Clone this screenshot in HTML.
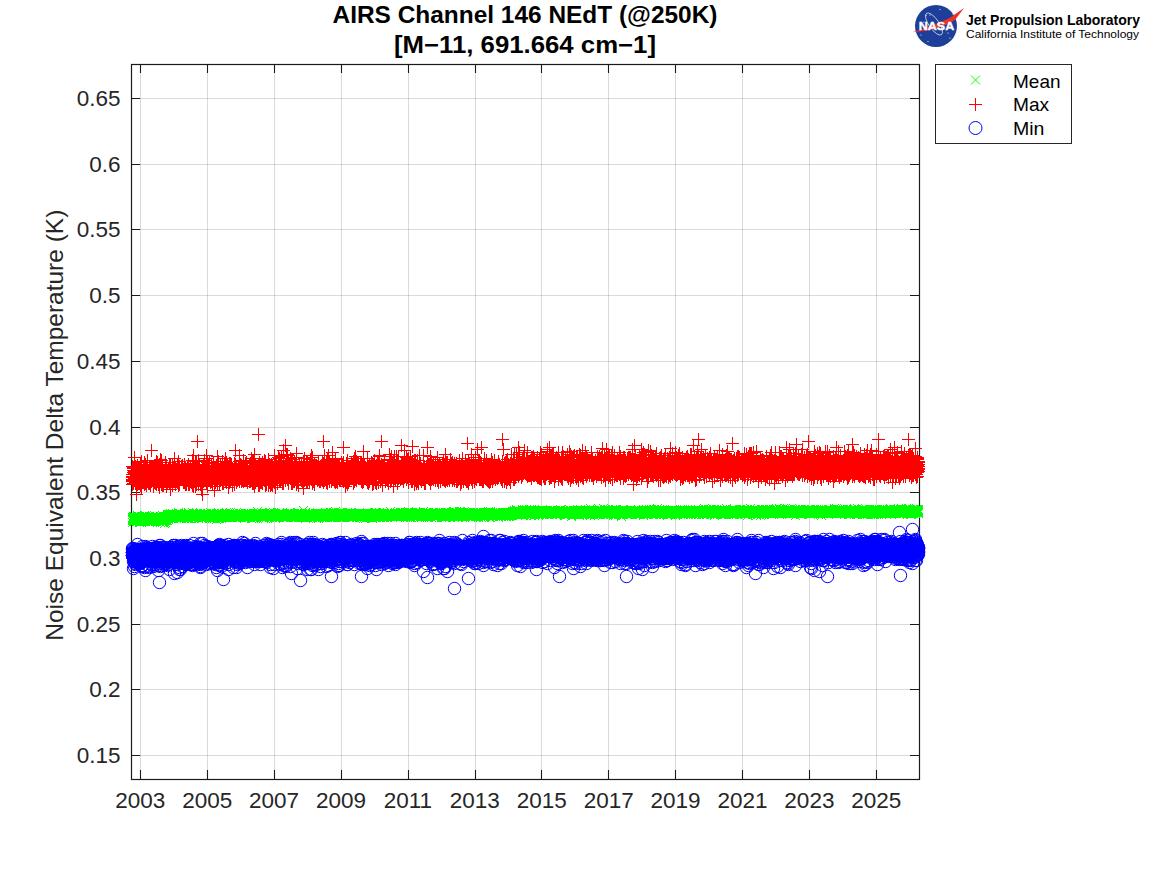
<!DOCTYPE html><html><head><meta charset="utf-8"><title>AIRS Channel 146 NEdT</title><style>html,body{margin:0;padding:0;background:#fff;width:1167px;height:875px;overflow:hidden;position:relative}</style></head><body><svg width="1167" height="875" viewBox="0 0 1167 875" style="position:absolute;left:0;top:0"><defs><marker id="mc" markerUnits="userSpaceOnUse" markerWidth="20" markerHeight="20" refX="10" refY="10" overflow="visible"><circle cx="10.5" cy="10.5" r="6.2" fill="none" stroke="#0000ff" stroke-width="1"/></marker><marker id="mp" markerUnits="userSpaceOnUse" markerWidth="20" markerHeight="20" refX="10" refY="10" overflow="visible"><path d="M4 10.5H17M10.5 4V17" fill="none" stroke="#ff0000" stroke-width="1"/></marker><marker id="mx" markerUnits="userSpaceOnUse" markerWidth="20" markerHeight="20" refX="10" refY="10" overflow="visible"><path d="M6 6L15 15M15 6L6 15" fill="none" stroke="#00ff00" stroke-width="1"/></marker></defs><path d="M131 755.5H919M131 689.5H919M131 624.5H919M131 558.5H919M131 492.5H919M131 427.5H919M131 361.5H919M131 295.5H919M131 229.5H919M131 164.5H919M131 98.5H919" stroke="#000" stroke-opacity="0.145" stroke-width="1" fill="none"/><path d="M140.5 64V779M207.5 64V779M274.5 64V779M341.5 64V779M408.5 64V779M475.5 64V779M541.5 64V779M608.5 64V779M675.5 64V779M742.5 64V779M809.5 64V779M876.5 64V779" stroke="#000" stroke-opacity="0.145" stroke-width="1" fill="none"/><path d="M131 755.5h9M919 755.5h-9M131 689.5h9M919 689.5h-9M131 624.5h9M919 624.5h-9M131 558.5h9M919 558.5h-9M131 492.5h9M919 492.5h-9M131 427.5h9M919 427.5h-9M131 361.5h9M919 361.5h-9M131 295.5h9M919 295.5h-9M131 229.5h9M919 229.5h-9M131 164.5h9M919 164.5h-9M131 98.5h9M919 98.5h-9M140.5 779v-9M140.5 64v9M207.5 779v-9M207.5 64v9M274.5 779v-9M274.5 64v9M341.5 779v-9M341.5 64v9M408.5 779v-9M408.5 64v9M475.5 779v-9M475.5 64v9M541.5 779v-9M541.5 64v9M608.5 779v-9M608.5 64v9M675.5 779v-9M675.5 64v9M742.5 779v-9M742.5 64v9M809.5 779v-9M809.5 64v9M876.5 779v-9M876.5 64v9" stroke="#1a1a1a" stroke-width="1.1" fill="none"/><rect x="131.5" y="64.5" width="788" height="715" fill="none" stroke="#1a1a1a" stroke-width="1.2"/><path d="M132 479l0 1 0 0 0-6 0 2 0-10 0 13 0 5 0-7 0-1 0 5 1-1 0-1 0-12 0 12 0-11 0 4 0 4 0-6 0 2 0-2 0 13 1-11 0 8 0-7 0 5 0-21 0 19 0 3 0 0 0-8 0 5 0-2 1-2 0-1 0-5 0 13 0 3 0 1 0-6 0 2 0 0 0-6 0 6 1 5 0-16 0 15 0-4 0-4 0 19 0-18 0-3 0 6 0 4 0-8 1 8 0-5 0 3 0 3 0-9 0 4 0-3 0 3 0-6 0-8 0 13 1 4 0 1 0-10 0-2 0 10 0-12 0 7 0 2 0 5 0-2 0-4 1 0 0 0 0 5 0 1 0-8 0-6 0 9 0 0 0-8 0 8 0-2 1 9 0-4 0-9 0 8 0-4 0 6 0-4 0 3 0-17 0 16 0-9 1-3 0 9 0-2 0 4 0 8 0-26 0 14 0 4 0 5 0-6 0-1 1 3 0 0 0-7 0 5 0 1 0-6 0 6 0 0 0 3 0-3 0 0 1-4 0 3 0-12 0 7 0 7 0-12 0 14 0-12 0 11 0-7 0 7 1-2 0-8 0 12 0 1 0-6 0-1 0 1 0-9 0 10 0-17 0 16 1-4 0 1 0-8 0 16 0-19 0 18 0-4 0-3 0 2 0-1 1 2 0-7 0 3 0-3 0 2 0 12 0-10 0-2 0-7 0 18 0-13 1-2 0 6 0-15 0 20 0-2 0 1 0-5 0 6 0-13 0 11 0-5 1-1 0 11 0-7 0 3 0-1 0-3 0 1 0 5 0-4 0 0 0 1 1 5 0-2 0-2 0-7 0-6 0 6 0 10 0-5 0 3 0 1 0 0 1 3 0-8 0 8 0-5 0 2 0-5 0 4 0 5 0-15 0 2 0 4 1-4 0 6 0 0 0 3 0-11 0 0 0 9 0-1 0-1 0 1 0-4 1-2 0 5 0-4 0-3 0 10 0-2 0 2 0-14 0 9 0-2 0 1 1 5 0-5 0 5 0 0 0 7 0-15 0 10 0-3 0-1 0-9 0 8 1 5 0-7 0 4 0-2 0 6 0-4 0-11 0 6 0-7 0-1 0 6 1 12 0-5 0-6 0 1 0 9 0-3 0-1 0-2 0 2 0 3 0-1 1-1 0-16 0 21 0-23 0 22 0-11 0 0 0 6 0-7 0 13 0-1 1-7 0 5 0-2 0-17 0 17 0-5 0 4 0-5 0 4 0 0 0 2 1 3 0-5 0 7 0-9 0 1 0-7 0 15 0-2 0-1 0-1 0-2 1 1 0-10 0 8 0-13 0 20 0 3 0-9 0-3 0 0 0 9 1-4 0-2 0-14 0-5 0 17 0 5 0-13 0 9 0-13 0 14 0-8 1 7 0-3 0 7 0-7 0 6 0 4 0-8 0-4 0 6 0 0 0-18 1 19 0 6 0-9 0 1 0-4 0 6 0-8 0 1 0 4 0-3 0 7 1 3 0 1 0 1 0 0 0-5 0-9 0 0 0 7 0 5 0-2 0-8 1 0 0-2 0 8 0-2 0 1 0 1 0-3 0 1 0 1 0-1 0 3 1-4 0 4 0-2 0-9 0 10 0-17 0 13 0 6 0-5 0 0 0-7 1 5 0 4 0 2 0 6 0-8 0-4 0-2 0-5 0 8 0-3 0 6 1-6 0 10 0 0 0 0 0-12 0 9 0-2 0-1 0 0 0-5 0 1 1 7 0-2 0 1 0 3 0-12 0-1 0 3 0 8 0-3 0-1 0 3 1-7 0 2 0 8 0-2 0-15 0 19 0-3 0 3 0-7 0 0 0-4 1 15 0-10 0 6 0-9 0-10 0 5 0 7 0 5 0-12 0 20 0-10 1-6 0 2 0 0 0 4 0-7 0 1 0 3 0 3 0-8 0 6 0 4 1-11 0 7 0-3 0-2 0-5 0 8 0 10 0-12 0-8 0 11 1-7 0 11 0-3 0-10 0 10 0-5 0 2 0 4 0 3 0-12 0 4 1 0 0 7 0-22 0 10 0 9 0 4 0-11 0 2 0 2 0-2 0 7 1-10 0 5 0 5 0-6 0 10 0-11 0-1 0-3 0 16 0-8 0 1 1 0 0-1 0 0 0-2 0-2 0-3 0 3 0-1 0 9 0 0 0-8 1-7 0 10 0 7 0-18 0 15 0-12 0 14 0-9 0 4 0-6 0 2 1 10 0 3 0-24 0 12 0-6 0 7 0 3 0-2 0 1 0-4 0 5 1 0 0 5 0 2 0-8 0-3 0 4 0-4 0 0 0-7 0 6 0 1 1 4 0 1 0-2 0-3 0-1 0-1 0 3 0 4 0 0 0-3 0 2 1-7 0-2 0 8 0-9 0 10 0 1 0-2 0-1 0-2 0-7 0 10 1-5 0 6 0-6 0 7 0 0 0-2 0-1 0-10 0 7 0 7 0-1 1 0 0-1 0-3 0 2 0 3 0 0 0-2 0-8 0 13 0-1 0 0 1-8 0-4 0 11 0-4 0-12 0 14 0-9 0 1 0 4 0 8 0-8 1 4 0 6 0-1 0-7 0 0 0-9 0 6 0 2 0 3 0-1 0 4 1-8 0 4 0 3 0-1 0 5 0-6 0-3 0-3 0 2 0-5 1 10 0-4 0 3 0-10 0 7 0-1 0-6 0-2 0 7 0 7 0-2 1-4 0 3 0 7 0-20 0 12 0-2 0-8 0 17 0-2 0-3 0 0 1 2 0-6 0 3 0 3 0 4 0-8 0 0 0 1 0 5 0 2 0-15 1 3 0 4 0 2 0-12 0 8 0-5 0 3 0 6 0-5 0-4 0 12 1-2 0 0 0-10 0 13 0-7 0 6 0-9 0-3 0 8 0-4 0 6 1 2 0-16 0 12 0-4 0 7 0-20 0 14 0 4 0 7 0-15 0 7 1 2 0 7 0-7 0-7 0 5 0-9 0 4 0-17 0 14 0-4 0 8 1 8 0-4 0 2 0-8 0 6 0-10 0 8 0-4 0 10 0-5 0-3 1-12 0 14 0 4 0-10 0 2 0 4 0 11 0-7 0-3 0 3 0 5 1-1 0-22 0 20 0-3 0 1 0-6 0 11 0-1 0-4 0 0 0-13 1 13 0-4 0 5 0-9 0 4 0-7 0 10 0-12 0 9 0-6 0 6 1-10 0 16 0-4 0 4 0 3 0-8 0-9 0 5 0-2 0-10 0 8 1-4 0 14 0-12 0 14 0-4 0-1 0 1 0-2 0-1 0-6 1 5 0 11 0 1 0-3 0-2 0-5 0 8 0-6 0 0 0-1 0 0 1-1 0 2 0-5 0 3 0 15 0-13 0-1 0 3 0 3 0-10 0 4 1 5 0-3 0-5 0 10 0-9 0-4 0 5 0 8 0-16 0 6 0 2 1 5 0-8 0 10 0-17 0 15 0-4 0-2 0 5 0-12 0 0 0 8 1-5 0 4 0 5 0-1 0 3 0-5 0-15 0 12 0-5 0 3 0 3 1 0 0-7 0 13 0-3 0 1 0 0 0 2 0-3 0 3 0-1 0-3 1 3 0-23 0 20 0-6 0 11 0-22 0 24 0-6 0-6 0-2 0 7 1 0 0-8 0 9 0-3 0-5 0 4 0-10 0 18 0 6 0-15 0 3 1-2 0 7 0-8 0 0 0 3 0-3 0 1 0-2 0-2 0-3 0 9 1 3 0 0 0-15 0 12 0 5 0-1 0-2 0-4 0 6 0-2 0-7 1 3 0 9 0-3 0 2 0-9 0 8 0-5 0 1 0 7 0-3 0-6 1 2 0 2 0 3 0-7 0-8 0 9 0 3 0-9 0 13 0-4 0 3 1-12 0 11 0 5 0-5 0-3 0 0 0 7 0-12 0 4 0 3 0-6 1 2 0 3 0-3 0-2 0 3 0-5 0 6 0 2 0-15 0 13 1 2 0-8 0 6 0-6 0 16 0-2 0 6 0-18 0 7 0-3 0 0 1 6 0-13 0 11 0-4 0 5 0-7 0-2 0-1 0 8 0-3 0 0 1-3 0-8 0 12 0-6 0 5 0 0 0 4 0-7 0 0 0 2 0-9 1 2 0 12 0-8 0-4 0 15 0-8 0-19 0 18 0-1 0 7 0-6 1 4 0-2 0-4 0-9 0 12 0-2 0 0 0 3 0 0 0-15 0 4 1 15 0 3 0-6 0 3 0-2 0 6 0-10 0 7 0-7 0 9 0-1 1-16 0 5 0 7 0 1 0-2 0 1 0-8 0-6 0 3 0 12 0-15 1 14 0-8 0 9 0-5 0-3 0 6 0-6 0 0 0-3 0 7 0 2 1 2 0-4 0 4 0 4 0-22 0 18 0 0 0-6 0 1 0 1 0 1 1-2 0 5 0-12 0 10 0-6 0 6 0 1 0-11 0 16 0-6 0 5 1-3 0-10 0 4 0 4 0-1 0-7 0-6 0 3 0 8 0-10 0 13 1-19 0 14 0 2 0 2 0-8 0-1 0 3 0-5 0 9 0 7 0-12 1 9 0-16 0 11 0 1 0 1 0 2 0 5 0-10 0 4 0-6 1 8 0-4 0 4 0-3 0-7 0-3 0 9 0 5 0-5 0-3 0 3 1-6 0 8 0 11 0-7 0-10 0-4 0 7 0 2 0-4 0 1 0 4 1 3 0-6 0-3 0-3 0-4 0 1 0 14 0-6 0 5 0 5 0-10 1-3 0 9 0 2 0-10 0-4 0 9 0-8 0 14 0-18 0 7 0-2 1 6 0-1 0-2 0 3 0 5 0-15 0 11 0-10 0 5 0 6 0-5 1 2 0 4 0-1 0-4 0 11 0 1 0-16 0 8 0 9 0-7 0 5 1-9 0-2 0 2 0-2 0 6 0-4 0-1 0 4 0-5 0-1 0 3 1 5 0-3 0-13 0 13 0-1 0-1 0-1 0 5 0-11 0 17 0-9 1-10 0-1 0 8 0 4 0-5 0 8 0-9 0-20 0 21 0-6 0 3 1 11 0 1 0-12 0 3 0 11 0-6 0-1 0 0 0 7 0-16 0 9 1-2 0 4 0-5 0-2 0 3 0-3 0 5 0 0 0 5 0-9 0 3 1 0 0 3 0-2 0-3 0-1 0-4 0 3 0 7 0-3 0-4 0 3 1 2 0 2 0-16 0 10 0-6 0-10 0 26 0-18 0 10 0 3 0-3 1-2 0 5 0-1 0-1 0-9 0 9 0-3 0 1 0-8 0 13 1 1 0-6 0 9 0-2 0 0 0 1 0-8 0-7 0 13 0-10 0 8 1-4 0 1 0-3 0 0 0 5 0 5 0-1 0-5 0-5 0 1 0 6 1-2 0 3 0 4 0-6 0-8 0 5 0-12 0 9 0 11 0-4 0-9 1 10 0 3 0-11 0 2 0 2 0 3 0 1 0 2 0 0 0-3 0 4 1-3 0-14 0 11 0 2 0-3 0 5 0-5 0-3 0 10 0-3 0 0 1 1 0 2 0-4 0-14 0 9 0 1 0-2 0 1 0 8 0-7 0-3 1 13 0-14 0 5 0 3 0-10 0 5 0 7 0-2 0-5 0 4 0 3 1-6 0 4 0-2 0 4 0-7 0 0 0 3 0 0 0 3 0 1 0-6 1 4 0-4 0 0 0 2 0 7 0-15 0 10 0 3 0 1 0-5 0-10 1 4 0-2 0 14 0-11 0 9 0-16 0 18 0-3 0-4 0 0 0 1 1 0 0-3 0 3 0 5 0-22 0 20 0-8 0 5 0 3 0-4 0-3 1-4 0 12 0-16 0 14 0-2 0-14 0 10 0 12 0-2 0-5 0 0 1-16 0 20 0 2 0-7 0-1 0-7 0 11 0 5 0-6 0 5 0-15 1 3 0 16 0-18 0 2 0 6 0 2 0-12 0 10 0-18 0-4 1 24 0-7 0-5 0 2 0 4 0-7 0 3 0-2 0 9 0 1 0 6 1-15 0 4 0 7 0-4 0-4 0 10 0-7 0-4 0-1 0 7 0 1 1-8 0-2 0 11 0 0 0-6 0 7 0-1 0-11 0 7 0 3 0-4 1-2 0 3 0 4 0 4 0-17 0 21 0-16 0 9 0-1 0 1 0-3 1-6 0 8 0-6 0-9 0 23 0-8 0 4 0-19 0 18 0 1 0-1 1-6 0-5 0 5 0-10 0 0 0 11 0-10 0 9 0 0 0 8 0-10 1 8 0-1 0-8 0 2 0 9 0-14 0-4 0 4 0 7 0 6 0-10 1-9 0 8 0-1 0-1 0 5 0 10 0-7 0-5 0 6 0-4 0 5 1-8 0 6 0 1 0-13 0 8 0-6 0 6 0-5 0 4 0-4 0 6 1 3 0-7 0-1 0 2 0 7 0-2 0 3 0-5 0 7 0-20 0 14 1-12 0-1 0 24 0-5 0-11 0 6 0-5 0 5 0-8 0 4 0 5 1-1 0 9 0-9 0 8 0-12 0 4 0-10 0 3 0-2 0 4 0 6 1-2 0-5 0 4 0-1 0 0 0 5 0 0 0-5 0-2 0 6 1-7 0 14 0 2 0-7 0-9 0 5 0-10 0 6 0-1 0-10 0 13 1 5 0-5 0 1 0-8 0 16 0-5 0 6 0-18 0 16 0-3 0 2 1 6 0-17 0 11 0 2 0-1 0-1 0 0 0-8 0 5 0-6 0 1 1 0 0 3 0 1 0 0 0-11 0 20 0-5 0-6 0-3 0 3 0 4 1-1 0-10 0 11 0 8 0-20 0 13 0-2 0-2 0 6 0-12 0 7 1 5 0-7 0-1 0-4 0 4 0 8 0-10 0 8 0-6 0 5 0 2 1-18 0 21 0-27 0 17 0 8 0-11 0-4 0 12 0 1 0 2 0-14 1-2 0 10 0-5 0 7 0-2 0 1 0-1 0-5 0 18 0-13 0-5 1 3 0-9 0 14 0-13 0-2 0 12 0-8 0 2 0 9 0-5 0 4 1 3 0-3 0-2 0 9 0-6 0-4 0-5 0 9 0-7 0 5 0-2 1-9 0 9 0 0 0-1 0-15 0 16 0-5 0 7 0-7 0 9 0-9 1-1 0 13 0-12 0-10 0 21 0-7 0 1 0 2 0 3 0-16 0 8 1-1 0 0 0 2 0-1 0 1 0-1 0 3 0 3 0-14 0 13 0 6 1-12 0-9 0 14 0-18 0 19 0-3 0-3 0-1 0 11 0-7 1 3 0-6 0 1 0 2 0 11 0-11 0 0 0-1 0 2 0 7 0-5 1 7 0-7 0 5 0 3 0-6 0-14 0 2 0 9 0-1 0-23 0 28 1-6 0-3 0 2 0 3 0 2 0-8 0 2 0 5 0 0 0-6 0 2 1-1 0 4 0 5 0-10 0 11 0-3 0-12 0 12 0-10 0-1 0 2 1 4 0 1 0-1 0 3 0-11 0 12 0-9 0 0 0-1 0 2 0-14 1 15 0-4 0 11 0 0 0-21 0 15 0 0 0 6 0-22 0 25 0-7 1-2 0 5 0 3 0-2 0 1 0-2 0 8 0-11 0 2 0 6 0-19 1 14 0-5 0 3 0 3 0-10 0 11 0-8 0 6 0-12 0 11 0 3 1-7 0 5 0-17 0 19 0-5 0 5 0-12 0 12 0-4 0 3 0-6 1 1 0 12 0-13 0 1 0 3 0-5 0 11 0 1 0-19 0 4 0 13 1-1 0-5 0 6 0-20 0 15 0-7 0-3 0 14 0-7 0 12 0-9 1-3 0 6 0 4 0-5 0-8 0 8 0 2 0-6 0-2 0 8 0-3 1-14 0 7 0 2 0 2 0-11 0 17 0 3 0-15 0 10 0 2 1-2 0 0 0-12 0 5 0 9 0-9 0-6 0 15 0-8 0 3 0-6 1-10 0 11 0 4 0 4 0-10 0 11 0-20 0 12 0 15 0-10 0-21 1 28 0-11 0 10 0-5 0 4 0-7 0-1 0-1 0 8 0-8 0 2 1 5 0-4 0 1 0 11 0-11 0-4 0 7 0-10 0 11 0 0 0-7 1 0 0 4 0-1 0-5 0-4 0-1 0 8 0 0 0 1 0 2 0-7 1 8 0-3 0-2 0-4 0 1 0 7 0-6 0 2 0 7 0 0 0 0 1-5 0-9 0 14 0-3 0 0 0 5 0-2 0-1 0 0 0-1 0 0 1-2 0 8 0-4 0-7 0 10 0-8 0 5 0-2 0-9 0 15 0-10 1-4 0 2 0 2 0 10 0-21 0 17 0-9 0 6 0 2 0 11 0-17 1 5 0-1 0-17 0 16 0-1 0-11 0 14 0 0 0-4 0-11 0 19 1-5 0 3 0 1 0-8 0 6 0-4 0 0 0-2 0 3 0 4 0-4 1-1 0 0 0 2 0-14 0 8 0 5 0-6 0 3 0-8 0 19 0-3 1-3 0-2 0 8 0-7 0-1 0-13 0 12 0 6 0-5 0 8 0-12 1 5 0-6 0 7 0-4 0 2 0 3 0 2 0-11 0 4 0-5 1 7 0-1 0-1 0-4 0 3 0-1 0 11 0-1 0-16 0 9 0-9 1 8 0-3 0 4 0-2 0 6 0-3 0-2 0-10 0-3 0 8 0 9 1-1 0-1 0 4 0 1 0-24 0 15 0 6 0 3 0-9 0-2 0 10 1-7 0-5 0 8 0-6 0 0 0 15 0-26 0 6 0 13 0 1 0-5 1 2 0-4 0 11 0-5 0-11 0 9 0-9 0 10 0-4 0 5 0-5 1 2 0-6 0 8 0-1 0 10 0-10 0-11 0 8 0 3 0-6 0 2 1 3 0 2 0-3 0-3 0 8 0-9 0 3 0-3 0 2 0 6 0-10 1 10 0 1 0-5 0 4 0-8 0-2 0 12 0-3 0-10 0 4 0 9 1 2 0-11 0 11 0-9 0-5 0 8 0 1 0-9 0 11 0 2 0-11 1-1 0 8 0-4 0-6 0 12 0-15 0 12 0 5 0-5 0-4 0 4 1-5 0-2 0 11 0-7 0 1 0 8 0-3 0 0 0 2 0 2 0-2 1-5 0 7 0-13 0 5 0-6 0 5 0-6 0 9 0-5 0 4 0-2 1 0 0-2 0 4 0-9 0 9 0 0 0 1 0-6 0-2 0 12 1-18 0 19 0-4 0 1 0-9 0 10 0 2 0-11 0 3 0 3 0 0 1 6 0-10 0 5 0-8 0 14 0-12 0-7 0 3 0 9 0 6 0-9 1 3 0 0 0 5 0-7 0-9 0 14 0-10 0 6 0 0 0-19 0 23 1-11 0 9 0 3 0-6 0-8 0 3 0 6 0 3 0-2 0 3 0-7 1 4 0-9 0 11 0-3 0-2 0 6 0-6 0-10 0 12 0-8 0 16 1 1 0-12 0 3 0-2 0 3 0 1 0 3 0-20 0 9 0 1 0 6 1 3 0-2 0-21 0 15 0 1 0 2 0 5 0-11 0 0 0 9 0 0 1-1 0 4 0-3 0 1 0-1 0 5 0-19 0 17 0-7 0 0 0-3 1-5 0 8 0-2 0 6 0-8 0 7 0 0 0 0 0-5 0 1 0-3 1 6 0 0 0-1 0-6 0 4 0-2 0 5 0 7 0-6 0-3 0-6 1-1 0-13 0 24 0-6 0 4 0-3 0 2 0 6 0-9 0 2 0 3 1 2 0-11 0 2 0-1 0 4 0 4 0 4 0-10 0 8 0-2 0-7 1 3 0 1 0-5 0 14 0-17 0 11 0 0 0-4 0 3 0 3 0-3 1 1 0 1 0-18 0 21 0 3 0-5 0 0 0-10 0-2 0-6 1 6 0 12 0-7 0 3 0-9 0 9 0-8 0 3 0-1 0 14 0-13 1-4 0 6 0 9 0 3 0-7 0-10 0 6 0 7 0-9 0 11 0-1 1-11 0 0 0 8 0 0 0-8 0 10 0-12 0 4 0 4 0-2 0-6 1 0 0 3 0 5 0 4 0-2 0 2 0-7 0 9 0-5 0-7 0 1 1 5 0-2 0-4 0 7 0-3 0 3 0-1 0 3 0 3 0-7 0-3 1 2 0 4 0-14 0 16 0-13 0 7 0-1 0 6 0-8 0-2 0 10 1-3 0-6 0 11 0-2 0-13 0 14 0-10 0 12 0-15 0 5 0 2 1-2 0 4 0 0 0-2 0-1 0-24 0 34 0-19 0 12 0 4 0-3 1-3 0-4 0 5 0-2 0 0 0-2 0 2 0 2 0 5 0-6 0 7 1-6 0 2 0 2 0-3 0-4 0 0 0 11 0-9 0 0 0 14 0-8 1 1 0-8 0 11 0-8 0 2 0-3 0-10 0 4 0 7 0 0 0-2 1-6 0 0 0 2 0-2 0 11 0 1 0 6 0-8 0-6 0-1 0-9 1 10 0 3 0-5 0 14 0-6 0-2 0 2 0 3 0-11 0 3 0-4 1 13 0-6 0 2 0-9 0 1 0 4 0 2 0 2 0-3 0-2 1 6 0-3 0-2 0-1 0 0 0 6 0-5 0 3 0-4 0-5 0 9 1-7 0 8 0-13 0 2 0 4 0 1 0-1 0-1 0 8 0-4 0 3 1-4 0-4 0-3 0 9 0 3 0-2 0-3 0-3 0 6 0 2 0-7 1 1 0 5 0 8 0-15 0 7 0 0 0-14 0 13 0-4 0 7 0-11 1 3 0 3 0 7 0-8 0 2 0-15 0 14 0 4 0 5 0-5 0-2 1 4 0-10 0 11 0-2 0-4 0 1 0 1 0 0 0-1 0-5 0-13 1 14 0 0 0 2 0-1 0-10 0 15 0 1 0 1 0 2 0 0 0-13 1 10 0-2 0 0 0 2 0-15 0 12 0-5 0 1 0 3 0-7 0 2 1 8 0-13 0 9 0-8 0 3 0 1 0 10 0-15 0 14 0-4 0 0 1 0 0 2 0-3 0 6 0-3 0-2 0 0 0 3 0 1 0 0 0-2 1 2 0-3 0-2 0 1 0-10 0 15 0-13 0 2 0 5 0-9 0 14 1-2 0-13 0 13 0-4 0 10 0-13 0-6 0 12 0-2 0-1 0-8 1 12 0 1 0-12 0 14 0-8 0 12 0-7 0-3 0 5 0-9 1 4 0 4 0-5 0-20 0 30 0-23 0 12 0 5 0-9 0 1 0 2 1 2 0 3 0 4 0-13 0 7 0 4 0-8 0 6 0-5 0 8 0-4 1 0 0-6 0 7 0-6 0 8 0-3 0-3 0 7 0-6 0-1 0 8 1-6 0 0 0-3 0-1 0 3 0 1 0 7 0 0 0-7 0 3 0-2 1 4 0-14 0 11 0 8 0-8 0-8 0 12 0-7 0 1 0-14 0 19 1-1 0 0 0 1 0 6 0-13 0 7 0-7 0 2 0 5 0-9 0 0 1 2 0 10 0-11 0 5 0-3 0-6 0 3 0 12 0-14 0 8 0 7 1-5 0-9 0 5 0 2 0 2 0-6 0-3 0 10 0-1 0-2 0-4 1 5 0-1 0 2 0-9 0-3 0 8 0-4 0 6 0-5 0 2 0-9 1 4 0 7 0-3 0 4 0 10 0-17 0-4 0 7 0 5 0 6 0-5 1-10 0 10 0-12 0 2 0 17 0-8 0 6 0-10 0 6 0-3 0 4 1-10 0-2 0 13 0 0 0-18 0-1 0 14 0-7 0 12 0-1 0-3 1 1 0 1 0 0 0-1 0-9 0 8 0 7 0-11 0 2 0-3 0 5 1 1 0-11 0 10 0-8 0 2 0 6 0-3 0 4 0 7 0-7 1-14 0 3 0 5 0-8 0 9 0-3 0 2 0 2 0-4 0-3 0 1 1 7 0 0 0 4 0-14 0 9 0 4 0-10 0 16 0-4 0 0 0-11 1 8 0-11 0-8 0 20 0-2 0-3 0 6 0-22 0 19 0 1 0-6 1 6 0-7 0 6 0-4 0 11 0-13 0 8 0-9 0-1 0 8 0 2 1-9 0 11 0-11 0 9 0-1 0 1 0-12 0 15 0-11 0 3 0-3 1-3 0 1 0 4 0 2 0-4 0 3 0 14 0-13 0-2 0 8 0-9 1 4 0-3 0-5 0 2 0-2 0 7 0 3 0 0 0-1 0 0 0-6 1-6 0 9 0-2 0 0 0 3 0-5 0-1 0 7 0 2 0-7 0 1 1 3 0-4 0 2 0 10 0-10 0 8 0-4 0 5 0-10 0 12 0-7 1 4 0-6 0 4 0-3 0-1 0 6 0-8 0-2 0 8 0 1 0 0 1-10 0 10 0-5 0-3 0-2 0 7 0-2 0-5 0 4 0 7 0-7 1-4 0 10 0-9 0 15 0-14 0 4 0 7 0-10 0-3 0 6 0 5 1-11 0-7 0 6 0-12 0 16 0 6 0-3 0-3 0 4 0-6 1 5 0-2 0 10 0-5 0-7 0-10 0 12 0-6 0 5 0 0 0 5 1-8 0 2 0-7 0 5 0 6 0-1 0 6 0-22 0 23 0-19 0 9 1-6 0 3 0 5 0 5 0-2 0 1 0-4 0 0 0-1 0 7 0-2 1-7 0 1 0-3 0 8 0-13 0 25 0-15 0 2 0 6 0-2 0-4 1 2 0-19 0 5 0 1 0 16 0-18 0 8 0 1 0-4 0 7 0 2 1 1 0 5 0-5 0 0 0-5 0 6 0-2 0-3 0-2 0 4 0 1 1 1 0-5 0-14 0 20 0-9 0 7 0-9 0-5 0-4 0 20 0-11 1 18 0-23 0 19 0 0 0-3 0-4 0 3 0-6 0 7 0-8 0-2 1 11 0-9 0 4 0 2 0-7 0 11 0-3 0-9 0 7 0-17 0 14 1 4 0-4 0 7 0 0 0 0 0-4 0 3 0-6 0 1 0-4 0-1 1 10 0 3 0-1 0-4 0-6 0 7 0-4 0 8 0-7 0-3 0-1 1 10 0-4 0-2 0 6 0-10 0 4 0-1 0-8 0 13 0-9 0 3 1-1 0 7 0-5 0 2 0-8 0 6 0-5 0 8 0 1 0-4 0 7 1-4 0 7 0-7 0-2 0-9 0 14 0-10 0 10 0-7 0 7 1-2 0-12 0-2 0 16 0-17 0 6 0 9 0-4 0-21 0 12 0-1 1 13 0-1 0-1 0 2 0 1 0-12 0 9 0-3 0-2 0 3 0 3 1-1 0-5 0-10 0 19 0-8 0-3 0 14 0-4 0 0 0-7 0 3 1-2 0-1 0 2 0-11 0 17 0 0 0-3 0 4 0-3 0 3 0-11 1-1 0 5 0-4 0-8 0 15 0-2 0-1 0-3 0-6 0 10 0 11 1-10 0 1 0 3 0-5 0-4 0 7 0-8 0 9 0-1 0 2 0-5 1 2 0-2 0-1 0 3 0-14 0 8 0 1 0-3 0 9 0 3 0-21 1 19 0-2 0 1 0 0 0-4 0-1 0 12 0-19 0 11 0 2 0-7 1-2 0 15 0-10 0 6 0-2 0-14 0 18 0-3 0 2 0-3 0-1 1 0 0 4 0-2 0-8 0 2 0 4 0-4 0 1 0-3 0 4 0 3 1 2 0-4 0 8 0-8 0 11 0-7 0-2 0-9 0-6 0 12 0 2 1-7 0-1 0 14 0-8 0 4 0-16 0 14 0-3 0 0 0 3 0-7 1 10 0-1 0-1 0 2 0 0 0-8 0-3 0 0 0 12 0 5 1-9 0-3 0 2 0 0 0-2 0-1 0 11 0-7 0-5 0-9 0 10 1 6 0 0 0-8 0 5 0-1 0-4 0 10 0-5 0 10 0-14 0 3 1 5 0-5 0-17 0 13 0 6 0 0 0-1 0-1 0 5 0-3 0 2 1-4 0 6 0-15 0 10 0 0 0-1 0-6 0 3 0-1 0 3 0 8 1-7 0 0 0 9 0-8 0-3 0 2 0 2 0-6 0 7 0 2 0-6 1 7 0-6 0 0 0 0 0-3 0 6 0-2 0 6 0-4 0 0 0-3 1-7 0 8 0-18 0 22 0-6 0 8 0-3 0 0 0-2 0 0 0 2 1 1 0-7 0 5 0 8 0-15 0 4 0-2 0-4 0 7 0 0 0-6 1 13 0 3 0-14 0 8 0-1 0-1 0 0 0-2 0 6 0-4 0-2 1 0 0 4 0-2 0-1 0 3 0-2 0-2 0-4 0-1 0-2 0 8 1-8 0-3 0 10 0 3 0-2 0-6 0 1 0 1 0-3 0 1 0 5 1-5 0 10 0-4 0-7 0 3 0-1 0 3 0-8 0 10 0-1 0-1 1 3 0-11 0 2 0 4 0 0 0 7 0-6 0 7 0-9 0 10 0-4 1-4 0-4 0-11 0 12 0-2 0 8 0-1 0 0 0-2 0 12 1-12 0-1 0 8 0 1 0 0 0-15 0 6 0 9 0-6 0 2 0-14 1 10 0-1 0 8 0-5 0 4 0-7 0-5 0 5 0 8 0-10 0 8 1 2 0-4 0-6 0 11 0-9 0 9 0-4 0 0 0-4 0-8 0 6 1 0 0 6 0-1 0-5 0 2 0 2 0-5 0 1 0-2 0 3 0 1 1 4 0 5 0-16 0 9 0 0 0 0 0-1 0-1 0 4 0-4 0-3 1 5 0 1 0-2 0 5 0-4 0 1 0-1 0-5 0 1 0-1 0 6 1-4 0-13 0 17 0 1 0-9 0 14 0-7 0-14 0 4 0 3 0 4 1 9 0-11 0 2 0 6 0-8 0 5 0-7 0 16 0-13 0 4 0 3 1-3 0-10 0 12 0-1 0 2 0 1 0-2 0 0 0-1 0-6 0 4 1 0 0-1 0 2 0-8 0 14 0 2 0-11 0-1 0 3 0 6 0-3 1-2 0 2 0-1 0-6 0 3 0-1 0 3 0 1 0 3 0-4 0 4 1-8 0 6 0-3 0 2 0-1 0 6 0-16 0 11 0-8 0 12 0-14 1-3 0 4 0 14 0-12 0 4 0-1 0-5 0 5 0 6 0-4 0 5 1-6 0-7 0 7 0 2 0 7 0-6 0 0 0-4 0-3 0 12 1-25 0 15 0 3 0-4 0 13 0-19 0 12 0 2 0-8 0 4 0 3 1 2 0-8 0-4 0 12 0 2 0-8 0-9 0 14 0-4 0 5 0-3 1-3 0-8 0 16 0 0 0-17 0 6 0 12 0-9 0-9 0 11 0 0 1-4 0 3 0 0 0-1 0 3 0-5 0 9 0-6 0 6 0-3 0-2 1 5 0-3 0 2 0-2 0 5 0-2 0-12 0 7 0 3 0-1 0-2 1-9 0 0 0 10 0 2 0-2 0-15 0 18 0-7 0 5 0 0 0-6 1 1 0-7 0 6 0-5 0 10 0 3 0-14 0 7 0 0 0 4 0-3 1 4 0-5 0-2 0-4 0 7 0-1 0 6 0 4 0-9 0 0 0-9 1 10 0 4 0-11 0 9 0 4 0-10 0 3 0-3 0 10 0-13 0 6 1 9 0-17 0 12 0-3 0-5 0 6 0 2 0-7 0 6 0 4 0-1 1-12 0 3 0-3 0 9 0-2 0 4 0-7 0-2 0 6 0 0 0-4 1 12 0-6 0-3 0-4 0-5 0 9 0 0 0 0 0-7 0 5 0 7 1-4 0 8 0-13 0 4 0-2 0-3 0 0 0 4 0 6 0-3 1 5 0-7 0-1 0-5 0 4 0 8 0-4 0 2 0 0 0-3 0-4 1-9 0 16 0-1 0 0 0-1 0-5 0-4 0 3 0 9 0-15 0 10 1 6 0-7 0-5 0 7 0 5 0-6 0 3 0-2 0-2 0 13 0-11 1-6 0 4 0 11 0-11 0 5 0-12 0 2 0 9 0-6 0 3 0-6 1 5 0-2 0 4 0-7 0 7 0-11 0 5 0 0 0-9 0 18 0-11 1 5 0 0 0 1 0 5 0-4 0-2 0-1 0 12 0-5 0 1 0-11 1 1 0 10 0-5 0 0 0 2 0-7 0 9 0-4 0 3 0-5 0 5 1-6 0 5 0 5 0-3 0-9 0-5 0-2 0 18 0-6 0 1 0 2 1-9 0-2 0 11 0-1 0-4 0-2 0 10 0-11 0 14 0-8 0-8 1 12 0-2 0-2 0 6 0-8 0 8 0-8 0-6 0 10 0-3 0 9 1-9 0 4 0-4 0-2 0 1 0-2 0 2 0-11 0 9 0 4 0 10 1-4 0-8 0-1 0-2 0-3 0-1 0 14 0-4 0-7 0 6 0 3 1-7 0 5 0-5 0 1 0 5 0 1 0-8 0-1 0 10 0-9 0 7 1-1 0 2 0 3 0-4 0 1 0-22 0 15 0 6 0 4 0-1 1-8 0 4 0-1 0 4 0-8 0 3 0-4 0 14 0-15 0 4 0-5 1 11 0-9 0 8 0-11 0 6 0 6 0-8 0 4 0-3 0-9 0 13 1-4 0-3 0 8 0-7 0 0 0 5 0-4 0 12 0-12 0 7 0 1 1-14 0 1 0 11 0-5 0 4 0 3 0 1 0-19 0-2 0 16 0-5 1 9 0-3 0-8 0 13 0-2 0-1 0-9 0 4 0-1 0 2 0-5 1 7 0-5 0 4 0-3 0 6 0-3 0-24 0 21 0 2 0 4 0-3 1-2 0-2 0 6 0-6 0 1 0-1 0 6 0-13 0-2 0 15 0-6 1 0 0 5 0 3 0 0 0-17 0 14 0-8 0 13 0-6 0 0 0-2 1-9 0 17 0-6 0-8 0 9 0 1 0-4 0-6 0 14 0-17 0 8 1 9 0-3 0-4 0-9 0 10 0 2 0-3 0-6 0 3 0-3 0 8 1 2 0 1 0-8 0 5 0-1 0-3 0 2 0 9 0-8 0 3 0-6 1 1 0-7 0 3 0 10 0 4 0-4 0-2 0-2 0-3 0 2 0 3 1-9 0 10 0-8 0-4 0 4 0-1 0-9 0 19 0-11 0 7 1 4 0 0 0-7 0 8 0-4 0-1 0-6 0-1 0 3 0 3 0 3 1-4 0 1 0 7 0-1 0-2 0 1 0-13 0 7 0-11 0 11 0-4 1 12 0-8 0-3 0 6 0 6 0-7 0 4 0-7 0 0 0-1 0-4 1 15 0-15 0 16 0-15 0 5 0 5 0-1 0-1 0-10 0 10 0-5 1 13 0-11 0 4 0-8 0 3 0-4 0 10 0-5 0 4 0-7 0 1 1 12 0-13 0-4 0 5 0-2 0 3 0 6 0-6 0 6 0-7 0 9 1 0 0-8 0 1 0-4 0 7 0 3 0-18 0 17 0-10 0 5 0-7 1 17 0-7 0-2 0-3 0 8 0-15 0 11 0-2 0 0 0 8 0-4 1-3 0 1 0 0 0 0 0 1 0 4 0-4 0 2 0 2 0-3 0-4 1-11 0 15 0-9 0 2 0-5 0 4 0-5 0 8 0 0 0 3 0 4 1-5 0 0 0-2 0 9 0-2 0-5 0-6 0 3 0 6 0-6 0 5 1 1 0-1 0 1 0-1 0-8 0 5 0 4 0-9 0 4 0 7 0-5 1-4 0-2 0 9 0 0 0 3 0-5 0 3 0-6 0 3 0-6 0 6 1 2 0 2 0-15 0 15 0-7 0-1 0 3 0-11 0 11 0 2 1-3 0 4 0-4 0 2 0-8 0 7 0-5 0 3 0 2 0 1 0-9 1 2 0 5 0 3 0 0 0 2 0 1 0-3 0 0 0-5 0-1 0 2 1 3 0 0 0-1 0 0 0 7 0-7 0 2 0 0 0-4 0-3 0 7 1 0 0-3 0-1 0 11 0-13 0 6 0-1 0-12 0 12 0 6 0-3 1-1 0-4 0 4 0-7 0 4 0 1 0 0 0 3 0-2 0 0 0-25 1 14 0 18 0-4 0-6 0-3 0 5 0-6 0 7 0-4 0 6 0 2 1-16 0 6 0 1 0-4 0 6 0-7 0 14 0-13 0 11 0-2 0 1 1-1 0-2 0-2 0 4 0 0 0 1 0 7 0-7 0-1 0 4 0-17 1 6 0 3 0-6 0 11 0-4 0 8 0-1 0-3 0-16 0 16 0-8 1 0 0 7 0 1 0-2 0 5 0-1 0-9 0 5 0-9 0 11 0-7 1 8 0-2 0 3 0-1 0-11 0 8 0-2 0 7 0-4 0 1 0 4 1-5 0 8 0-17 0 11 0-5 0 1 0 0 0 5 0-7 0-7 0 9 1-3 0 2 0 0 0 3 0-4 0 5 0-4 0-1 0 1 0-17 1 19 0 1 0-5 0-2 0 0 0-3 0 1 0 4 0 5 0 0 0-3 1 3 0-5 0-4 0 0 0 14 0-20 0 11 0 6 0-3 0-8 0-1 1 10 0 1 0-21 0 19 0-2 0 4 0 1 0-7 0-7 0 17 0-2 1-4 0-2 0 6 0-12 0 8 0-5 0 2 0 0 0 6 0-11 0 2 1-5 0 10 0-10 0 9 0-17 0 14 0 6 0-9 0 7 0 0 0-4 1-6 0 12 0-4 0 4 0-14 0 1 0-2 0 6 0 9 0-2 0-2 1-9 0 12 0-6 0 6 0-3 0-11 0 16 0 1 0-14 0 7 0-1 1-1 0 7 0-6 0-3 0-8 0 10 0-7 0 1 0 12 0-12 0-9 1 18 0-2 0-2 0 7 0-11 0 2 0-1 0 1 0 8 0-10 0 2 1 1 0-3 0 6 0 5 0-7 0-3 0 4 0 5 0-7 0 6 0 6 1-10 0 3 0-2 0-2 0-5 0 3 0 7 0 1 0-3 0-10 0 16 1-2 0-10 0 7 0 0 0 2 0-7 0 1 0 1 0-6 0-4 0 10 1 4 0-7 0 2 0-1 0-15 0 22 0-5 0 4 0-7 0 2 0-5 1 11 0-5 0 3 0 2 0-3 0 4 0-3 0 2 0 0 0-5 1-4 0-2 0 6 0 4 0 3 0-1 0-6 0-8 0 12 0-2 0 5 1-10 0 4 0 4 0-5 0 5 0 4 0-1 0-3 0-1 0-19 0 12 1 6 0 0 0-1 0 0 0-3 0 5 0 4 0-4 0-10 0 4 0-3 1 3 0 6 0 0 0-5 0 5 0-5 0-4 0 0 0-1 0 14 0-12 1-3 0 15 0-6 0 0 0-3 0 3 0-2 0 2 0 2 0 3 0-3 1-14 0 11 0 3 0-13 0 13 0-1 0-5 0 13 0-13 0 0 0 7 1-12 0 5 0-8 0 7 0 5 0 2 0 3 0-7 0 7 0-16 0 9 1 7 0-7 0-1 0 9 0-3 0-7 0 7 0-3 0-6 0-7 0 7 1 9 0-8 0 11 0-4 0-6 0 4 0-6 0 7 0 2 0 1 0-15 1 10 0 3 0 0 0 3 0-11 0 5 0-6 0 8 0 1 0 1 0-6 1 4 0-5 0-3 0 10 0-8 0-3 0 4 0 6 0 4 0-2 0 0 1-16 0 12 0 2 0 0 0 0 0 1 0 4 0-1 0-6 0-11 0 19 1-15 0 12 0 3 0-12 0 5 0-2 0 3 0-2 0 8 0-5 0-3 1 9 0-10 0-1 0 11 0-13 0 2 0 3 0-6 0-6 0 15 1-17 0 3 0 8 0-4 0-11 0 18 0 8 0-10 0 4 0-18 0 16 1-16 0 18 0-4 0-8 0 9 0-3 0-4 0 17 0-16 0 0 0-9 1 12 0 4 0 3 0-3 0 0 0-1 0 4 0-13 0 11 0-6 0-2 1 6 0-2 0 8 0-11 0-6 0 11 0 7 0-3 0 2 0-5 0-8 1 2 0 8 0-3 0-3 0 2 0 2 0-10 0 8 0 7 0 3 0-2 1 0 0-9 0-2 0-7 0 17 0-8 0 11 0-7 0-1 0-13 0 18 1-8 0 1 0-10 0 15 0 1 0-8 0 2 0 3 0 2 0-3 0-6 1 4 0-2 0 1 0-18 0 2 0 22 0-3 0-3 0-1 0-7 0 9 1 5 0-1 0-7 0 8 0-3 0-3 0 5 0-11 0-2 0 13 0-6 1 4 0-4 0 2 0 4 0 6 0-10 0-21 0 27 0-2 0 0 0-8 1 13 0-12 0 6 0-11 0-5 0 11 0 3 0 2 0-6 0 8 0-9 1-8 0 16 0-9 0 9 0 0 0-3 0 8 0-7 0-6 0 0 0-3 1 5 0-12 0 13 0 0 0-10 0 14 0-11 0 14 0-8 0 1 1-3 0 9 0-6 0 3 0-16 0 20 0-3 0 3 0-14 0 8 0 0 1 4 0-1 0-2 0 0 0-2 0 5 0 1 0-4 0 12 0-20 0 7 1 8 0-9 0-8 0 16 0-2 0-13 0 12 0-8 0-2 0 6 0-1 1-10 0 10 0-3 0 5 0 0 0 3 0-7 0-3 0 1 0 5 0 5 1-2 0-5 0 7 0-10 0 10 0-7 0 6 0-14 0 10 0 2 0-6 1 5 0 0 0 10 0-8 0-8 0-11 0 8 0 1 0 4 0 13 0-15 1 12 0-2 0-8 0 1 0-4 0 0 0 9 0-5 0 5 0-10 0 5 1 5 0-9 0 7 0-5 0 10 0-7 0 0 0 7 0 2 0-14 0 5 1 3 0-3 0-2 0 7 0-15 0 21 0-7 0-3 0-6 0 11 0-1 1-8 0 6 0-8 0-10 0 9 0 1 0 4 0-2 0 15 0-7 0-5 1-3 0 8 0-16 0 3 0 13 0 0 0 1 0-3 0-7 0-2 0 10 1-6 0 1 0-4 0 5 0 5 0-1 0-8 0 1 0 3 0 4 0-8 1 5 0-10 0 4 0 6 0 5 0-10 0 2 0 8 0-6 0 2 0 2 1-2 0 4 0-2 0-5 0 2 0 1 0-7 0 2 0 9 0-12 1 12 0-3 0 6 0-5 0 0 0 3 0-7 0 1 0-14 0 22 0-3 1-9 0 3 0-2 0 4 0 1 0 8 0-18 0 13 0-2 0-6 0 3 1-1 0 2 0 3 0-21 0 10 0 6 0 8 0-6 0 1 0-3 0 6 1-4 0-4 0 7 0 0 0 3 0-21 0 14 0 12 0-17 0 5 0 9 1-1 0-11 0 12 0-3 0-7 0 4 0-1 0-8 0 4 0-2 0-8 1 20 0-9 0-10 0 10 0 3 0 1 0-2 0-4 0 10 0-9 0 6 1-4 0-5 0 10 0-17 0 14 0 1 0 2 0-1 0-3 0-2 0 10 1-10 0 1 0-4 0 1 0 0 0 6 0-2 0-3 0-2 0-9 0 12 1 1 0-3 0 5 0-4 0-1 0 11 0-4 0 2 0-5 0 4 0-1 1 2 0 4 0-6 0-2 0-1 0-13 0 5 0 8 0 2 0-5 0-3 1 11 0-9 0 10 0 1 0-5 0-7 0 10 0-18 0 11 0 2 0-9 1 8 0 4 0 2 0-3 0-8 0 5 0 4 0-5 0 13 0-12 0-2 1 7 0-1 0-3 0-1 0-5 0-3 0 12 0-18 0 17 0 1 1 0 0-15 0 7 0 1 0 3 0 2 0 5 0-4 0-16 0 14 0 7 1-10 0 4 0 5 0-5 0-11 0 11 0-3 0 1 0 6 0-3 0-3 1 4 0-1 0-1 0 0 0 0 0-3 0 0 0 2 0-19 0 13 0 14 1-9 0 3 0-3 0 1 0 0 0 0 0-4 0 8 0-7 0 12 0-19 1 6 0 2 0 1 0-2 0 4 0-6 0 5 0-11 0 9 0-1 0 5 1-1 0-5 0 4 0-17 0 7 0-5 0 20 0-6 0-2 0-1 0-5 1 14 0-5 0 7 0-8 0-11 0 11 0-1 0 1 0 1 0-1 0 5 1-4 0-4 0 6 0-5 0 8 0-1 0-4 0 0 0 2 0-3 0-9 1 9 0 3 0-7 0 5 0 1 0-10 0 7 0-1 0 6 0-12 0 9 1 6 0-5 0-9 0 8 0 4 0-7 0 7 0-2 0-1 0-8 0 4 1-3 0 6 0 2 0 0 0-6 0 4 0 1 0-10 0 5 0 1 0 0 1 2 0-6 0 7 0 2 0-1 0-18 0 17 0-6 0 12 0-8 0 0 1 2 0-1 0 1 0 6 0-17 0 14 0 1 0-9 0-2 0 9 0 2 1-8 0 12 0-14 0 3 0 12 0-7 0-3 0-2 0 1 0 6 1-9 0 10 0 0 0-11 0 3 0-3 0 6 0 5 0-2 0-8 0 3 1 6 0-7 0 2 0 3 0-11 0 12 0-4 0 3 0-7 0 2 0 0 1 4 0-1 0-1 0 8 0-2 0-9 0 1 0 9 0-8 0 7 0-5 1-3 0 2 0 2 0-5 0-1 0 3 0 5 0-6 0 8 0-7 0-11 1 18 0-10 0-6 0 13 0-8 0 8 0 3 0-9 0 5 0-7 0 8 1 0 0-13 0 6 0 7 0 3 0-3 0-11 0 10 0 1 0-15 0 18 1-5 0 1 0-6 0 5 0 0 0-9 0 9 0-11 0 16 0-11 0-5 1 2 0 3 0-6 0 9 0 4 0-6 0 13 0-6 0 5 0-12 0 7 1-7 0-2 0 9 0-10 0 5 0-4 0-14 0 17 0-1 0-2 0 7 1 2 0-10 0 4 0 4 0-1 0-3 0 7 0 2 0-3 0-3 0 8 1-1 0-8 0 1 0 5 0-8 0 5 0-15 0 10 0 3 0-7 0 5 1-8 0 19 0-3 0-7 0 3 0 10 0-4 0-3 0 1 0-10 0 6 1-9 0 2 0-14 0 11 0 13 0-11 0 11 0 1 0-10 0 2 1 2 0 4 0-5 0-4 0 7 0-13 0 12 0 4 0-3 0 2 0-7 1 4 0 0 0-13 0-2 0 13 0 6 0 4 0-17 0 8 0-3 0 3 1 6 0-4 0-2 0-3 0 7 0-2 0-15 0 0 0 20 0-7 0 7 1-2 0-4 0 3 0-4 0-8 0 7 0-3 0 13 0-8 0 2 0 1 1-16 0 14 0-10 0 9 0-5 0 5 0-9 0 0 0 9 0-1 0-9 1 12 0-1 0-18 0 9 0 18 0-12 0-7 0 4 0 3 0 1 0 0 1-5 0 8 0-5 0-4 0-1 0 6 0 2 0 1 0-3 0 3 0-1 1 7 0-11 0 6 0 0 0-7 0 5 0-14 0 11 0 5 0 1 0 1 1-5 0 1 0 5 0-11 0 8 0 1 0-3 0 5 0-5 0 2 0 2 1-6 0 0 0 1 0-2 0 2 0-5 0 8 0 4 0-4 0-2 0-2 1 7 0-9 0 3 0 7 0-17 0 14 0-2 0-2 0-4 0 5 0-3 1 6 0 1 0-11 0 4 0 1 0-4 0 0 0 6 0-2 0-7 0 6 1 4 0-8 0 2 0 10 0-2 0-17 0 7 0 8 0-12 0 2 0-8 1 19 0-15 0 1 0 5 0 3 0-7 0 2 0 18 0-7 0-4 1 0 0-1 0 7 0-4 0 1 0-10 0 6 0-2 0 5 0-2 0 0 1 2 0 1 0 2 0-11 0 12 0-13 0 4 0 0 0 9 0-1 0-7 1-2 0 6 0 5 0 4 0-16 0-5 0 10 0-5 0 7 0 3 0 4 1-9 0-10 0 3 0 15 0-3 0-5 0 6 0-5 0-8 0 10 0-7 1 5 0-7 0-1 0 4 0 4 0 8 0-8 0-1 0-4 0 7 0 0 1-2 0 3 0 1 0-10 0 9 0-2 0 5 0-8 0 9 0-1 0 1 1-10 0 0 0 7 0-14 0 7 0-6 0 5 0 8 0-2 0-1 0-3 1 0 0 5 0-6 0 8 0-7 0-2 0 10 0-6 0 2 0 1 0-14 1 13 0-11 0 13 0-11 0-2 0 10 0-9 0 9 0-7 0 10 0-15 1 9 0-2 0 2 0 0 0-1 0 7 0-1 0-11 0-3 0 9 0-1 1 4 0-10 0 12 0 0 0 4 0-14 0 7 0-2 0 4 0-2 0 3 1-5 0 8 0-25 0 11 0 10 0-9 0 10 0-9 0 11 0-9 0 2 1 10 0-8 0-9 0 25 0-18 0-4 0 10 0 2 0-1 0-12 0 3 1 7 0-11 0 8 0 1 0-24 0 20 0 10 0-16 0 6 0 4 1 1 0 4 0-18 0 11 0 4 0-9 0-1 0 14 0-1 0-10 0-9 1 13 0 2 0-3 0 1 0 11 0-12 0-4 0 6 0-3 0 1 0 1 1 3 0-3 0-6 0 5 0 3 0-4 0 7 0-2 0-9 0 7 0 7 1-2 0-6 0 4 0-7 0-4 0 2 0 6 0 1 0-2 0 1 0 1 1 0 0 1 0-3 0 3 0-13 0-2 0 18 0 1 0-6 0-1 0-6 1 7 0 0 0-8 0 7 0 2 0 0 0-8 0 8 0-13 0 7 0 5 1-7 0 16 0-3 0-10 0 10 0-12 0 6 0 4 0-24 0 22 0-17 1 0 0 9 0 4 0-4 0-3 0 6 0-4 0 12 0-13 0 5 0 8 1-15 0 5 0 7 0-7 0 2 0 2 0 3 0 0 0-5 0-14 0 21 1-2 0-2 0 0 0-3 0-3 0 3 0 1 0-2 0-11 0 13 0-1 1 0 0 2 0-10 0 3 0 7 0-6 0-5 0 13 0-6 0 6 0-4 1 3 0-10 0 2 0 9 0-3 0 8 0-8 0-1 0 5 0 2 0-2 1-3 0 2 0 1 0 0 0-6 0 3 0-1 0 14 0-13 0-2 1 0 0-4 0 7 0-10 0-9 0 27 0-12 0 4 0 0 0 4 0 2 1-5 0-5 0-3 0 2 0 4 0-6 0 6 0 0 0 3 0-5 0 3 1-18 0 15 0-7 0 7 0 8 0-5 0 0 0-5 0 6 0-19 0 20 1-2 0-6 0 11 0-6 0 1 0 1 0-2 0-2 0 4 0-15 0 13 1-6 0-1 0 1 0 4 0 2 0 5 0-13 0 9 0-12 0 6 0 7 1-13 0 2 0 10 0-1 0 0 0-4 0 12 0-9 0-3 0 11 0-9 1 0 0 6 0-3 0 2 0-2 0-6 0 9 0-3 0-6 0 1 0-5 1 7 0 2 0 3 0-2 0-8 0 10 0 1 0-1 0 3 0-18 0 15 1 3 0-6 0 7 0 0 0-4 0 4 0-4 0-18 0 20 0-4 0 1 1-1 0 4 0-3 0-5 0 7 0 0 0-7 0 2 0-1 0-3 0 5 1 4 0 3 0-1 0 6 0-7 0 0 0-7 0 5 0-2 0-6 0 3 1 0 0 1 0-5 0 8 0-2 0-5 0 3 0 5 0-13 0 10 0-8 1-3 0 2 0 21 0-21 0 8 0 7 0-8 0 4 0 4 0-2 0 6 1-7 0-6 0 5 0-12 0 4 0 0 0 11 0-18 0 12 0-2 1 4 0-2 0-1 0-4 0-1 0 4 0 4 0 7 0-3 0 2 0-4 1-3 0-6 0-2 0 2 0 4 0 8 0 3 0-18 0 7 0-5 0 5 1 0 0 7 0 3 0-11 0 2 0 1 0-1 0-9 0 11 0 1 0 0 1-8 0 6 0-8 0 12 0-3 0-2 0-1 0-1 0-10 0 5 0 15 1-6 0 0 0 7 0-10 0 7 0-3 0 5 0-5 0-2 0-3 0 4 1 4 0-15 0 10 0-1 0 0 0-8 0 12 0-7 0 3 0-2 0-2 1 1 0-5 0 5 0 3 0 1 0 1 0-1 0 9 0-7 0-8 0 3 1 0 0 3 0-3 0-8 0 18 0-9 0-9 0 3 0 7 0 7 0-4 1 4 0-26 0 25 0-14 0 17 0-8 0-8 0 11 0-5 0-6 0 5 1 8 0 0 0-2 0-8 0 6 0-6 0 5 0-7 0 12 0-1 0 0 1-4 0 0 0 1 0-10 0 13 0 0 0-19 0 11 0 0 0 10 0-4 1-1 0-3 0-5 0 5 0 3 0-5 0 5 0 2 0-1 0 0 0 2 1-3 0-1 0 2 0-10 0 13 0-11 0 10 0-3 0 3 0-3 1-17 0 21 0-5 0 6 0-5 0 3 0 0 0-3 0-9 0 9 0 0 1 6 0-5 0-13 0 15 0-4 0-8 0 9 0-8 0 11 0-4 0-1 1-4 0 6 0 5 0-9 0-2 0 7 0-9 0-3 0 9 0 6 0-6 1-1 0 5 0-4 0-1 0 0 0 5 0 1 0 0 0-1 0-16 0 9 1 3 0 2 0-16 0 15 0-6 0 2 0 3 0-3 0-5 0 12 0-5 1-4 0 3 0 11 0-16 0 13 0-14 0 20 0-16 0 1 0 7 0 2 1-5 0-6 0 7 0 7 0-15 0 10 0 0 0-3 0-2 0 4 0 3 1-5 0-4 0 11 0-18 0 17 0-3 0 7 0-8 0 3 0-4 0 3 1-2 0 7 0-12 0 8 0-3 0-1 0-5 0 7 0-10 0 1 0 9 1-10 0 13 0-7 0 3 0-1 0 1 0-9 0 9 0-2 0 5 0-4 1 5 0-4 0-2 0-8 0 11 0 4 0-8 0 5 0-2 0-1 0 4 1-5 0-11 0 8 0 2 0 4 0-7 0 3 0-3 0 5 0-3 0 6 1 0 0-1 0-1 0-1 0-8 0 14 0-19 0 12 0-8 0 4 0-1 1 7 0 2 0-6 0-7 0 8 0-4 0 8 0-10 0 14 0-6 1-4 0 1 0-3 0 7 0 4 0-6 0 1 0-5 0 6 0 7 0-16 1 12 0-6 0-13 0 8 0 2 0 8 0-13 0 9 0 3 0-2 0 0 1-2 0 9 0-11 0 10 0-8 0-2 0 6 0-1 0-11 0 11 0-16 1 11 0 7 0-8 0 6 0-3 0 9 0-8 0-5 0 0 0 1 0 5 1-2 0 5 0-3 0 0 0 1 0-2 0 2 0 2 0-10 0 4 0-6 1 5 0 6 0-15 0 10 0 4 0-2 0-5 0 12 0-1 0-9 0 9 1 0 0-11 0 17 0-16 0 3 0-4 0 6 0-7 0 3 0 6 0-2 1-2 0 12 0-15 0 8 0-5 0 2 0 0 0 7 0-8 0-3 0-8 1 13 0-16 0 9 0 2 0 0 0 2 0 2 0-1 0 0 0 1 0-18 1 4 0 14 0-9 0 4 0-1 0 8 0-8 0 7 0-5 0 1 0-4 1 8 0 0 0 0 0 3 0-10 0 7 0 0 0-1 0-2 0-3 0 12 1-17 0 3 0 8 0-1 0-9 0 8 0-1 0-4 0 9 0-14 0 9 1-3 0-15 0 21 0-14 0 14 0-1 0-3 0-2 0 1 0-1 1 5 0 1 0-11 0 7 0 3 0-9 0-1 0 5 0-4 0 1 0-1 1 10 0-4 0-6 0 5 0 4 0-12 0 14 0-9 0 12 0-16 0 4 1-3 0 6 0 9 0-14 0 6 0 3 0 2 0 1 0-2 0 7 0-11 1 3 0 3 0-5 0-8 0 7 0-7 0 4 0 3 0-2 0 6 0-14 1 20 0-1 0-12 0 4 0-2 0 8 0-4 0 1 0-5 0 7 0-8 1 5 0-9 0 5 0 5 0-6 0-1 0 7 0-2 0-5 0-5 0 1 1 11 0-9 0-1 0 12 0-9 0-3 0 11 0-6 0 5 0-6 0 5 1 3 0-2 0-13 0 14 0-2 0-5 0 10 0-14 0 15 0-10 0 5 1-2 0-6 0 7 0-10 0 11 0 2 0-13 0 12 0 0 0-18 0 11 1 0 0 7 0 0 0-7 0-2 0 11 0-12 0 8 0-5 0-4 0 9 1-2 0 7 0 3 0-10 0 5 0 0 0-6 0-4 0 19 0-15 0 1 1 0 0-1 0-1 0 6 0-3 0-8 0 1 0 8 0-8 0 4 0-1 1 13 0-21 0 7 0 8 0-14 0 8 0 9 0-3 0-10 0-1 0 12 1-4 0-3 0 5 0-5 0-6 0 12 0-10 0 2 0-1 0 7 1-6 0 8 0-4 0 5 0-6 0 3 0-10 0 4 0 8 0-3 0-6 1-6 0 14 0 0 0-6 0-6 0 1 0 8 0 8 0 0 0-8 0 0 1 3 0 0 0-10 0 5 0 5 0 2 0-7 0-5 0 10 0 0 0 2 1-3 0-4 0 1 0-8 0-8 0 16 0-1 0 7 0-13 0-4 0 10 1 9 0-5 0-3 0 3 0 0 0 4 0 1 0-3 0 9 0-10 0-3 1 2 0-6 0 8 0-2 0 3 0-4 0-3 0-2 0 9 0 1 0-6 1 3 0 3 0-9 0 3 0-4 0 13 0-7 0-3 0-6 0-6 0 4 1 7 0 1 0 5 0-9 0 7 0 0 0-4 0-1 0 6 0-1 0-6 1 6 0-7 0 2 0 1 0 5 0 3 0-2 0-7 0 9 0-2 0-3 1 2 0-11 0 16 0-12 0 8 0-3 0-1 0 4 0 1 0-8 0 3 1-5 0-1 0 11 0-4 0 0 0 2 0 5 0-20 0 15 0 0 0-10 1 6 0 1 0 6 0-3 0-4 0 3 0-6 0-12 0 14 0 5 0-1 1 6 0-12 0 3 0-3 0 11 0-13 0 10 0-2 0-2 0 9 0-18 1 9 0-9 0 11 0 0 0-9 0 12 0-2 0-2 0-2 0-7 1 9 0 9 0-10 0 3 0-4 0 6 0 0 0-13 0 1 0 6 0 7 1-6 0 4 0-5 0-7 0 0 0 11 0-4 0 0 0 2 0-4 0 6 1-2 0-25 0 25 0-4 0 0 0 5 0-8 0 10 0 9 0-11 0-8 1 4 0 7 0-5 0-2 0 3 0 0 0 2 0 4 0-9 0-5 0 7 1 1 0-10 0 9 0-5 0 12 0 0 0 1 0-3 0-2 0 2 0-14 1 13 0-7 0 2 0 3 0 6 0-7 0 9 0-6 0-9 0 6 0-4 1-6 0 7 0 3 0 4 0 0 0-2 0 1 0-4 0 3 0 1 0-2 1 2 0-9 0-1 0 14 0-6 0-7 0 12 0-7 0-11 0 12 0 3 1-1 0 3 0-1 0-11 0-5 0 10 0 3 0-2 0-3 0 2 0 4 1-11 0 0 0 9 0 2 0-4 0-9 0 12 0-5 0 7 0-5 0 4 1 1 0-5 0-4 0 11 0-3 0 2 0-8 0 1 0 5 0-6 0 4 1-2 0 0 0 3 0 4 0-6 0-2 0-4 0 8 0 4 0-10 0 7 1-4 0-2 0 4 0-6 0-3 0 14 0-6 0 8 0-13 0 8 1-7 0 4 0-3 0 5 0-1 0-2 0 5 0 3 0-9 0 7 0-3 1 0 0 8 0-19 0 5 0-3 0-7 0 15 0 9 0-7 0 5 0-1 1-7 0-1 0 9 0-7 0-1 0 4 0-10 0 4 0 3 0 3 0-7 1 3 0-13 0 14 0-7 0 8 0 0 0-7 0 1 0 7 0-9 0 9 1-4 0-1 0 6 0-3 0-3 0 0 0 4 0 10 0-17 0 7 0-2 1 3 0-3 0-11 0 18 0-11 0 5 0-6 0 1 0 3 0 6 0 0 1-6 0 5 0-18 0 16 0-11 0 8 0 0 0 2 0-1 0-12 0 10 1 10 0-9 0-1 0 12 0-4 0-20 0 23 0-8 0-5 0 6 0 8 1-6 0-8 0 5 0 6 0-10 0 4 0-15 0 15 0-2 0 8 0-9 1 0 0 7 0-1 0-11 0 11 0 0 0-5 0 4 0 0 0-4 0 0 1-1 0 8 0-21 0 19 0-10 0-6 0 11 0-3 0 9 0 4 0-2 1-12 0 11 0-4 0-1 0-2 0 3 0 4 0 0 0-6 0-2 0 1 1 5 0 3 0-11 0 6 0-2 0-2 0 5 0 1 0-9 0 1 0 1 1 6 0 4 0-8 0 1 0 3 0-4 0-15 0 18 0 3 0-17 1 18 0-2 0-4 0 2 0-1 0 3 0 0 0-9 0 0 0 9 0-3 1 2 0 3 0 1 0-13 0 12 0-8 0 6 0 10 0-19 0 8 0-3 1 0 0-2 0-2 0-2 0 10 0 1 0-6 0-5 0 14 0-2 0-3 1-6 0-6 0 11 0-11 0 17 0-6 0 1 0-6 0 0 0 1 0 4 1-2 0 1 0 2 0 7 0-3 0-6 0-4 0 2 0 3 0-3 0-6 1 7 0 3 0 0 0-5 0 3 0 4 0 1 0-14 0 13 0-8 0 2 1 6 0-5 0-3 0-4 0 7 0-2 0-2 0 11 0-9 0 2 0 0 1-2 0 9 0-8 0 3 0-7 0 4 0 1 0 0 0-1 0 3 0 5 1-7 0 1 0 0 0 11 0-4 0-4 0 0 0-3 0 0 0 1 0-2 1-2 0 0 0 6 0-3 0-10 0 9 0 6 0-8 0 5 0-14 0 20 1-10 0-3 0 3 0 11 0-11 0-4 0 5 0 3 0 5 0-13 0-1 1 6 0-2 0 5 0 3 0-12 0 4 0 3 0 0 0-3 0 2 0-3 1 12 0-4 0 7 0-6 0 2 0-12 0-4 0 9 0-5 0 1 1 2 0-3 0 3 0 5 0-10 0 0 0-1 0 10 0-1 0-14 0 14 1 2 0-19 0 21 0 2 0-15 0 6 0-5 0 6 0 2 0 8 0-9 1-1 0 1 0-3 0 8 0-5 0-6 0 8 0-4 0-2 0-4 0 1 1 9 0-3 0 5 0-9 0 4 0 0 0-6 0 0 0 9 0-4 0-2 1 4 0 3 0 12 0-19 0-1 0 6 0 0 0 5 0-14 0 18 0-9 1-17 0 20 0-12 0 13 0 2 0-6 0-4 0 1 0 2 0 2 0-4 1 3 0 3 0-2 0 7 0-4 0-10 0 0 0-1 0 1 0 7 0-6 1-1 0 4 0 5 0 2 0-7 0 5 0-4 0 2 0 2 0-8 0-1 1 3 0 7 0 3 0-12 0 10 0-9 0 8 0-4 0-5 0-2 0 4 1-9 0 8 0 6 0-9 0 7 0-4 0-6 0 8 0-5 0-10 0 11 1 4 0 5 0-16 0 16 0 2 0-1 0 1 0-4 0-4 0 5 0 1 1-2 0-3 0-11 0 15 0 3 0-12 0 7 0 2 0-3 0 4 0 0 1-14 0 9 0 4 0 5 0-1 0-16 0 9 0 3 0 2 0 2 0-11 1 3 0-4 0 9 0-10 0 11 0-1 0-1 0-13 0 7 0 6 1-8 0 4 0-4 0 9 0-2 0 0 0-4 0 3 0-1 0 3 0-10 1 12 0-11 0 18 0-12 0 5 0-4 0 3 0 2 0-8 0 3 0-5 1 5 0-22 0 15 0 6 0-2 0 0 0-8 0 16 0-4 0 0 0-6 1-1 0 7 0-10 0 10 0-4 0 1 0 3 0-1 0 7 0-9 0-7 1 12 0-10 0 6 0-12 0 9 0-1 0 2 0-1 0 1 0-6 0 14 1-11 0-14 0 22 0-10 0-2 0 14 0-10 0 3 0-1 0-1 0-6 1 11 0 4 0-14 0 6 0 0 0-3 0-7 0 11 0 1 0-4 0 1 1-6 0 2 0 0 0 5 0 2 0-9 0 15 0-15 0 10 0-1 0-2 1 5 0 6 0-7 0 6 0-3 0-7 0 3 0 1 0 3 0-1 0-10 1 10 0-7 0 1 0 9 0-12 0 3 0-5 0-7 0 10 0 0 0 6 1 5 0-14 0 8 0 2 0-1 0-5 0-5 0 3 0 9 0 0 0-13 1 11 0 1 0-1 0-4 0-12 0 8 0 8 0 1 0-5 0-2 0 3 1 0 0-1 0 3 0 1 0-7 0-18 0 27 0-11 0-4 0 9 1 5 0 2 0-10 0 11 0-5 0 2 0 0 0-4 0-1 0 8 0-1 1-6 0 6 0-9 0 7 0-14 0 7 0 11 0-8 0 2 0-1 0 1 1 3 0 2 0-3 0 0 0 4 0-5 0-8 0 6 0 6 0-3 0-4 1 5 0-2 0 3 0-11 0 3 0 2 0 1 0 3 0-8 0 5 0 4 1-1 0-3 0-13 0 7 0-3 0 9 0 1 0 2 0-1 0 0 0 2 1-14 0-8 0 18 0-1 0 3 0-1 0 1 0 6 0-8 0 4 0-2 1 1 0-6 0 2 0 4 0-10 0 4 0 7 0-11 0 4 0-1 0 0 1 4 0-3 0 3 0 8 0-9 0-7 0 10 0-1 0 1 0-12 0 16 1-12 0 7 0-7 0 6 0 1 0 5 0-9 0-2 0 6 0-6 0 8 1-7 0 5 0-1 0 1 0-2 0-2 0 4 0-3 0 6 0-3 0-12 1 12 0-5 0-7 0 15 0 5 0-10 0-12 0 17 0 2 0-3 0 0 1 0 0 2 0 0 0-2 0 0 0-3 0-3 0 7 0-7 0-6 0 5 1-6 0 18 0-1 0-16 0 7 0-2 0 4 0-2 0-6 0 10 0 2 1 0 0-8 0-5 0 10 0-3 0 0 0 3 0 6 0-10 0 10 1 4 0-9 0 0 0 3 0-4 0 4 0-7 0 3 0-3 0 6 0-5 1 8 0-1 0-13 0 12 0-6 0 7 0-8 0 3 0 3 0-5 0 4 1 1 0-3 0 2 0-6 0 7 0-8 0 8 0-1 0 1 0-5 0 13 1-10 0 2 0-6 0 12 0-11 0 6 0-21 0 19 0-3 0 0 0 0 1-3 0 6 0-7 0 1 0 7 0-11 0 11 0-4 0-12 0 14 0 2 1-5 0 2 0 3 0-2 0-1 0-3 0 2 0-1 0 4 0-1 0 1 1 4 0-7 0 0 0 0 0 7 0-21 0 15 0 2 0-1 0 8 0-4 1-6 0-3 0 6 0-8 0 7 0 0 0-13 0 18 0-13 0 11 0-3 1-17 0 19 0 2 0-5 0-2 0 5 0-6 0 7 0-8 0 0 0 5 1-7 0 7 0 2 0-8 0-5 0 8 0-5 0 16 0-10 0-14 0 8 1 4 0 0 0 10 0-5 0-12 0 21 0-9 0-13 0 13 0 2 0-6 1-3 0 6 0-1 0 1 0-1 0-2 0-1 0 5 0 2 0-13 0 6 1 2 0-2 0 6 0-11 0 3 0 5 0-2 0 2 0 8 0-4 0-11 1 6 0-3 0 9 0-4 0-8 0 8 0 1 0-1 0-1 0 0 1 3 0-7 0 5 0-1 0-1 0 4 0-14 0 10 0-16 0 20 0-4 1 2 0 1 0-9 0 9 0-11 0 9 0 0 0 4 0-1 0 4 0-6 1-2 0-1 0-5 0 14 0-5 0-4 0 4 0 0 0-2 0-16 0-1 1 15 0 5 0-1 0-12 0 11 0-9 0 18 0-9 0-6 0 9 0-6 1-6 0 5 0-2 0 8 0-14 0 17 0-3 0-4 0-12 0 20 0-1 1-15 0 16 0-6 0-1 0 0 0-7 0 13 0-5 0-9 0 16 0-4 1-8 0 3 0-2 0 4 0 1 0 0 0-7 0 2 0 6 0 0 0 2 1-8 0 7 0-9 0-1 0 12 0-5 0-4 0 2 0 5 0-9 0 11 1-1 0-6 0 6 0 2 0-4 0-2 0 6 0 6 0-25 0 12 0 0 1-1 0-7 0 12 0-3 0 0 0 5 0-7 0 1 0 8 0-9 0 1 1 4 0-3 0 5 0-15 0 11 0-8 0 6 0-2 0 8 0-3 0-14 1 18 0-1 0-3 0 2 0-11 0 7 0-11 0 8 0 7 0-26 0 27 1-11 0-3 0 11 0-10 0 11 0-1 0-4 0-3 0 3 0-7 1 14 0-5 0-4 0 0 0 9 0 0 0-23 0 14 0-5 0 11 0-2 1 8 0-16 0 6 0-2 0 7 0-11 0 10 0-1 0-9 0 4 0 8 1 2 0-8 0 4 0 3 0-8 0 1 0-4 0-7 0 12 0-13 0 10 1-4 0 1 0 2 0 7 0-5 0-5 0 7 0 3 0-6 0 1 0 9 1-5 0-5 0-3 0 7 0 3 0-7 0 2 0 3 0-6 0 9 0-1 1-12 0 16 0-13 0 0 0 4 0 4 0 0 0-3 0 6 0-4 0-5 1 9 0-4 0-19 0 16 0-1 0 6 0-3 0-6 0 0 0 6 0-1 1-12 0 16 0-3 0 0 0 1 0-6 0 5 0 4 0 0 0-3 0-3 1-2 0 9 0-12 0 5 0-9 0 7 0-5 0 13 0-4 0-4 0 2 1 11 0-5 0-11 0 9 0-8 0-3 0 9 0 9 0-3 0-14 0-6 1 22 0-9 0-6 0-11 0 25 0-6 0 5 0-5 0 1 0-5 0-1 1 10 0-2 0-10 0 9 0-6 0-8 0 13 0 3 0-2 0-9 0 9 1-1 0-4 0-10 0 16 0-3 0 1 0-11 0-1 0 0 0 5 0 6 1-2 0 2 0-4 0 1 0-3 0 5 0-2 0 5 0-1 0-12 1 17 0-13 0 8 0 2 0 1 0-16 0 17 0-2 0-7 0-22 0 21 1 3 0-1 0 7 0-22 0 21 0-2 0-9 0 2 0 2 0 3 0 4 1-5 0 2 0-4 0-11 0 12 0 4 0-2 0-5 0 6 0 6 0-8 1-3 0 0 0 3 0 1 0 2 0 2 0 0 0-14 0 13 0 0 0-1 1 2 0-8 0 3 0-2 0 1 0-1 0 4 0-7 0 5 0-5 0-7 1 13 0-1 0 0 0-10 0 15 0-3 0-2 0-3 0 6 0-10 0 10 1-9 0 13 0-2 0-16 0 6 0 11 0-1 0-1 0 0 0-3 0 0 1 4 0-7 0-2 0 8 0-5 0 5 0-2 0 6 0-3 0-5 0-6 1 10 0-8 0-1 0 9 0-10 0 10 0 3 0-22 0 20 0-2 0-6 1-3 0 0 0 7 0 3 0-3 0 4 0-6 0 4 0 3 0-4 0-11 1 12 0-6 0-2 0 9 0 2 0-3 0 0 0 0 0-8 0 7 0 5 1-8 0-7 0 10 0-4 0 10 0-6 0-1 0-3 0 4 0-7 0 1 1 5 0-4 0 9 0-11 0 6 0-3 0-6 0 15 0-21 0 22 1-14 0 8 0 7 0-19 0 4 0 12 0-12 0 4 0 3 0-4 0 3 1-7 0 6 0 2 0 4 0 0 0-18 0 15 0-6 0 0 0 3 0-1 1-8 0-8 0 15 0 4 0 4 0-7 0 2 0 3 0 1 0-4 0 3 1 5 0-9 0-8 0 2 0 7 0 0 0 8 0-9 0 5 0 1 0 2 1-13 0 13 0-10 0 3 0-1 0 0 0 0 0-10 0 14 0-2 0-5 1-8 0 21 0-7 0-3 0 8 0-10 0-11 0 12 0 2 0 4 0-1 1-6 0-10 0 14 0-2 0 2 0-6 0 2 0-10 0-5 0 20 0-2 1-4 0 3 0-1 0-8 0 8 0-8 0 7 0 9 0 0 0-14 0 0 1 10 0-4 0 3 0 3 0 0 0 1 0-7 0 13 0-2 0-6 0 2 1 0 0-2 0 4 0-5 0-7 0 9 0 7 0-9 0 2 0 2 0-8 1 3 0-4 0 4 0-2 0 4 0-10 0 5 0 1 0 1 0-2 0 6 1-11 0 8 0-6 0-3 0-3 0 12 0 0 0-15 0 5 0 7 0 10 1-8 0 0 0 0 0 1 0 4 0-10 0 8 0-5 0-1 0 3 0-1 1 5 0-9 0 7 0-3 0 4 0-2 0-3 0-15 0 6 0 15 1-10 0 5 0 8 0-1 0-3 0-3 0 0 0 1 0-3 0 4 0-8 1 1 0 4 0 4 0-8 0 9 0 0 0 4 0-10 0 5 0-13 0 9 1 2 0 1 0-2 0 0 0-2 0-2 0 6 0 1 0 0 0-1 0 3 1-13 0 8 0 0 0-2 0 7 0-3 0-2 0 1 0-9 0 7 0-4 1 9 0-2 0 4 0-4 0 4 0-8 0-3 0 6 0-13 0 14 0 2 1-17 0 13 0-6 0 7 0 3 0 5 0-9 0 4 0-2 0 0 0 0 1-1 0 4 0-14 0 8 0 4 0-6 0 3 0-7 0-4 0 15 0 2 1-17 0 8 0 5 0 1 0 3 0-16 0-1 0 3 0 11 0-1 0 0 1 2 0-2 0-8 0 8 0 1 0-3 0 1 0-13 0 17 0-7 0-1 1-4 0 4 0-9 0 17 0-1 0 2 0 0 0-10 0 6 0 4 0 3 1-15 0 0 0 8 0-12 0 6 0 6 0-5 0-7 0 11 0 0 0 2 1 1 0 2 0-13 0 4 0-16 0 18 0 5 0-1 0 5 0-7 0-11 1 14 0 0 0-9 0-2 0 0 0 10 0-7 0 3 0-3 0-1 1-1 0 7 0-16 0 12 0-9 0 26 0-18 0-8 0 7 0 7 0-9 1 8 0-1 0 7 0-4 0-5 0 1 0 9 0-14 0 8 0-1 0-2 1 4 0-2 0-7 0 8 0-4 0-3 0-16 0 20 0-11 0 6 0 6 1-5 0 7 0 3 0-16 0 21 0-10 0-1 0-5 0 9 0 2 0-1 1-4 0 3 0-9 0 13 0-2 0-4 0-9 0 9 0 0 0-3 0 5 1-6 0 0 0 5 0-4 0 1 0-15 0 19 0-7 0-5 0 11 0-6 1 1 0 11 0-15 0 11 0 3 0-9 0 3 0-6 0 9 0-5 0-4 1 10 0 2 0-11 0 9 0-4 0 9 0-5 0-7 0 1 0-3 0 4 1 1 0 2 0-2 0-7 0 3 0 8 0 3 0-12 0 4 0-7 0 2 1-3 0 12 0-8 0 4 0-17 0 18 0 4 0-15 0 16 0-4 0-7 1-2 0 12 0-4 0-2 0 0 0-2 0 2 0-4 0 9 0-13 0 5 1-2 0 11 0-13 0 3 0 8 0-2 0 7 0-1 0-4 0-10 0-1 1 4 0 3 0 1 0-7 0 3 0-1 0 9 0-2 0-3 0-14 0 16 1-5 0 3 0-7 0 11 0 1 0-2 0 0 0 0 0 6 0-7 1-7 0 4 0 5 0 1 0-1 0 0 0-2 0-8 0 4 0-7 0 9 1-5 0 7 0 1 0-11 0 12 0 0 0-9 0 7 0 2 0-4 0 5 1-6 0 6 0-3 0-1 0 2 0 1 0-2 0-1 0-13 0 9 0 2 1-2 0 5 0 6 0-10 0-10 0 17 0 1 0-7 0 0 0 1 0 1 1-1 0-12 0 9 0-8 0 13 0 4 0-13 0 13 0-7 0 3 0-8 1 1 0 6 0-11 0 12 0-1 0-12 0 15 0-3 0 9 0-14 0 2 1 0 0-4 0 6 0 4 0 4 0-9 0 0 0 3 0 1 0-4 0-11 1 20 0-3 0-11 0-1 0 0 0-2 0 11 0-4 0-5 0 11 0-1 1-2 0-3 0 5 0-2 0-5 0 4 0-5 0 10 0-2 0 0 0-1 1 4 0-15 0 10 0 6 0-15 0 8 0-5 0 6 0-12 0-8 0 18 1 0 0-1 0 5 0 0 0 1 0 0 0-8 0 4 0 7 0 3 0-13 1-7 0 15 0-4 0-3 0 1 0 2 0 8 0-18 0 12 0-11 0 6 1 3 0-2 0 3 0-5 0 4 0-6 0 6 0-7 0 10 0-7 0 7-721-30 61-7 65 7 58 0 20 4 11 1 55-3 14 4 21-8 16 8-367 3 134-5 142 2-225 47 496-55-5 6 185-6 30 0-100 2" fill="none" stroke="none" marker-start="url(#mp)" marker-mid="url(#mp)" marker-end="url(#mp)"/><path d="M132 549l0 3 0 0 0 0 0 3 0 0 0-3 0 3 0-7 0 7 0 0 1 13 0-18 0 5 0 3 0 0 0 3 0-4 0-2 0-7 0 3 0 1 1 1 0-2 0 15 0-7 0-2 0-3 0-1 0 8 0-8 0-4 0 5 1-4 0 14 0-3 0-8 0 2 0 3 0-8 0 3 0-1 0 11 0-11 1 8 0-10 0 12 0-10 0-2 0 3 0 2 0-4 0-2 0 2 0 8 1-1 0-14 0 15 0-6 0 3 0 1 0 4 0-8 0-1 0-2 0 12 1-8 0-3 0 3 0-2 0 7 0-4 0 7 0-1 0-7 0 6 0 3 1-7 0-7 0 14 0-14 0 4 0 0 0 0 0 6 0-7 0 11 0-9 1-5 0 6 0-6 0 8 0 6 0 0 0-14 0 4 0-2 0 1 0 1 1 5 0-8 0 2 0-2 0-1 0 17 0-15 0 11 0-13 0 6 0 0 1 6 0 4 0 0 0-6 0 2 0 0 0-3 0-4 0-8 0 8 0-5 1 7 0 1 0-1 0-5 0 6 0 1 0-3 0 3 0-8 0 8 0 2 1-9 0 9 0 6 0-12 0 13 0-12 0-1 0 2 0 2 0-3 0-1 1-8 0 6 0 0 0 0 0-3 0 3 0 18 0-17 0-5 0 3 1 3 0 5 0 0 0-3 0-3 0 4 0-2 0-8 0 13 0-4 0-7 1 5 0 1 0-5 0 1 0 7 0-7 0 3 0-2 0 6 0-6 0 4 1-2 0 1 0 3 0 0 0-10 0 11 0 0 0-6 0 6 0 0 0-6 1 4 0-6 0 4 0-6 0 4 0 4 0 10 0-14 0 0 0 13 0-11 1 0 0-1 0-5 0 11 0-2 0 2 0-7 0 5 0-9 0 3 0 4 1-4 0 1 0-3 0 10 0 1 0-7 0 3 0-3 0 10 0-16 0 3 1 7 0-12 0 5 0 9 0 1 0-1 0-4 0-4 0 0 0 1 0 4 1-2 0-3 0-2 0 5 0 4 0-7 0 2 0-2 0 14 0-12 0-3 1 2 0-5 0 1 0-1 0 2 0 2 0 12 0-4 0-12 0 3 0 8 1-4 0 0 0 0 0 7 0-1 0-3 0-3 0-1 0 0 0 2 0-9 1 4 0-1 0 3 0 3 0 0 0-7 0 10 0-11 0 7 0 1 0-3 1 8 0-3 0-8 0 4 0 0 0 2 0-9 0 5 0 13 0-8 0-4 1 0 0 5 0-6 0 0 0 1 0 2 0-4 0 0 0 19 0-13 0-4 1-2 0 5 0-5 0 5 0 7 0-18 0 13 0-4 0-3 0-1 1-3 0 3 0 11 0-9 0-7 0 10 0 11 0-5 0-13 0 2 0 2 1 5 0-7 0 15 0-6 0-7 0 3 0 5 0-8 0 8 0-9 0 5 1 1 0-3 0 1 0 0 0-2 0 1 0 2 0-7 0 0 0 6 0 4 1-8 0 7 0-7 0 6 0 4 0-8 0-2 0 5 0-2 0-4 0-3 1 13 0-9 0 2 0 1 0-7 0 9 0 7 0-10 0 0 0 11 0-15 1 4 0 3 0-3 0-3 0 3 0-2 0 8 0 3 0-1 0 2 0-11 1-1 0 10 0-3 0 1 0-10 0 14 0-6 0-4 0 3 0-4 0 2 1 1 0-3 0 1 0 5 0-2 0-3 0 12 0-14 0 1 0-4 0 3 1 4 0 0 0-5 0-1 0 10 0 2 0-9 0 5 0-6 0 13 0-4 1-1 0-6 0-1 0-5 0 5 0 17 0-12 0 0 0 3 0-6 0 5 1 0 0-4 0 1 0 0 0-2 0 2 0 0 0-3 0 1 0 1 0-2 1 0 0 8 0-13 0 4 0 3 0 0 0 1 0 3 0-2 0 1 0-5 1-3 0 2 0 4 0 2 0-6 0 3 0-5 0 10 0-9 0 4 1 2 0-3 0-7 0 5 0 8 0-15 0 9 0-5 0 2 0-6 0 12 1 0 0-1 0 17 0-19 0 7 0-4 0-4 0 0 0-5 0 9 0 0 1-3 0-5 0-4 0 6 0 6 0-8 0 5 0-3 0 8 0-10 0 10 1-7 0-1 0 8 0-7 0-5 0 4 0 2 0 3 0 0 0-2 0-1 1 11 0-15 0 2 0-5 0 3 0 1 0 2 0 1 0 19 0-11 0 0 1-4 0-7 0 6 0-5 0 4 0-5 0 12 0-3 0 0 0-8 0-1 1 17 0-13 0 3 0 12 0-20 0 10 0-7 0 4 0-1 0 5 0 2 1-3 0 4 0-8 0-9 0 8 0-5 0 4 0 6 0-6 0 16 0-19 1 0 0 5 0 0 0 2 0-4 0 8 0-4 0 1 0-3 0-3 0-7 1 7 0 4 0-7 0 2 0 15 0-9 0-2 0-3 0-1 0 3 0-7 1 12 0 3 0-5 0-7 0 9 0-2 0-6 0 4 0-7 0 3 0-1 1 10 0-8 0 7 0-9 0 3 0 10 0-7 0-4 0 2 0 5 0-13 1-1 0 6 0 0 0 1 0 2 0-6 0 15 0-10 0-6 0 6 0-2 1 8 0-13 0 2 0 16 0-6 0-4 0 7 0 0 0-3 0-8 1 5 0 1 0 7 0-6 0 2 0-10 0 11 0-12 0 8 0 0 0-8 1 3 0-2 0 11 0-11 0 6 0 3 0 3 0-6 0 1 0-3 0 7 1-9 0 11 0-7 0-1 0-1 0-8 0 12 0-2 0 6 0-6 0-2 1 4 0 0 0-7 0 4 0-2 0 7 0-4 0-4 0-2 0 10 0-6 1 11 0-13 0 1 0-1 0-2 0 3 0 8 0 4 0-13 0 5 0-3 1-5 0 9 0 8 0-8 0 0 0-7 0 10 0-7 0-3 0 0 0 2 1 2 0 0 0 10 0-8 0-8 0 8 0-13 0 12 0-3 0-2 0 9 1-2 0-3 0-2 0 9 0-2 0-11 0 5 0 4 0-6 0 12 0-8 1 3 0-2 0 3 0-8 0 6 0 2 0-8 0-1 0-4 0 5 0-1 1 10 0-11 0 1 0 2 0-5 0 11 0-9 0 2 0 10 0-4 0-3 1 1 0 0 0 9 0-7 0-1 0 2 0 3 0-6 0-2 0-3 0 6 1-2 0 8 0-10 0 1 0-1 0-5 0 0 0 16 0-8 0 1 0-8 1 8 0-2 0 7 0-9 0-1 0 2 0 2 0 1 0-9 0 4 1 0 0-2 0 6 0-4 0-8 0 10 0 11 0 2 0-14 0 4 0 11 1-11 0-5 0 6 0-5 0-1 0-3 0 15 0-7 0 0 0-8 0 8 1-13 0 19 0-13 0 5 0 1 0 2 0-5 0-2 0 9 0 2 0-12 1 6 0 1 0-6 0 5 0 0 0-6 0 3 0 0 0-1 0 7 0 1 1 2 0-10 0 7 0-5 0 1 0 3 0-9 0 5 0-8 0 14 0-6 1-2 0 1 0-2 0 3 0-1 0-3 0 2 0 10 0-3 0-8 0-1 1 1 0 14 0-4 0-11 0 3 0 5 0-5 0 0 0-6 0 7 0 6 1-8 0-3 0 7 0 4 0-9 0-4 0 9 0-7 0 8 0-1 0-4 1 2 0-5 0 3 0-3 0 10 0-6 0-2 0-3 0 5 0 7 0-5 1 3 0-2 0 8 0-14 0 2 0 0 0 4 0-4 0 1 0 1 0 4 1 1 0-9 0 1 0 1 0 5 0-1 0 7 0-6 0-9 0 8 0-4 1 7 0-6 0-1 0 4 0 2 0-7 0 4 0 4 0-8 0 6 0-1 1-3 0-4 0 11 0-9 0 9 0-11 0 11 0-2 0-8 0 1 0-1 1 2 0 3 0-4 0 1 0 6 0-6 0 11 0-11 0-3 0 13 1-4 0-1 0 2 0 0 0-6 0-5 0 16 0-9 0-7 0 6 0-4 1 4 0-2 0 5 0-2 0-5 0 8 0-1 0 8 0-5 0-6 0 5 1 2 0 1 0-6 0 12 0-16 0-3 0 2 0 12 0-1 0-13 0 5 1-1 0 18 0-17 0 2 0-1 0-8 0 6 0-1 0 0 0-4 0 8 1 0 0-4 0 4 0 1 0 0 0 4 0-15 0 0 0 7 0-3 0 5 1-6 0 4 0 12 0-12 0-6 0 3 0 16 0-9 0-12 0 10 0-6 1 10 0-2 0 6 0-1 0-8 0-6 0 1 0 11 0-5 0-1 0 1 1-9 0 9 0 3 0 1 0 4 0 4 0-15 0 0 0 8 0-8 0 5 1-7 0 0 0 4 0-3 0 2 0 1 0-1 0 0 0 4 0-10 0 5 1-1 0 11 0-2 0-4 0-2 0-2 0 5 0-2 0 7 0-10 0-2 1 10 0-9 0 4 0 4 0-3 0 2 0-12 0 15 0-11 0 2 0 2 1-3 0 13 0-5 0 3 0-3 0-6 0-1 0 5 0-9 0 1 0-1 1 9 0-7 0 5 0-2 0-2 0 1 0 2 0 3 0 3 0-12 1 5 0 7 0 3 0-7 0 2 0-1 0-9 0 1 0 3 0-1 0 5 1 2 0-9 0 0 0-1 0 22 0-5 0-13 0-2 0 8 0-6 0-7 1 4 0 5 0-2 0-1 0-1 0 4 0 2 0-2 0 3 0 0 0-5 1-1 0 4 0 4 0-8 0 2 0-6 0 8 0-3 0 3 0-1 0 3 1-1 0-4 0 1 0 1 0 5 0-8 0 4 0-1 0-2 0-3 0-1 1 10 0-7 0-3 0 11 0-12 0 3 0 2 0-1 0-2 0 4 0-2 1 1 0-1 0-1 0 4 0 1 0-2 0 4 0-1 0-10 0 22 0-14 1 4 0 4 0-16 0 4 0 7 0 2 0-12 0 3 0 8 0-7 0 4 1 0 0 2 0-1 0 0 0-1 0-3 0 9 0-11 0 4 0 1 0 4 1-11 0 9 0-10 0 7 0 4 0-6 0 1 0 15 0-11 0 4 0-4 1 2 0 0 0-5 0 2 0 9 0-12 0 1 0 1 0 8 0-15 0 13 1-11 0 2 0 4 0-6 0 8 0-4 0 2 0 2 0-3 0-2 0-3 1 3 0 11 0-8 0 2 0-3 0 4 0-7 0-6 0 6 0 10 0-8 1-2 0-4 0 13 0 2 0-12 0 4 0-6 0 7 0-3 0 3 1-2 0 6 0 3 0-13 0 11 0-6 0-2 0-3 0 5 0-1 0-3 1 0 0-8 0 9 0 0 0-6 0 4 0 9 0-8 0 8 0-13 0 8 1-5 0 0 0 6 0 0 0-6 0-2 0 10 0-6 0 6 0-4 0 5 1 2 0-11 0 8 0-4 0 0 0 2 0 1 0-12 0 11 0-4 0 7 1 5 0-11 0 0 0 2 0-4 0 10 0-5 0-1 0-6 0 10 0-4 1 5 0-13 0 10 0-2 0-3 0 4 0 6 0-10 0 1 0-4 0 6 1-4 0 4 0 3 0-1 0 0 0 12 0-18 0-1 0 8 0-3 0-7 1 13 0 2 0-15 0 6 0 1 0 5 0-1 0-4 0 3 0-8 0 4 1-2 0-3 0 14 0-3 0-6 0-3 0 9 0-8 0 5 0-4 0-2 1-3 0 2 0-2 0 3 0 5 0 1 0 1 0-8 0-2 0 6 0-2 1 8 0-7 0 2 0 1 0 0 0-6 0 13 0-11 0 0 0-2 0 9 1-4 0 6 0-6 0 2 0-3 0 4 0 4 0-12 0 4 0 3 0-1 1-3 0-5 0 5 0-2 0 1 0-5 0 8 0-4 0 10 0-3 0-1 1 6 0-10 0 13 0-11 0 0 0-3 0-2 0 3 0 0 0 2 1 0 0-6 0 3 0-2 0 11 0-12 0 5 0 4 0-13 0 14 0-5 1 3 0 2 0-9 0 1 0 9 0-6 0-3 0 9 0-9 0 9 0 1 1-5 0 5 0-6 0-3 0 0 0 1 0 10 0-1 0 1 0-12 0 1 1 6 0-6 0 8 0-1 0-9 0 1 0 2 0 7 0-9 0-1 0-2 1 4 0 5 0-2 0-3 0 10 0-10 0 5 0-2 0-3 0 9 0-6 1 3 0-4 0 5 0-1 0-1 0-2 0 7 0 4 0-15 0 1 0 11 1-10 0 5 0-1 0-4 0 7 0-2 0-5 0 7 0-3 0 3 0-11 1 5 0-2 0 0 0 10 0 0 0-9 0-1 0 6 0-6 0-1 0-1 1 5 0-1 0-2 0-1 0 3 0 0 0 4 0-5 0 1 0-2 0 1 1 7 0-4 0 1 0-6 0-4 0 3 0 3 0 6 0 4 0-6 0 6 1-7 0-1 0 3 0 1 0-8 0-2 0 1 0 8 0 3 0-9 0 11 1-8 0-1 0 5 0-3 0-4 0 2 0-1 0-8 0 10 0 9 0-3 1-1 0-1 0-2 0-4 0 4 0-4 0-4 0 4 0-7 0 6 1-3 0 10 0-12 0 9 0 1 0 5 0-13 0-1 0 10 0-6 0 0 1 2 0-2 0 1 0-1 0 1 0-7 0 5 0 4 0-4 0 1 0 6 1-8 0 7 0 9 0-9 0 0 0-7 0-1 0 12 0-7 0 15 0-10 1-3 0 5 0-8 0 1 0-1 0 0 0 5 0 0 0-1 0-8 0 5 1 0 0-7 0 6 0-2 0-3 0 3 0 0 0-3 0 5 0-1 0 2 1-5 0 2 0 9 0-10 0 6 0 14 0-12 0-9 0 10 0 2 0-6 1 7 0-1 0-13 0 8 0 0 0-4 0 0 0 9 0 5 0-13 0 6 1-8 0 7 0 0 0-9 0 0 0 10 0-2 0 1 0 4 0-9 0 7 1-5 0 1 0-3 0 4 0-5 0 0 0 10 0-9 0 6 0-1 0-5 1 0 0-2 0-1 0 8 0 2 0-4 0 5 0-6 0-6 0 10 0 1 1-14 0 10 0 1 0 3 0-12 0 17 0-6 0-9 0 12 0-8 0-5 1 7 0-3 0-5 0 7 0-2 0 4 0 2 0-3 0-6 0 9 0 1 1-9 0 6 0-2 0-1 0 3 0 2 0 7 0-12 0 2 0 0 0-1 1-5 0-6 0 9 0 3 0-2 0 0 0-2 0 2 0-8 0 10 1-7 0 6 0-2 0-1 0 5 0-7 0 2 0 13 0 4 0-8 0-4 1 2 0-7 0-3 0 4 0-2 0 8 0-10 0 6 0-2 0 6 0-3 1-1 0-5 0 17 0-13 0 1 0 5 0-5 0 5 0 0 0 4 0-5 1 0 0-4 0-4 0 4 0 7 0-5 0-7 0 18 0-10 0-3 0 3 1-7 0 4 0 2 0-5 0 2 0 3 0 10 0-20 0 5 0 4 0-4 1-2 0 3 0-4 0 2 0 7 0 2 0-7 0 1 0 3 0-3 0-3 1 3 0-5 0 11 0-7 0 0 0 3 0-1 0 4 0 0 0-8 0 2 1-7 0 5 0 0 0 4 0-10 0 10 0 1 0-8 0 9 0-5 0 3 1-3 0-8 0 5 0 19 0-8 0-5 0 0 0-1 0 1 0-1 0-2 1 12 0-7 0-2 0 5 0-10 0 4 0-6 0 7 0 20 0-19 0-4 1-3 0-2 0 4 0-1 0 3 0 3 0-6 0 1 0 0 0 5 0-4 1 2 0 3 0 3 0-6 0 6 0-6 0 4 0-5 0 8 0-3 0-7 1 3 0-3 0 4 0 2 0-4 0 5 0-14 0 10 0-1 0-7 1 6 0-2 0 1 0 1 0 9 0-11 0-1 0 9 0 1 0-2 0-8 1 5 0 0 0 5 0-8 0 4 0-11 0 11 0-3 0-2 0 6 0-2 1-2 0 5 0 2 0-14 0 7 0 2 0-1 0 17 0-17 0 5 0-4 1-1 0 10 0-12 0 9 0-4 0-1 0-3 0 13 0-12 0 7 0-6 1 5 0-6 0 10 0-6 0-8 0 10 0-6 0 3 0 0 0 0 0-1 1-1 0-3 0-3 0 8 0 1 0-5 0-6 0 14 0-1 0 5 0-10 1 5 0-8 0 4 0-1 0-5 0 3 0 5 0-7 0 5 0-1 0-4 1 4 0 4 0-1 0-4 0 12 0-10 0-6 0 5 0-2 0 3 0-5 1-1 0 1 0 4 0 0 0-6 0 9 0-4 0 7 0-2 0-7 0 15 1-5 0 0 0-1 0-8 0 2 0 10 0-7 0 1 0-5 0-2 0 6 1 6 0-3 0 5 0-5 0 1 0-7 0-1 0 7 0-6 0-1 0 2 1-1 0 1 0-6 0-1 0 6 0 10 0-1 0-10 0 4 0 1 0-10 1 23 0-25 0 10 0-7 0 14 0-7 0 4 0-14 0 6 0 13 0-17 1 13 0-3 0-5 0 11 0-13 0 4 0-3 0-2 0 13 0-17 1 8 0 4 0-11 0 15 0-10 0 0 0-2 0 15 0-11 0 7 0-17 1 5 0 9 0-7 0 1 0 9 0-1 0-5 0 1 0 15 0-20 0 1 1 19 0-14 0-6 0 4 0-4 0 7 0-8 0 2 0-6 0 14 0 1 1 1 0-11 0 3 0 0 0 1 0 5 0 7 0-21 0 8 0-2 0-3 1 3 0 2 0 0 0-2 0-8 0 10 0-6 0 18 0-4 0-9 0 1 1 0 0 6 0-7 0-4 0 8 0-11 0 1 0 7 0-1 0 1 0 3 1 10 0-8 0-3 0 3 0-1 0 4 0-9 0 7 0 0 0-3 0 0 1-4 0 10 0-8 0-2 0 0 0 2 0-8 0 2 0 9 0-5 0-4 1 8 0 1 0 0 0-4 0-7 0 5 0 8 0-10 0 8 0-1 0-3 1 11 0-11 0-2 0 0 0 6 0-5 0 3 0-2 0-4 0 21 0-13 1-2 0-4 0-1 0 5 0 4 0-1 0-1 0 5 0-12 0 8 0-6 1 10 0-1 0 6 0-14 0 3 0-7 0 0 0-2 0 5 0 7 0 0 1-11 0 12 0-6 0-1 0 11 0-7 0 2 0 2 0-6 0-3 1 0 0-1 0 3 0-9 0 4 0 5 0-1 0-4 0 2 0-1 0 2 1 4 0-1 0-1 0 6 0-4 0-1 0 0 0 7 0-2 0 1 0-6 1-2 0 7 0-3 0-6 0-5 0 5 0 4 0-5 0 1 0 3 0-6 1 11 0-3 0 1 0 4 0-10 0 1 0 10 0-6 0-6 0 3 0-1 1-2 0 12 0-5 0 3 0-4 0-1 0 4 0 8 0-12 0 2 0 1 1-9 0 4 0-1 0 0 0 1 0-3 0 3 0 1 0 2 0 1 0-10 1 5 0 3 0-7 0 5 0-5 0 3 0 15 0-12 0-8 0 8 0-1 1 2 0-4 0 3 0 2 0 2 0-12 0 3 0 3 0 2 0-3 0 8 1 3 0-12 0 1 0-2 0 4 0-2 0 8 0-5 0-4 0 7 0-5 1-3 0-4 0 4 0 14 0-9 0 4 0-10 0 2 0-4 0 10 0-11 1 4 0 7 0 3 0 2 0-13 0 7 0-4 0 5 0 0 0-7 0-1 1 10 0 1 0-3 0-4 0 3 0 3 0 2 0-3 0-3 0 2 0-3 1 3 0 1 0-1 0 7 0-2 0-15 0 7 0 2 0-2 0-2 0 0 1-1 0 3 0-2 0 0 0-1 0 3 0 5 0-4 0-3 0-1 1 3 0-2 0 2 0-5 0-1 0 6 0 4 0-7 0-6 0 12 0-5 1-2 0 0 0 11 0-4 0-4 0 1 0 2 0-1 0-9 0 22 0-16 1 8 0 5 0-9 0-5 0 6 0-5 0 0 0 15 0-18 0 11 0-7 1 10 0-2 0-6 0 2 0 10 0-4 0-8 0-2 0-2 0 2 0 1 1 7 0-11 0-6 0 4 0-2 0 5 0 2 0-5 0-4 0 12 0 2 1-9 0 3 0 0 0 4 0 7 0-17 0 3 0 8 0-2 0-5 0 3 1-2 0-1 0 8 0-4 0-7 0 4 0 0 0 8 0-8 0 2 0 2 1-6 0 4 0 1 0-6 0 2 0 6 0-4 0 2 0 2 0-5 0-1 1 3 0-2 0 1 0-4 0 12 0-9 0 3 0 5 0-12 0 6 0-4 1 0 0 4 0-9 0 7 0 6 0-2 0 2 0-3 0 2 0-2 0 6 1-9 0 2 0 2 0 6 0-5 0-1 0-3 0 2 0-2 0-1 0 6 1 9 0-13 0-4 0 5 0 0 0-2 0 14 0-7 0 1 0-2 0 5 1-4 0-6 0 0 0-1 0 2 0 2 0-5 0 6 0-10 0 15 0-12 1 4 0 4 0-4 0 3 0 4 0-6 0 2 0 2 0-5 0 10 1-9 0 3 0-4 0-3 0-2 0 3 0 7 0-1 0-7 0 6 0-8 1 2 0 3 0-8 0 6 0-3 0 1 0 6 0 0 0-2 0 2 0-1 1-8 0 10 0-5 0 1 0-1 0-1 0 5 0-4 0-5 0 15 0-5 1-4 0 0 0-4 0 9 0-2 0 2 0-4 0 5 0-1 0 4 0-8 1 1 0 0 0 4 0-1 0-2 0 10 0-7 0 1 0 0 0-5 0 0 1 0 0-7 0 6 0 0 0 5 0 1 0-13 0 4 0 7 0-4 0 6 1-3 0-12 0 10 0 0 0 0 0 4 0-11 0 1 0 3 0 6 0-1 1-3 0 0 0-2 0-5 0 12 0-2 0 0 0-9 0 9 0-5 0 10 1-15 0 14 0-8 0 5 0-4 0 3 0-3 0-8 0 5 0 5 0 3 1-4 0-4 0 4 0-2 0 8 0-10 0 4 0 10 0-11 0 4 0-12 1 16 0-11 0 11 0-5 0 2 0-6 0 2 0-2 0 0 0 4 0-1 1 0 0-11 0-2 0 6 0 7 0-1 0 0 0-5 0 15 0-12 0 2 1 0 0 3 0 8 0 0 0-16 0 2 0 1 0-2 0 3 0-3 1 13 0-8 0-4 0 12 0-16 0 10 0 3 0-9 0-7 0 11 0 3 1-7 0 5 0-5 0 14 0-1 0-8 0-1 0 7 0-11 0-2 0 8 1-3 0-7 0 13 0 4 0-10 0 11 0-17 0-1 0 12 0-3 0-8 1 5 0 4 0-6 0 2 0-5 0 9 0-2 0-1 0-6 0 5 0-2 1 1 0 4 0-2 0-3 0 0 0 6 0 12 0-20 0 8 0 3 0-11 1-1 0 11 0-1 0-11 0 16 0-13 0 9 0-7 0 9 0 2 0-10 1 0 0 9 0-15 0 13 0-1 0-11 0 3 0-1 0 0 0 8 0 8 1-16 0 1 0 11 0-10 0-4 0 12 0-5 0-3 0-1 0 2 0 5 1-7 0 14 0-13 0-2 0 1 0 2 0-3 0 12 0-5 0 1 0-8 1 4 0-3 0 7 0-8 0-2 0-1 0 5 0 2 0-1 0-4 0 14 1-12 0 6 0-7 0-2 0 9 0 3 0-10 0 2 0-1 0-1 0 8 1-5 0 2 0-4 0-6 0 9 0 2 0-7 0 5 0-6 0 12 0-6 1 12 0-9 0-4 0-3 0 5 0 3 0-11 0 6 0-2 0 0 0 6 1-1 0 7 0-9 0 16 0-13 0-7 0 1 0-5 0 5 0-6 1 4 0 3 0 1 0 1 0-3 0-1 0 4 0 6 0-1 0 4 0-8 1 3 0-4 0 2 0 6 0-8 0-3 0 1 0-2 0-5 0 1 0 6 1-4 0 7 0 1 0-4 0 10 0-3 0-2 0-2 0 1 0 1 0-8 1 1 0-2 0-1 0 5 0 3 0 0 0 6 0-12 0 2 0-4 0 7 1 4 0-5 0 4 0-8 0-4 0 20 0-8 0-8 0-1 0 1 0-4 1 7 0-1 0-3 0 0 0 8 0 0 0 2 0 4 0-6 0 3 0-11 1 0 0 4 0 0 0-7 0 4 0 1 0 0 0 12 0-4 0-9 0 0 1 2 0 0 0-7 0 4 0 7 0-11 0 15 0-6 0-1 0 9 0 3 1-16 0 8 0-5 0 0 0-4 0-1 0 15 0-12 0 1 0 5 0-1 1 9 0-3 0 0 0-8 0 4 0-7 0 9 0-5 0-4 0 1 0 5 1 5 0-7 0 1 0-5 0 3 0 4 0-12 0 2 0 8 0-1 0-2 1 2 0 13 0-16 0 0 0-1 0 12 0-11 0 0 0 1 0 0 0 1 1 4 0 1 0-9 0 3 0 1 0-3 0-3 0 4 0 12 0-8 1-3 0 2 0-9 0 7 0 0 0 1 0-4 0 10 0-12 0 1 0 10 1-8 0 9 0 1 0-8 0 10 0-5 0 2 0-7 0-3 0 4 0-2 1 8 0-2 0-7 0 11 0-6 0 4 0-9 0 2 0-4 0 17 0-16 1 5 0-3 0 2 0-1 0 12 0-14 0 8 0 0 0-8 0 7 0-3 1 1 0 1 0-5 0 13 0-12 0 1 0 3 0 0 0-1 0-8 0 5 1 2 0-2 0-1 0 3 0 10 0-19 0 4 0 3 0 5 0 4 0 5 1-2 0-4 0-7 0 7 0-11 0 7 0 2 0-6 0 5 0-6 0 2 1-4 0 14 0-2 0-14 0 8 0-2 0 0 0 9 0-10 0 4 0 3 1 5 0-13 0-3 0 7 0-7 0 2 0 5 0-3 0 1 0 0 0-1 1 10 0-10 0 8 0-6 0 1 0 0 0 4 0-3 0-3 0-2 0 7 1-2 0-2 0-2 0 4 0-4 0-1 0 4 0-5 0 9 0 1 0 3 1-16 0 4 0 6 0-10 0 15 0-11 0 10 0-6 0-5 0 12 0-1 1-1 0-5 0-8 0 9 0 0 0 1 0-3 0-4 0-1 0 0 0 0 1 7 0 3 0-9 0 0 0 1 0-1 0 8 0-1 0-3 0-4 1 12 0-14 0 4 0 9 0-4 0-4 0 1 0 3 0 3 0-2 0-8 1 2 0 2 0-5 0 5 0 4 0-10 0 6 0-6 0 7 0-7 0 0 1 12 0-11 0-1 0 11 0-11 0 8 0 1 0-4 0-1 0 2 0 9 1-10 0-4 0 3 0 1 0 4 0-8 0 3 0-4 0 13 0-11 0 7 1-1 0-4 0-6 0 8 0 2 0-8 0 12 0-11 0-3 0 2 0 7 1-11 0 10 0-6 0 3 0 11 0-11 0-4 0-3 0 14 0-1 0-8 1-1 0 15 0-7 0-7 0 8 0-5 0 4 0 8 0-7 0 3 0-3 1-9 0 4 0 5 0 1 0-7 0 12 0-14 0-2 0 5 0-2 0 9 1-1 0 1 0-3 0-1 0-4 0 0 0-1 0 3 0 4 0 5 0-15 1 2 0 8 0-8 0 4 0-2 0 2 0-4 0 5 0-1 0-2 0 1 1 6 0 0 0 9 0-2 0-13 0-2 0-1 0 4 0 0 0-7 0 11 1-5 0-3 0 4 0-8 0 5 0 2 0 3 0-2 0-4 0 0 0 6 1 4 0 0 0-2 0-9 0 5 0-9 0 4 0 1 0 12 0-9 1 4 0 1 0-9 0 8 0-3 0 11 0-8 0-5 0 2 0 4 0-6 1-2 0 0 0 4 0 2 0-4 0 6 0-10 0 10 0 0 0 2 0-13 1 4 0 8 0-6 0-6 0 14 0-9 0 0 0 1 0-4 0 11 0-13 1 10 0 2 0-11 0 14 0-17 0 14 0-4 0 5 0-8 0 11 0-3 1-5 0 1 0 2 0-7 0 11 0-10 0-1 0 6 0 1 0-7 0-1 1 4 0 3 0 5 0-11 0 2 0-1 0 5 0-1 0-5 0 4 0-5 1 3 0-2 0 3 0-4 0 0 0 2 0-1 0 23 0-21 0 0 0-5 1 9 0-8 0 7 0 1 0 0 0-2 0 6 0-11 0-3 0 5 0-2 1 4 0 6 0-4 0 0 0-9 0 6 0-2 0 0 0-1 0-3 0 8 1-3 0 6 0-6 0-4 0 2 0 2 0-3 0 6 0 11 0-11 0-2 1-3 0-5 0 16 0-13 0 2 0 11 0-15 0 14 0 2 0-1 0-7 1 2 0 0 0-3 0 2 0-1 0-1 0-7 0 5 0 5 0 0 0-4 1 3 0-2 0 1 0 2 0-10 0 12 0-8 0 2 0 7 0-8 0 0 1 6 0-9 0 6 0-3 0 5 0-7 0 14 0 1 0-13 0 4 1 0 0 4 0-2 0 0 0-7 0-2 0 12 0-2 0-1 0 5 0-8 1 5 0-5 0 2 0 1 0-7 0 5 0-3 0-6 0 21 0-19 0 7 1-2 0 3 0-4 0-2 0 3 0 14 0-6 0-12 0 5 0-2 0 0 1 4 0 10 0-15 0 1 0 4 0 2 0 0 0 2 0 2 0-12 0-3 1 9 0 1 0-9 0 7 0-1 0-2 0 3 0 4 0-12 0 15 0-7 1-3 0 9 0-10 0 6 0-6 0 3 0 8 0-11 0 2 0 3 0-7 1 5 0-8 0 17 0-10 0 2 0-3 0 7 0 12 0-20 0 1 0 4 1-10 0 6 0 4 0-2 0 4 0-6 0 0 0 0 0 9 0-12 0 3 1 13 0-17 0-5 0 7 0 7 0 1 0 3 0 2 0-13 0-1 0 14 1-5 0 0 0-8 0 5 0 4 0-4 0 2 0 4 0 3 0-4 0-10 1-3 0 3 0 12 0-13 0 10 0 7 0-15 0 5 0 9 0-12 0-2 1 0 0 5 0-7 0 5 0-6 0 16 0-15 0 3 0 12 0-1 0-8 1-5 0 7 0 7 0-7 0-5 0 19 0-20 0 7 0-3 0-1 0 8 1-16 0 14 0-7 0-5 0 23 0-19 0 3 0 1 0 3 0-6 1 1 0 4 0-4 0 15 0-12 0-4 0 6 0-7 0-2 0 12 0-8 1-2 0 0 0 11 0-13 0 6 0-4 0-3 0-1 0 11 0 0 0-3 1 5 0-10 0 0 0 6 0 17 0-14 0-9 0 6 0-4 0 4 0 5 1-11 0-1 0 13 0-8 0-5 0 3 0 10 0-5 0 1 0-4 0 4 1-14 0 5 0 0 0 6 0 4 0-9 0-2 0-2 0 0 0 4 0 6 1-2 0-5 0 2 0 1 0-3 0 2 0-4 0 3 0 6 0 7 0-1 1-8 0 5 0-3 0 8 0-16 0 4 0-5 0 4 0-2 0 9 0-7 1 1 0-2 0 9 0 3 0-12 0 8 0 6 0-9 0-7 0 12 0-4 1-4 0-3 0-1 0 5 0 2 0 4 0-5 0 0 0-3 0 8 0-10 1 0 0 16 0-21 0 12 0 0 0-8 0 0 0 2 0 5 0 3 0-8 1 10 0-6 0 2 0-7 0 9 0-3 0-4 0 0 0 4 0-8 0 10 1-5 0-2 0 8 0-8 0-1 0 11 0-1 0-14 0 9 0 4 0-7 1 1 0 0 0 2 0-8 0 5 0-2 0 9 0-8 0 3 0 4 1-4 0-4 0 8 0-9 0 6 0 1 0 1 0-9 0 5 0 1 0 7 1-2 0-5 0 6 0 1 0-12 0 1 0 6 0 0 0-1 0 0 0 2 1 2 0-9 0 9 0-5 0-3 0 5 0 10 0-13 0 3 0-1 0-5 1 0 0 4 0-1 0 2 0-2 0 14 0-12 0-5 0 10 0-11 0 9 1 4 0-7 0-4 0-8 0 9 0 6 0-5 0 3 0 4 0-3 0-3 1 6 0-10 0 14 0-3 0-3 0-1 0-5 0 5 0 3 0-8 0 3 1-4 0-2 0 9 0-1 0 4 0-10 0-1 0 10 0-1 0-2 0-3 1 1 0-5 0 7 0-4 0-3 0 4 0-5 0 7 0 2 0-6 0 1 1 4 0-2 0 2 0-6 0 7 0-5 0 0 0 4 0-2 0-1 0-1 1 0 0 7 0 0 0-4 0-5 0 1 0 7 0-12 0 3 0 2 0 8 1-15 0 10 0-1 0-4 0-2 0 4 0-2 0 6 0 3 0-2 0-8 1 4 0 5 0-10 0 4 0-3 0 6 0 0 0 5 0 2 0-10 0 0 1 6 0-6 0 0 0 6 0-5 0 0 0 1 0 2 0-3 0 10 0-9 1-1 0 6 0-4 0 0 0 0 0-2 0 2 0-1 0-6 0 6 1-6 0 8 0-5 0 13 0-11 0-2 0 2 0-7 0 14 0-17 0 8 1-3 0 6 0-4 0-1 0 1 0 11 0-4 0-8 0 9 0 3 0 0 1-8 0-1 0 8 0-1 0-8 0 6 0-4 0 0 0-3 0 9 0 7 1-14 0 11 0-2 0-15 0 11 0 2 0-6 0 13 0-6 0-15 0 4 1 8 0 2 0-7 0-5 0 2 0 16 0-12 0-1 0-4 0-1 0 10 1-8 0 11 0-3 0-4 0 4 0-6 0 5 0 6 0-4 0-11 0 5 1-2 0 0 0 9 0 7 0-13 0-3 0 10 0-6 0 2 0-4 0 3 1-6 0 5 0-2 0 8 0-5 0-5 0 3 0 1 0-2 0 5 0-12 1 5 0 10 0-12 0 6 0-10 0 7 0 5 0 4 0-3 0-12 0 5 1 0 0 2 0-2 0 4 0-6 0 2 0-3 0-1 0 10 0-5 0 7 1-6 0-1 0 12 0-9 0-4 0 1 0-1 0 6 0-1 0 0 0-1 1 1 0 6 0-4 0-10 0 7 0 14 0-3 0-20 0 6 0 3 0-4 1 0 0-3 0 4 0 4 0-3 0 7 0-3 0 2 0-2 0-6 1 5 0-1 0-3 0-6 0 19 0-6 0-3 0 5 0-14 0 9 0 1 1 0 0 0 0-6 0 5 0-1 0 6 0-4 0 1 0-2 0 2 0-4 1 1 0 0 0 0 0 10 0-16 0 4 0 0 0 2 0-1 0-6 0 9 1-4 0-3 0 5 0 3 0 4 0-5 0-2 0 1 0-2 0 2 0-2 1 3 0-2 0-1 0-2 0-5 0 15 0-18 0 6 0 7 0-4 0 1 1 0 0 2 0-8 0 2 0 8 0 3 0-6 0 11 0-18 0 6 0 2 1 4 0-12 0 8 0 0 0-7 0 2 0-7 0 9 0 0 0 7 0-12 1 14 0-10 0 4 0-1 0 7 0-13 0 6 0 10 0-5 0-13 0 3 1 7 0-1 0-1 0-5 0 18 0-8 0-4 0-5 0-4 0 4 0 8 1-9 0 6 0-4 0 3 0 3 0-4 0 3 0-3 0 2 0-6 0 1 1-3 0 5 0-5 0 4 0 2 0 1 0 1 0-3 0 4 0-2 0-7 1 3 0 4 0 0 0 4 0-1 0-9 0 5 0 3 0-5 0 0 0 3 1 4 0 3 0-4 0-8 0 14 0 5 0-17 0 0 0 0 0 0 0 4 1-4 0-3 0 2 0 1 0 6 0 5 0-2 0-7 0 3 0-6 1-2 0 0 0 2 0-7 0 7 0 16 0-18 0 4 0-1 0 0 0 2 1 2 0-1 0-2 0 0 0 0 0 0 0 8 0-17 0 11 0-2 0 10 1-7 0-3 0 10 0-7 0-6 0 9 0 8 0-12 0 0 0-7 0 2 1-4 0 11 0-3 0 1 0 0 0 4 0-10 0 4 0-2 0 3 0-4 1 0 0 9 0 3 0-7 0 0 0 3 0-5 0-2 0 4 0 3 0-6 1-7 0 7 0 1 0-5 0 10 0-3 0-2 0 11 0-11 0-4 0 5 1 4 0 0 0-5 0-4 0 11 0 1 0-9 0 7 0 4 0-10 0 8 1-1 0-6 0-1 0 4 0-5 0 0 0 6 0-5 0-4 0 3 0-1 1 7 0-5 0-5 0 7 0-6 0 6 0 0 0 1 0 3 0 2 0-8 1-3 0 9 0-1 0-5 0-3 0 0 0 8 0-3 0 5 0-12 0 2 1 2 0 6 0-5 0 4 0 1 0-5 0 3 0 3 0-7 0 3 0-6 1 13 0-16 0 10 0-6 0 6 0 5 0-4 0 3 0-13 0 0 0 6 1-1 0-2 0 0 0 6 0-3 0 9 0-11 0 2 0 7 0-1 1-1 0-5 0-2 0 4 0 6 0-3 0-4 0 1 0 8 0-10 0 6 1-5 0 1 0 5 0-10 0 2 0 2 0 5 0-6 0 2 0-4 0 2 1 0 0 8 0-8 0 11 0-7 0 0 0 5 0-7 0-2 0 3 0-6 1 12 0 3 0-14 0 7 0 1 0 3 0 1 0-6 0 1 0-3 0 1 1 1 0-7 0 3 0 11 0-9 0 4 0-9 0 7 0-7 0 7 0-6 1-2 0 20 0-17 0 5 0 3 0 0 0 0 0-6 0 4 0-9 0 7 1 8 0-11 0 4 0-12 0 6 0-5 0 2 0 1 0 8 0-9 0 10 1 0 0 5 0-7 0-9 0 0 0 1 0 15 0-7 0-11 0 12 0-6 1 7 0-6 0 8 0 10 0-6 0-12 0-1 0 6 0-2 0 4 0-1 1-6 0 0 0 1 0-7 0 11 0-8 0 4 0 7 0-5 0 4 0-2 1-8 0 3 0-5 0 3 0 1 0 0 0 3 0-7 0 1 0 10 0-6 1 7 0-5 0-8 0 5 0 3 0 11 0-14 0 15 0-8 0 3 0-17 1 13 0-6 0 6 0-10 0 9 0-2 0 8 0-9 0-4 0 10 0-7 1-4 0 4 0 0 0 7 0-10 0 10 0-6 0-2 0 1 0-3 1 13 0-14 0 10 0 1 0-5 0 10 0-10 0 12 0-18 0 0 0 12 1 2 0-11 0 7 0-2 0 3 0 0 0-6 0-2 0-5 0 4 0 7 1-3 0 7 0-5 0-7 0 8 0-3 0-6 0 2 0 9 0-7 0 6 1-6 0 5 0-3 0-6 0 5 0 3 0-3 0 5 0-5 0-2 0 5 1-3 0 7 0-9 0 2 0 7 0-6 0-2 0 7 0-1 0-8 0 3 1 1 0 10 0-13 0 6 0 9 0-14 0 3 0-5 0 1 0 1 0 3 1-6 0 12 0-11 0 3 0-3 0 2 0-7 0 12 0-7 0 8 0-2 1 4 0-12 0 7 0-3 0 7 0-5 0 3 0-8 0 16 0-11 0 0 1 0 0-5 0 2 0 4 0-4 0 0 0 11 0-9 0 5 0-1 0 0 1 0 0-7 0 7 0-2 0 0 0-5 0 2 0-2 0 6 0-2 0-8 1 19 0-20 0 19 0-12 0 21 0-19 0 8 0 0 0-3 0-13 0 10 1-5 0 3 0 3 0 0 0-4 0 4 0-2 0 7 0 3 0-12 0 1 1 7 0 2 0-8 0-3 0-1 0 4 0 0 0-6 0-1 0 6 0 6 1-8 0-3 0-1 0 4 0 1 0 11 0-12 0 0 0 7 0-2 1-1 0-1 0-2 0 4 0 1 0-8 0 6 0 4 0-2 0-4 0 0 1-4 0 11 0-6 0 8 0-9 0 1 0-2 0 1 0 5 0 3 0-8 1 2 0 1 0 0 0-5 0-1 0 0 0 5 0 10 0-21 0 10 0 4 1-13 0 12 0-9 0-1 0 5 0 1 0-1 0 0 0-6 0 12 0-5 1-2 0 3 0-6 0 0 0 1 0 2 0-4 0 3 0-1 0 1 0 14 1-13 0 0 0 5 0-4 0 7 0-9 0 4 0-6 0 5 0 3 0-5 1 3 0 1 0-10 0 5 0 7 0-4 0-2 0 1 0 0 0-2 0 1 1 1 0 14 0-15 0-1 0 6 0 0 0-2 0-5 0 4 0-1 0 2 1 3 0-4 0-4 0 6 0-5 0 6 0-3 0-6 0-1 0 6 0-5 1 6 0-1 0-6 0 5 0-1 0 0 0 9 0-3 0 1 0 2 0-9 1 7 0-12 0 11 0-11 0 6 0 12 0-18 0 13 0-4 0-10 0 11 1-7 0 10 0 0 0-2 0-9 0 6 0-2 0 1 0 7 0-7 0 7 1-8 0 4 0-7 0 2 0-2 0 5 0-4 0 0 0 2 0-2 1 7 0-11 0 3 0 6 0 7 0-6 0-3 0 4 0-2 0-3 0 0 1-4 0 9 0-5 0 6 0 0 0-7 0-5 0 8 0 4 0 13 0-19 1 2 0-3 0 7 0-14 0 15 0-2 0 0 0-7 0 2 0 3 0-9 1 12 0-4 0-5 0 15 0-1 0-6 0-5 0 2 0-5 0-4 0 14 1-3 0-6 0 1 0 5 0 5 0-4 0 7 0-18 0 2 0 7 0 12 1-11 0-1 0 5 0-6 0-10 0 7 0-1 0 0 0 11 0-9 0-5 1 2 0 5 0-4 0 6 0 0 0-4 0 4 0-9 0 0 0 11 0-2 1-3 0-5 0 1 0 9 0-6 0 10 0-13 0 5 0-8 0 8 0-1 1 1 0-1 0 9 0-14 0 10 0-2 0-10 0 6 0-4 0 3 0 6 1-1 0-1 0 2 0 3 0-6 0-5 0-1 0 5 0 13 0-13 0-2 1-1 0 1 0 6 0-2 0 5 0-7 0 10 0-12 0-4 0 10 0-1 1 1 0-4 0 3 0-4 0 0 0-1 0 12 0-5 0-5 0 5 0-4 1-7 0 6 0-5 0-1 0 5 0 13 0-7 0 5 0-16 0 8 0-4 1-3 0 1 0 9 0-10 0 13 0-6 0 0 0-2 0 4 0-1 1 3 0-3 0 3 0-7 0 9 0-1 0-6 0 10 0-15 0 1 0 2 1 3 0-6 0 10 0-6 0 3 0 1 0-6 0 1 0-7 0 6 0 4 1 0 0-5 0 1 0 6 0-1 0-5 0 2 0-6 0 5 0 9 0-8 1-5 0 8 0 3 0-8 0-7 0 11 0 2 0-1 0-5 0-4 0 10 1 3 0-3 0-2 0-5 0 7 0 5 0-4 0-3 0 1 0 3 0-6 1 2 0-3 0-3 0 9 0 9 0-15 0 9 0-6 0-4 0 7 0-6 1 11 0 9 0-23 0 0 0-1 0 8 0 1 0 4 0-17 0 8 0 5 1-4 0 2 0 3 0-5 0 7 0 3 0-7 0-6 0 16 0-8 0-4 1-5 0 8 0-6 0-2 0 5 0-3 0 3 0-3 0 2 0 2 0-9 1 7 0-6 0 20 0-13 0 0 0 8 0-9 0-5 0 3 0 0 0 5 1-1 0 2 0-7 0-1 0 6 0 4 0-12 0 2 0 8 0 1 0 1 1-7 0 6 0 2 0 0 0-13 0 8 0 3 0 6 0-8 0-2 0 6 1-13 0 8 0 8 0-11 0-2 0 8 0-2 0 4 0-7 0 0 1 3 0-2 0 1 0 3 0-6 0 3 0-6 0 2 0 4 0 15 0-14 1 3 0 8 0-15 0-4 0 4 0 2 0 6 0-8 0 5 0 3 0-8 1-3 0 7 0 5 0-9 0 7 0 1 0 2 0-10 0 6 0 2 0 0 1-16 0 7 0-2 0 7 0 1 0-3 0-3 0 8 0-7 0 2 0 3 1-3 0-1 0 10 0-14 0 1 0 3 0 3 0-6 0 6 0-5 0 0 1 10 0-12 0 15 0-10 0 1 0-4 0-5 0 4 0 2 0-2 0 1 1 4 0 12 0-17 0 11 0-7 0-2 0-6 0 10 0-1 0 2 0-5 1 0 0 5 0-12 0 8 0-9 0 6 0 4 0 9 0-14 0 9 0-5 1 1 0-2 0 0 0 1 0 5 0 5 0-12 0-4 0 7 0-1 0 0 1 5 0-6 0 6 0-7 0 6 0 5 0-11 0 0 0 5 0-2 0 2 1 1 0 1 0-4 0 2 0 1 0 0 0 5 0-7 0 5 0-7 0 10 1-1 0-13 0 15 0-4 0-1 0-4 0 2 0-7 0 8 0-12 0-2 1 9 0 3 0-2 0 5 0-2 0-2 0-1 0-2 0 0 0 6 0-9 1 3 0 6 0-5 0 4 0 4 0-7 0-5 0 12 0-9 0 7 1 4 0-16 0 6 0-1 0 3 0-3 0 2 0 2 0 0 0-3 0 0 1 5 0 3 0-8 0-1 0-1 0 6 0 1 0 1 0 2 0-9 0-5 1 7 0-9 0 7 0-1 0 3 0-7 0 8 0-2 0-5 0 0 0 4 1-3 0-5 0 12 0-1 0 3 0 6 0-7 0 7 0-15 0 7 0 7 1-4 0 3 0-2 0-6 0-2 0-3 0 2 0 3 0-2 0 4 0 3 1-7 0 6 0-7 0 3 0 10 0-8 0 1 0 2 0-6 0 0 0 6 1-1 0-9 0 3 0 0 0 0 0-2 0 0 0-4 0 9 0-3 0 12 1-11 0-2 0 7 0-4 0-3 0 10 0-5 0-1 0 1 0-1 0 1 1 2 0-3 0 2 0-2 0-5 0-1 0 8 0-4 0-8 0 10 0-4 1-1 0 5 0-1 0 0 0 6 0-5 0-2 0 1 0 4 0-5 0-2 1 8 0-8 0 9 0 1 0 2 0-7 0 13 0-5 0-13 0 2 0-1 1 4 0-6 0 8 0 3 0-7 0-4 0 0 0 10 0 3 0-19 0 9 1 5 0-8 0 3 0 5 0-1 0-1 0 2 0 1 0-8 0 3 1-1 0 0 0 2 0 1 0-2 0 4 0-4 0-3 0 6 0-10 0 12 1-1 0 5 0-10 0 1 0 1 0 6 0-9 0 2 0 2 0-2 0-2 1 1 0-1 0 9 0-4 0-5 0 5 0-8 0 12 0 1 0-9 0-6 1 11 0 1 0-2 0 3 0 0 0 6 0-5 0-9 0 1 0 3 0-6 1 1 0 1 0 9 0-15 0 6 0 7 0-3 0-3 0 2 0-4 0 5 1-1 0 5 0-9 0 2 0-2 0 5 0-2 0-4 0 3 0 13 0-16 1 6 0-9 0 9 0 4 0-3 0-5 0 0 0-2 0 7 0 4 0-9 1 7 0-6 0 3 0-10 0 14 0-9 0 1 0 6 0 1 0-2 0-5 1 4 0 0 0 9 0-8 0 3 0-12 0 9 0 1 0 0 0-6 0 3 1 1 0 2 0-5 0-4 0 3 0 0 0 0 0 6 0 2 0-4 0-4 1 8 0-7 0-1 0 1 0 1 0 1 0 3 0-8 0 5 0-4 0 7 1-5 0-3 0-3 0 10 0-1 0-2 0 0 0 0 0 2 0 1 0 5 1-14 0 10 0-5 0 10 0-13 0 6 0-6 0 8 0-6 0 6 0-9 1 6 0-6 0 11 0 1 0-10 0-2 0 4 0 14 0-9 0-4 1 9 0-13 0 2 0 3 0-4 0 0 0 0 0 0 0 9 0-7 0-2 1 6 0 3 0-6 0-4 0 10 0-9 0 0 0 1 0 1 0-1 0 0 1 0 0 1 0-2 0 6 0-1 0 5 0-17 0 8 0 4 0-6 0-2 1 7 0 1 0 11 0-13 0 4 0 6 0-13 0 9 0-15 0 17 0-15 1 1 0 8 0-3 0 8 0-7 0-2 0-3 0 13 0-7 0 0 0 2 1 2 0-7 0 1 0 2 0 6 0-13 0 8 0-9 0 20 0-8 0-2 1-6 0-6 0 18 0-14 0 5 0 2 0 3 0-3 0 0 0 3 0-8 1 5 0 7 0-4 0-9 0 4 0-4 0 10 0 1 0 0 0-11 0-1 1 6 0 1 0 1 0 2 0-9 0 4 0-5 0 5 0-4 0 8 0-2 1-7 0 7 0-5 0 1 0 8 0-9 0 6 0-8 0 9 0 0 0-9 1 6 0 1 0-8 0 0 0 5 0 1 0-1 0 2 0 3 0-6 0 0 1 0 0 14 0-3 0-3 0-9 0 3 0 2 0-7 0 11 0-7 0 9 1-4 0-9 0 1 0 5 0-5 0-2 0 9 0-7 0 4 0-1 0 6 1-5 0 12 0-8 0-1 0 2 0-5 0-2 0 2 0 10 0-15 1 5 0 13 0-11 0 0 0-5 0 3 0-5 0 6 0-1 0-3 0 0 1 16 0-6 0-1 0-12 0 12 0-10 0 3 0 2 0-2 0 2 0 4 1-6 0-3 0 4 0 0 0-6 0-3 0 15 0 0 0-4 0-2 0 4 1-2 0 16 0-15 0 9 0-7 0-8 0 3 0 4 0-1 0 4 0-4 1-6 0-1 0 6 0 5 0-10 0 16 0-10 0-9 0 18 0-18 0 11 1-9 0 7 0 4 0 4 0-11 0 0 0 1 0-4 0 2 0-4 0 4 1 7 0 2 0-12 0 5 0-8 0 9 0-2 0-1 0-1 0 2 0 2 1 0 0 2 0 1 0-2 0 4 0 4 0-14 0 8 0 14 0-16 0 4 1-13 0 14 0-6 0-8 0 7 0-6 0 9 0-8 0-6 0 13 0-2 1-1 0-2 0 2 0-4 0 4 0-6 0 3 0 9 0 9 0-18 0 14 1-12 0-5 0 4 0-6 0 10 0 0 0-9 0 12 0-8 0 3 0-4 1-1 0 5 0-5 0 10 0-7 0-3 0 2 0 2 0-8 0 13 0 1 1-8 0 5 0-4 0 5 0-3 0 3 0-4 0 7 0-9 0 7 1-2 0-3 0 5 0-4 0-5 0 0 0 11 0-5 0-1 0-2 0-1 1-3 0 9 0-9 0 1 0 9 0-3 0 2 0 0 0 4 0-14 0 8 1-10 0 20 0-14 0 1 0-1 0 6 0-1 0-2 0-6 0 9 0-1 1-5 0 2 0 9 0-4 0-4 0 4 0-3 0-2 0 2 0 7 0-7 1-4 0 2 0-1 0 14 0-6 0-6 0-6 0 9 0-1 0 4 0 10 1-11 0-6 0 6 0-12 0 5 0 10 0-6 0-2 0 0 0-2 0 8 1-8 0-1 0 8 0-10 0-1 0 7 0-3 0 8 0-6 0-9 0 12 1-2 0-5 0-2 0 16 0 1 0-9 0 4 0-10 0 6 0-4 0 0 1 2 0 5 0-8 0 6 0-1 0-6 0 1 0 4 0 3 0-6 0 6 1-13 0 15 0-6 0-6 0 7 0 6 0-4 0-4 0-1 0 6 0-8 1 9 0 3 0-6 0-6 0-4 0 12 0-5 0-4 0 7 0 2 0-2 1-5 0-3 0 8 0 8 0-7 0 0 0-1 0 1 0-1 0 6 0-2 1-5 0-6 0 4 0 1 0 2 0-5 0 2 0 4 0-1 0 5 0-11 1 5 0 1 0 4 0 0 0-10 0 1 0 11 0-8 0 3 0 4 1-2 0-5 0 1 0-5 0-2 0 5 0 2 0-5 0 5 0 3 0-2 1 2 0-8 0 1 0 2 0 1 0-2 0-1 0 3 0-2 0 3 0-3 1-2 0 7 0-7 0 10 0 1 0-5 0 3 0-11 0 5 0-3 0 1 1 3 0 5 0-7 0 2 0 4 0-4 0 8 0-7 0 1 0 9 0-10 1-2 0 4 0-5 0 4 0-5 0 1 0-8 0 13 0 1 0 4 0 2 1-8 0-4 0 8 0 4 0-12 0-5 0 7 0 6 0-11 0 11 0-4 1 5 0-9 0 2 0-3 0 3 0-1 0-1 0 5 0-2 0 2 0-1 1-7 0-1 0 1 0 7 0-1 0-3 0 4 0-2 0 2 0-8 0 3 1 1 0-4 0 9 0 1 0-12 0 16 0-9 0 1 0-2 0-2 0 4 1 7 0-10 0 6 0 2 0-5 0-5 0 3 0-3 0 10 0-13 0 9 1-2 0-1 0 0 0 0 0 5 0-4 0 8 0-6 0-3 0 1 0 10 1-8 0-3 0-5 0 0 0 11 0-5 0-2 0 1 0-2 0 0 0-3 1 12 0-9 0-2 0 4 0 8 0-16 0 10 0 7 0-2 0 2 1-14 0 7 0-3 0 0 0 4 0-8 0 13 0-5 0-9 0 1 0 9 1-3 0 0 0-1 0 10 0-14 0 5 0 6 0 1 0-9 0-6 0 6 1 4 0 3 0-4 0 3 0-7 0 6 0-3 0-4 0 12 0-7 0 7 1-6 0 0 0 2 0-4 0 4 0-11 0 5 0-3 0 10 0-6 0 4 1 6 0-9 0 3 0 0 0-8 0 4 0-3 0 6 0 0 0-8 0-1 1 12 0 1 0-4 0 10 0-14 0 1 0 10 0-4 0 2 0-2 0-5 1 4 0 9 0-17 0 3 0 11 0-10 0 5 0-2 0-3 0 15 0-17 1 1 0 0 0 3 0 1 0-4 0 0 0 3 0 0 0-6 0 5 0 9 1-2 0-3 0-4 0 0 0-1 0 3 0-3 0-7 0 7 0 8 0-10 1-2 0 4 0 3 0 0 0 2 0-7 0 7 0-3 0-4 0 8 0 0 1-3 0-5 0 6 0-7 0 18 0-16 0 3 0-4 0 18 0-14 0-2 1 3 0-4 0 6 0-6 0-2 0 4 0 11 0-5 0-5 0-3 0 3 1 7 0-6 0-5 0 3 0 6 0-5 0-2 0 7 0-1 0-7 0 6 1 0 0-11 0 5 0 2 0-7 0 7 0 6 0-5 0-5 0 6 1 3 0-8 0-3 0 4 0 0 0 0 0-3 0 6 0 1 0 5 0-13 1 9 0-5 0 7 0-9 0 1 0 1 0-4 0 11 0-5 0 0 0 3 1 4 0-17 0 18 0-8 0 2 0 1 0-6 0 13 0-10 0-1 0 7 1-8 0 6 0-8 0 9 0-9 0 9 0-12 0-4 0 16 0-5 0-7 1 7 0 2 0-4 0 1 0 8 0-5 0 4 0-7 0-3 0-2 0 1 1 10 0-4 0-1 0 3 0 7 0-10 0 7 0-18 0 8 0-1 0 11 1-6 0-9 0 7 0 4 0-7 0 12 0 7 0-20 0 3 0 0 0-1 1 4 0 0 0-1 0 3 0-9 0 4 0-1 0-5 0 14 0 3 0 0 1-8 0-4 0 4 0 3 0-5 0 0 0 11 0-5 0-6 0 5 0-6 1-1 0 5 0-3 0-7 0 14 0-9 0 4 0-3 0 7 0-7 0 4 1 1 0-6 0 8 0-6 0 4 0-9 0 12 0-5 0 1 0-9 0 9 1-1 0 2 0-6 0 1 0 3 0-6 0 5 0-3 0 15 0-18 0 10 1 3 0-9 0 2 0 7 0-2 0-8 0-3 0 4 0 1 0 2 1 4 0-7 0 2 0 2 0-4 0 2 0 9 0-13 0 18 0-19 0 4 1 5 0-6 0 9 0-10 0 9 0-6 0 4 0-6 0 2 0-2 0 9 1-6 0-10 0 5 0 17 0-4 0-12 0 13 0-9 0-7 0 4 0 7 1 3 0-9 0-1 0-5 0 5 0-5 0 6 0-1 0 2 0 6 0-10 1-4 0 4 0 8 0-10 0 9 0-7 0 10 0 0 0-2 0 4 0-3 1-9 0 9 0-7 0 9 0-7 0 7 0 3 0-17 0 7 0-2 0 4 1-4 0 11 0-13 0 4 0-2 0 4 0 3 0-8 0 9 0-8 0 6 1 2 0 1 0-14 0 6 0 7 0 6 0-13 0-8 0 7 0-4 0 0 1 6 0 3 0-8 0 0 0 3 0 6 0 1 0-7 0 6 0 1 0-6 1 3 0-7 0 11 0-6 0 0 0-1 0 5 0-1 0-4 0-2 0 7 1-9 0 8 0-4 0 7 0-10 0 14 0-11 0-4 0 2 0 12 0-9 1-6 0 1 0 13 0-7 0-8 0 11 0-3 0-4 0 1 0 12 0-16 1 7 0-4 0 10 0-16 0 6 0 3 0 1 0-6 0 7 0 0 0-3 1 1 0 0 0 4 0-7 0-3 0 5 0 7 0-6 0-3 0 0 1-2 0 5 0-1 0-8 0 13 0-2 0-1 0-2 0-5 0 2 0 5 1 3 0 2 0-11 0 7 0-8 0 5 0 2 0 2 0-4 0-1 0 8 1-5 0-4 0 2 0-1 0 4 0 5 0-11 0 9 0-5 0-1 0-1 1 5 0-5 0-5 0 8 0-5 0 14 0-15 0 7 0 3 0-11 0 15 1-7 0-4 0-2 0 5 0-1 0-6 0-2 0 6 0-3 0 6 0-2 1 3 0-4 0 4 0 0 0-6 0 0 0 11 0-8 0 6 0-5 0 7 1-12 0 2 0 11 0-10 0-2 0 11 0 3 0-11 0 14 0-19 0-3 1 12 0-14 0 12 0 6 0-3 0 5 0-18 0 8 0 10 0-4 0-8 1 2 0-3 0 7 0 2 0-3 0 4 0-9 0 2 0-3 0 4 0 7 1 4 0-9 0 8 0-12 0 6 0-11 0 22 0-21 0 2 0 13 0 0 1-10 0 6 0-10 0 12 0-9 0-2 0 15 0-10 0 4 0-7 0 2 1-5 0 13 0 1 0-5 0-1 0-12 0 13 0 0 0-3 0 0 0-4 1 6 0-1 0-4 0 4 0 0 0-2 0 4 0-2 0 8 0-13 0 1 1 5 0 2 0-11 0 9 0-2 0-3 0-1 0 0 0-1 0-2 1 3 0-1 0 4 0 6 0-7 0-3 0 1 0 8 0-3 0-5 0 4 1-2 0 4 0 5 0-6 0-4 0 9 0-9 0 4 0-4 0 10 0-2 1-5 0-4 0 3 0-2 0 8 0-11 0 14 0-3 0-10 0 12 0 6 1-20 0 6 0-4 0 5 0 2 0-4 0-1 0-1 0 1 0 1 0 16 1-10 0-4 0 2 0 0 0 11 0-11 0 3 0-5 0-7 0 5 0-5 1-1 0 10 0-3 0 3 0-4 0 2 0 5 0-4 0-4 0 4 0-5 1 0 0 5 0 0 0-10 0 3 0 9 0-7 0 0 0 8 0-4 0-3 1 1 0 5 0-4 0-1 0-7 0 10 0-13 0 12 0 4 0-8 0 1 1 5 0-7 0 13 0-5 0-3 0-2 0-4 0 2 0-1 0 1 0-2 1 12 0-4 0-4 0-4 0 2 0 9 0-6 0-6 0 2 0 16 0-13 1 3 0 3 0 3 0-9 0 0 0 1 0-7 0 4 0 3 0 1 0 2 1-10 0 13 0-8 0 6 0 2 0 2 0-7 0-5 0 0 0 3 0 3 1 6 0-14 0 14 0-11 0 2 0 5 0 0 0 6 0-11 0-1 1 3 0 0 0 8 0 2 0-11 0 5 0-3 0 7 0-7 0-4 0 6 1-9 0 5 0 2 0-3 0 0 0-1 0 1 0 1 0 0 0 1 0-5 1 4 0 5 0-9 0 11 0-6 0 5 0-7 0 0 0 6 0-1 0-8 1 4 0 4 0-8 0 21 0-19 0 1 0-6 0 3 0-1 0 11 0-4 1-4 0 1 0-1 0-5 0 7 0 2 0 10 0-3 0-9 0 1 0 6 1-13 0 6 0 0 0-4 0 12 0-10 0 17 0-22 0 12 0-10 0 11 1-12 0 19 0-16 0-2 0 2 0-2 0 7 0 3 0-2 0 0 0-5 1 3 0-4 0 7 0-5 0 1 0 7 0-13 0 4 0-3 0 4 0-1 1 11 0-9 0 1 0 2 0-13 0 8 0 10 0-8 0 5 0-1 0-12 1 8 0 3 0-6 0 15 0-14 0 3 0-1 0 4 0-8 0 0 0 7 1-2 0 1 0-4 0 0 0 5 0 2 0 6 0-11 0 0 0 4 0 0 1-10 0 3 0 13 0-11 0 2 0-6 0 2 0 13 0-14 0 11 0-9 1 2 0-1 0-4 0 8 0 2 0-7 0 8 0-3 0-4 0-5 0 4 1 2 0 0 0-5 0 9 0-9 0 3 0 8 0-14 0 3 0 10 1-10 0 9 0 1 0-2 0 3 0-10 0 0 0 1 0 3 0-2 0 3 1-1 0-2 0 7 0-8 0 12 0-11 0 16 0-16 0 0 0-8 0 12 1 1 0-8 0 1 0 1 0 8 0-7 0 2 0 11 0-15 0 18 0-19 1 1 0 7 0-4 0-1 0 0 0 2 0-5 0 15 0-10 0 2 0-6 1 5 0-4 0 15 0-11 0-2 0 0 0 0 0 4 0 0 0-6 0 8 1-6 0 1 0-5 0 5 0 1 0 3 0-4 0-1 0 0 0 2 0 3 1 4 0-11 0 4 0 9 0-14 0 11 0 0 0-6 0 16 0-19 0 5 1-3 0 4 0-8 0 8 0-4 0 11 0-14 0-2 0 4 0 2 0 1 1-3 0-7 0 5 0-2 0 3 0-3 0 11 0-11 0 4 0 2 0 4 1-4 0-8 0 1 0 11 0-5 0-1 0 6 0-2 0-5 0 14 0-11 1-1 0-2 0 3 0 2 0 9 0-3 0-1 0-15 0 2 0 2 0-5 1 17 0-2 0-8 0-1 0 12 0-13 0 6 0-6 0 1 0 0 0 0 1 2 0 2 0 3 0-2 0 3 0-7 0-2 0 5 0-8 0 3 1 2 0 3 0-6 0 1 0 10 0-5 0-3 0 1 0-5 0 1 0-1 1 7 0-3 0 1 0-9 0 5 0 4 0 7 0-13 0 16 0-9 0-3 1 1 0 13 0-12 0 0 0 7 0 1 0-10 0 7 0-2 0-2 0-3 1 0 0-4 0 12 0-12 0 3 0 0 0 3 0-1 0 6 0-8 0 21 1-16 0-3 0-6 0 4 0-4 0 5 0 5 0-2 0 4 0-9 0 16 1-18 0 12 0-8 0 2 0-5 0 6 0 0 0-3 0-3 0 9 0-4 1 0 0 6 0-9 0 2 0 5 0-1 0-6 0 2 0-7 0 10 0-2 1-7 0 13 0-6 0 8 0-10 0 2 0 4 0-6 0-4 0 1 0 21 1-11 0 1 0-6 0-3 0 8 0-8 0 6 0 3 0-6 0-3 0 3 1-6 0 5 0-7 0 4 0-2 0 1 0 4 0-7 0 8 0-1 0 4 1 7 0-12 0 19 0-9 0-10 0 1 0 4 0-9 0 7 0-4 0 3 1-1 0 4 0 1 0-6 0 2 0 2 0 0 0-2 0 3 0 2 0-8 1 8 0-9 0 0 0 4 0 1 0 1 0-9 0 10 0-8 0 15 0-4 1-4 0 2 0-10 0 8 0-10 0 7 0-2 0 3 0-2 0 3 1-2 0 2 0 1 0-4 0-2 0-5 0 13 0 2 0-7 0-3 0 4 1-1 0-1 0 6 0 0 0-8 0-2 0 9 0 0 0 2 0-1 0-4 1 0 0-3 0 1 0 10 0-10 0-4 0 9 0-5 0-2 0-1 0 12 1-10 0 2 0 9 0-5 0-9 0 2 0 16 0-14 0 7 0 8 0-18 1 6 0-3 0 7 0-7 0 16 0-10 0-4 0-6 0 13 0-4 0-7 1 4 0 6 0-3 0-8 0 7 0 1 0 3 0 4 0-12 0-2 0 8 1-6 0-6 0 12 0 2 0-5 0 5 0-9 0 5 0-3 0 1 0 3 1 5 0-2 0 3 0-12 0 7 0-7 0 6 0-7 0 7 0 5 0-11 1 6 0-1 0-2 0 2 0-4 0 10 0-4 0-6 0 7 0-3 0-3 1 6 0-1 0 0 0-12 0 10 0 3 0-9 0 12 0-2 0 3 0-3 1 3 0-12 0 1 0-2 0 4 0-2 0-1 0 1 0 6 0-7 0-2 1 20 0-20 0-6 0 12 0-4 0 2 0-4 0 5 0-4 0-5 0 2 1 2 0 2 0 1 0 5 0-6 0-3 0 8 0 1 0 0 0 5 1-11 0 1 0 5 0-6 0-1 0-1 0 9 0 4 0-8 0 7 0-3 1-4 0-7 0 2 0 1 0 1 0 7 0-8 0 4 0 3 0-5 0 0 1 4 0-7 0 5 0 5 0-4 0-4 0 4 0-6 0-3 0 9 0 2 1 3 0-7 0 12 0-16 0 10 0-6 0-4 0 3 0-5 0 6 0 5 1-3 0 3 0 2 0-10 0 4 0 2 0-4 0-1 0 6 0-5 0 0 1 0 0 6 0 3 0-11 0 8 0-7 0 1 0 0 0 0 0 7 0-1 1 2 0-9 0 3 0-2 0 6 0 6 0-10 0 1 0-2 0-1 0 7 1-1 0-8 0 2 0 4 0 0 0 5 0-8 0-1 0 5 0-2 0-5 1 10 0-5 0 9 0-8 0 3 0-2 0-6 0 1 0 4 0 2 0-13 1 17 0-18 0 6 0 12 0-8 0 6 0-5 0 9 0-12 0 3 0-2 1 8 0-6 0-4 0-1 0 13 0-12 0 10 0-10 0 0 0 2 0 1 1 1 0 3 0-2 0-5 0-1 0 8 0-8 0 1 0 2 0-3 0-3 1 9 0-4 0 5 0-11 0 4 0-1 0 9 0-4 0-1 0 0 0 2 1-9 0 6 0 1 0 18 0-19 0-1 0 5 0-2 0 1 0-2 1 2 0 12 0-8 0-10 0 23 0-17 0-4 0 4 0 7 0-6 0-10 1 4 0 6 0 4 0-10 0 8 0 1 0 5 0-4 0 2 0-7 0-7 1 5 0-2 0 1 0 1 0-6 0 6 0-2 0-2 0-2 0 3 0 0 1-5 0 8 0 0 0 0 0 10 0-9 0 4 0-13 0 29 0-23 0 12 1-6 0-6 0 3 0 7 0-16 0 10 0-6 0 7 0 2 0-7 0-2 1 10 0-8 0 4 0-3 0-6 0 10 0-7 0 0 0 11 0-4 0-4 1 3 0-4 0-6 0 3 0 4 0 3 0 0 0 4 0-4 0 7 0-5 1 0 0-2 0-6 0 5 0-6 0 2 0 1 0 6 0-3 0 8 0-4 1-9 0 9 0-8 0 25 0-16 0-11 0-3 0 9 0-5 0 3 0 5 1 6 0-10 0 3 0-3 0-1 0 2 0-7 0 8 0-3 0 1 0-7 1 13 0-9 0-2 0 8 0 3 0-9 0 4 0 1 0-1 0 8 0-13 1 12 0-12 0 20 0-14 0 0 0 9 0-14 0 5 0-3 0 6 0-1 1-7 0 1 0-2 0 9 0-2 0 4 0-5 0 1 0 8 0-21 0 4 1 3 0 5 0-3 0-1 0 1 0 4 0-1 0 0 0 9 0-14 1 2 0-5 0 12 0-12 0 0 0 1 0 12 0-7 0-2 0 0 0-2 1 6 0-10 0 3 0 10 0-2 0-8 0 2 0 11 0-3 0-7 0-1 1 3 0-2 0 8 0-8 0-2 0 4 0 8 0-9 0 3 0-4 0 3 1 2 0 2 0-2 0-1 0-6 0 17 0-6 0-4 0-6 0 4 0 0 1 0 0 2 0-1 0 1 0 4 0-9 0 1 0-2 0-7 0 8 0 6 1-3 0 1 0-6 0 2 0 8 0-8 0 0 0-3 0 1 0 5 0-2 1 7 0-4 0 8 0-3 0-9 0 8 0-8 0 4 0-4 0-2 0-1 1 1 0 6 0 0 0 0 0 8 0-6 0-2 0-3 0 5 0-11 0 7 1 0 0 1 0-4 0 10 0-9 0 7 0-6 0 12 0-9 0 2 0-3 1-7 0-1 0 7 0 5 0 2 0-6 0-4 0-1 0 4 0-2 0-6 1 15 0-13 0 1 0 18 0-9 0 1 0 0 0-1 0 3 0-11 0 8 1-1 0-9 0 8 0 3 0-2 0-5 0 1 0-2 0 2 0 11 0-12 1 2 0 7 0 1 0-10 0 1 0 3 0-2 0-5 0 4 0 3 1 0 0-4 0 7 0 0 0 8 0-7 0-7 0 4 0-9 0 7 0-1 1-3 0 15 0-8 0-6 0 10 0-2 0-8 0 6 0 2 0-4 0 6 1-5 0-1 0-9 0 14 0-6 0-9 0 17 0-12 0 9 0-7 0 4 1-4 0 0 0-1 0 5 0-5 0-4 0 9 0-5 0 0 0 3 0-6 1 2 0-1 0 10 0-6 0 4 0-6 0 5 0-1 0-8 0 2 0 9 1-12 0 4 0 1 0 1 0 4 0-4 0 5 0-2 0-7 0 0 0-4 1 17 0-12 0 1 0 1 0 7 0-2 0-4 0-2 0-1 0 7 0-9 1 14 0-7 0-1 0 5 0-1 0-1 0-2 0 7 0-3 0 2 0 6 1-16 0 16 0-15 0 7 0-5 0-4 0 5 0-8 0 6 0 5 0-10 1 16 0-15 0 2 0 2 0 7 0-7 0-2 0 8 0-5 0 5 0-6 1 1 0 14 0-17 0-1 0 14 0-9 0 0 0-2 0-3 0-4 0 7 1-2 0 14 0-9 0-6 0 9 0-3 0-4 0 0 0-3 0 2 0 7 1-9 0 5 0 8 0-13 0 5 0 14 0-17 0 8 0 3 0-6 0-3 1 13 0-13 0 1 0-1 0-1 0 3 0-7 0 13 0-2 0 2 1-9 0 8 0-6 0 14 0-12 0-5 0-2 0 11 0-7 0 8 0-12 1 7 0 4 0-9 0 1 0 1 0-4 0 7 0 4 0-3 0-2 0-3 1 3 0-5 0 11 0-7 0-2 0 3 0-4 0 4 0 3 0-1 0 5 1-9 0 9 0-14 0 3 0 5 0 1 0-1 0 4 0-2 0-6 0 11 1-3 0-2 0 2 0 0 0-11 0 3 0 0 0 0 0 5 0-1 0 4 1-8 0 5 0-2 0 2 0-1 0-3 0 3 0 5 0-16 0 18 0-9 1 0 0-3 0 8 0-2 0 2 0-3 0-5 0 2 0 8 0-4 0-2 1-5 0 5 0-2 0 10 0-3 0-8 0 6 0 8 0-12 0 1 0 9 1-12 0 1 0 5 0 3 0-17 0 9 0 0 0 0 0 0 0 3 0-7 1-1 0 11 0-8 0-5 0 15 0-5 0-3 0 1 0 5 0 4 0-12 1-2 0-1 0 10 0-6 0 5 0 0 0-5 0 2 0 4 0-7 0 2 1 1 0 3 0-5 0 8 0 0 0-11 0 6 0 3 0 4 0 8 0-24 1 5 0 5 0-5 0 10 0-1 0 7 0-13 0-8 0 12 0-2 1-5 0 18 0-20 0 12 0-6 0-1 0 4 0 8 0-11 0-2 0-2 1 0 0 4 0-7 0 6 0-1 0-1 0 2 0 0 0-1 0 0 0 4 1-1 0 4 0-10 0 4 0-1 0 2 0 12 0-20 0 13 0-4 0 3 1-10 0 11 0-2 0-6 0 6 0-11 0 9 0 9 0-16 0 10 0 0 1-6 0-2 0-4 0 2 0 2 0 8 0-7 0 7 0-6 0 4 0-2 1 3 0 0 0-2 0-4 0 6 0-2 0 1 0-9 0 5 0 5 0-1 1-9 0 4 0-3 0 14 0-6 0 1 0-2 0 2 0 4 0-9 0 0 1 0 0 6 0-8 0 11 0-14 0 6 0-1 0 5 0 1 0-7 0-6 1 7 0-6 0 13 0-11 0 11 0-7 0-2 0-2 0 4 0-6 0 15 1-7 0-11 0 2 0 12 0-1 0-4 0 3 0 8 0-16 0 9 0-2 1-1 0-2 0-2 0-6 0 12 0 3 0-3 0 6 0-12 0 4 0 0 1 5 0-5 0-5 0 0 0 4 0 3 0-10 0 14 0 1 0 1 0-15 1 10 0-3 0-3 0 5 0-6 0 10 0-1 0-13 0 9 0 14 0-15 1-6 0 1 0-1 0 4 0 6 0-4 0 9 0-6 0-1 0 8 1-12 0-2 0 7 0-3 0-6 0 6 0 3 0 2 0-1 0-9 0 4 1-3 0 10 0-12 0 6 0 1 0-5 0 3 0-1 0 12 0-7 0-5 1-8 0 11 0-3 0 7 0-3 0-3 0 5 0-2 0-3 0 4 0-3 1-2 0 5 0-4 0 1 0 0 0 0 0-2 0 3 0-2 0-5 0 4 1 6 0-8 0 6 0-2 0 3 0 0 0-2 0 2 0 5 0-2 0-6 1-1 0-8 0-1 0 13 0-5 0 5 0-2 0 2 0-5 0 5 0-7 1 16 0-13 0 3 0-3 0 0 0 1 0 7 0-7 0 4 0-7 0 1 1 3 0-2 0-2 0 0 0 1 0 8 0-7 0-4 0 5 0-2 0 8 1-1 0-5 0-4 0 10 0-11 0 2 0 3 0 6 0-1 0-6 0-6 1 9 0 2 0-6 0 6 0-6 0-3 0 3 0 1 0 2 0 2 0 4 1-12 0 9 0-1 0-2 0-1 0 5 0-6 0 4 0 3 0-6 0-1 1 7 0-6 0-2 0 5 0-4 0-2 0 6 0-10 0 13 0-10 0 8 1-9 0 10 0-8 0 6 0-11 0 10 0 5 0-2 0-8 0 3 1-1 0 2 0-7 0 2 0 1 0 10 0-3 0-5 0-3 0 2 0 3 1-3 0 0 0 1 0 0 0 1 0-2 0 0 0 7 0-10 0 10 0-7 1 4 0-2 0-4 0 4 0 3 0-4 0 1 0 7 0-3 0-9 0 2 1 2 0 0 0 11 0-11 0 3 0 2 0 0 0-6 0 5 0-5 0 2 1-2 0 5 0-4 0-1 0 11 0-12 0 4 0 2 0 0 0-7 0 4 1 3 0-2 0 0 0 7 0-5 0 2 0-7 0 11 0-12 0 0 0 8 1-1 0 2 0-8 0 0 0-3 0 7 0-4 0 1 0-1 0 9 0-4 1-8 0 7 0 0 0 8 0-4 0-9 0 3 0-4 0 5 0 1 0-7 1 8 0-3 0-1 0-4 0 2 0-5 0 12 0-7 0 5 0-3 0-1 1 3 0-4 0 6 0-6 0 6 0 1 0-6 0 1 0-2 0 0 0 8 1-3 0-1 0-2 0-3 0 7 0-1 0-4 0 2 0 10 0-1 0-13 1 1 0 1 0-4 0 6 0-1 0-2 0 3 0-1 0 11 0-9 0 2 1-7 0-1 0 12 0-5 0-5 0-5 0 14 0-10 0 5 0-1 0 1 1 2 0-8 0 4 0-6 0 11 0-6 0 1 0-2 0 11 0-5 1-1 0 7 0-19 0 6 0 2 0 2 0 0 0 5 0-7 0 6 0 0 1 6 0-8 0-9 0 4 0-6 0 3 0 8 0 9 0-18 0 11 0-5 1 2 0-2 0 4 0 2 0 0 0-7 0-3 0 12 0 4 0-13 0 6 1-2 0 1 0-2 0-8 0 5 0 1 0 14 0-13 0-2 0 8 0-2 1 7 0-4 0-2 0 0 0-4 0 2 0 1 0 2 0-8 0 0 0 8 1-5 0 2 0-4 0 5 0 2 0-6 0 6 0-7 0 0 0-3 0 3 1 2 0-5 0 11 0 0 0 7 0-20 0 7 0-1 0 4 0 0 0-3 1 7 0-8 0 2 0 1 0 2 0-3 0-8 0 5 0 3 0-3 0 5 1 2 0-4 0-5 0 11 0-9 0 3 0-4 0 2 0 3 0-4 0 3 1-5 0 5 0 9 0-19 0 9 0-6 0-4 0 7 0 3 0-3 0-8 1 9 0-6 0 2 0 3 0 4 0-7 0 0 0 8 0-6 0-3 0 17 1-15 0 3 0-1 0 0 0 2 0 3 0 2 0-10 0 2 0 9 0-1 1-5 0-1 0 6 0-7 0 4 0 0 0 1 0-5 0 0 0 5 0-4-435-12-29 52-295-6 64-3 77 1 31-4 30 0 107 2-41-1 472-45 13-3-353 47 67 0 129-3 145 2-73 1" fill="none" stroke="none" marker-start="url(#mc)" marker-mid="url(#mc)" marker-end="url(#mc)"/><path d="M132 520l0-2 0 1 0 0 0-2 0 0 0 3 0-3 0 5 0-5 0 2 1 2 0-1 0 0 0-4 0 2 0-1 0 1 0 1 0-1 0 2 0-3 1 2 0-1 0-1 0 0 0 1 0 3 0-4 0 3 0-4 0 4 0-2 1 0 0 1 0 0 0 0 0 0 0 0 0-2 0 1 0 0 0-1 0 2 1 0 0-2 0 2 0 0 0-1 0 2 0 0 0-3 0 3 0 1 0-3 1 2 0-4 0-1 0 4 0-2 0 3 0 1 0-3 0 0 0 2 0 0 1 0 0-2 0 2 0-1 0-2 0 1 0 2 0-2 0-2 0 4 0 0 1-2 0 1 0 0 0-2 0 2 0 2 0-1 0-1 0-1 0 4 0-6 1 3 0-1 0-1 0 1 0 0 0 3 0 0 0 0 0-1 0-2 0 0 1 3 0-1 0-4 0 2 0-1 0 2 0 1 0 1 0-2 0 0 0-1 1-2 0 2 0 1 0 0 0 0 0 0 0 0 0-3 0 3 0 0 0 2 1-3 0 2 0-1 0 0 0 0 0 1 0-3 0-1 0 5 0-1 0 1 1-3 0 3 0-5 0 0 0-1 0 5 0-1 0 0 0-1 0-1 0 2 1-2 0 1 0 1 0 2 0-1 0-1 0 0 0-3 0 4 0-1 1 1 0-1 0 0 0 1 0-2 0 0 0 1 0 0 0-1 0-1 0 3 1-4 0 5 0-2 0 0 0-1 0 0 0 0 0 0 0 0 0 2 0-4 1 2 0 0 0 3 0-1 0-1 0 2 0-3 0-1 0 3 0-2 0 2 1 2 0-3 0 1 0-1 0 0 0 0 0 2 0-2 0 2 0-2 0-1 1 0 0 1 0 0 0-1 0 1 0 0 0 2 0-3 0 3 0-1 0 1 1-1 0 1 0-2 0-1 0-1 0 3 0 0 0 0 0-1 0 1 0 0 1-2 0 3 0-2 0 0 0 1 0 1 0-3 0 1 0-1 0 0 0-2 1 4 0-2 0 2 0 1 0-2 0 0 0-1 0 1 0-2 0 0 0 1 1 1 0-1 0 1 0-1 0 0 0 2 0 0 0 0 0 0 0-1 0-4 1 4 0 1 0-3 0-1 0 3 0-1 0 0 0 2 0-1 0-1 0 0 1 0 0 2 0-1 0 2 0-5 0 4 0-1 0 0 0 1 0-3 0 2 1 0 0 1 0-1 0 0 0-2 0 2 0 0 0 1 0-4 0 4 0 0 1 0 0-1 0 0 0-1 0-1 0 1 0 1 0-1 0 2 0 0 0-3 1 3 0 1 0-3 0 2 0 0 0-3 0 2 0 1 0-2 0 2 1-1 0 1 0-2 0 2 0 2 0-5 0 3 0 2 0-2 0 0 0 0 1-2 0-1 0 1 0 1 0 1 0-2 0 2 0 1 0-3 0 1 0-3 1 3 0 0 0 3 0-4 0 3 0-1 0 0 0 0 0 0 0-1 0 1 1-4 0 3 0 0 0 2 0-1 0-1 0-1 0 0 0 2 0-2 0 1 1-3 0 2 0 0 0 3 0-2 0-1 0 1 0 4 0-4 0 1 0-2 1 1 0-1 0 0 0 4 0-4 0 2 0-2 0 0 0 0 0 1 0-1 1-1 0 0 0 1 0-1 0 2 0-3 0 0 0 2 0 2 0 0 0-1 1-3 0 2 0-3 0 1 0 4 0-3 0 0 0-1 0 1 0-1 0-2 1 5 0-3 0-1 0 0 0 0 0 1 0 0 0-2 0 1 0-1 0 4 1-1 0-2 0 1 0 0 0-2 0 3 0-1 0-2 0 1 0 0 0 0 1-1 0 0 0 0 0 3 0-1 0-3 0 1 0 1 0 1 0 1 0-1 1 1 0-1 0 0 0-1 0 3 0-2 0 0 0 0 0 0 0 0 0 0 1-3 0 3 0-2 0 2 0 1 0-1 0 0 0-1 0-1 0 0 1 2 0 1 0-2 0 1 0 0 0 0 0-2 0 2 0-1 0 3 0-2 1-1 0 2 0-1 0-1 0 0 0 0 0 1 0-1 0 0 0-1 0 0 1 2 0-1 0 1 0-1 0-1 0 1 0 1 0 1 0-1 0-2 0 2 1-3 0 3 0-3 0 4 0-1 0 0 0 0 0-1 0 1 0 1 0-1 1-1 0 2 0 0 0-2 0 2 0 0 0-1 0-2 0 3 0-3 0 2 1-2 0 0 0 2 0-4 0 4 0 2 0-2 0-1 0-1 0 1 0 2 1-1 0-1 0 2 0-2 0 0 0-1 0 2 0-2 0 2 0-1 0 2 1 0 0 1 0-3 0-1 0-1 0 5 0-2 0-1 0 2 0-2 0 1 1-1 0-1 0 1 0 0 0 2 0-2 0 3 0-3 0 0 0-1 0 1 1 1 0-1 0 0 0 0 0 1 0 1 0-2 0 1 0 0 0-2 0 3 1-2 0 1 0-2 0 2 0-2 0 3 0 0 0-2 0-1 0 3 0-2 1 0 0 3 0-4 0 1 0 0 0 0 0-1 0 4 0-4 0 1 0 1 1 0 0-2 0 0 0 1 0-1 0 2 0-2 0 1 0 2 0-1 0 1 1 0 0-1 0-1 0 0 0-1 0 4 0-1 0-4 0 4 0-3 1 0 0 1 0 0 0 0 0-1 0 4 0-2 0 1 0-1 0-1 0 1 1-4 0 2 0-1 0 2 0 3 0-2 0 0 0 1 0-1 0-1 0-2 1 2 0 0 0 0 0 1 0-2 0 2 0 0 0 0 0-1 0 3 0-2 1-1 0 2 0 0 0-1 0-1 0 0 0 1 0 0 0-1 0 2 0-2 1 1 0 0 0-1 0 1 0 0 0-1 0 0 0 1 0 1 0 1 0-4 1 2 0 1 0-1 0 1 0-2 0 0 0 0 0 0 0 1 0-4 0 2 1 1 0 0 0 2 0-2 0 0 0 1 0 1 0-4 0 2 0 0 0 0 1 2 0-1 0 0 0 0 0-1 0-1 0 1 0 0 0 0 0 0 0 0 1 1 0 0 0 1 0-1 0-1 0 0 0 0 0 0 0 1 0 0 0-1 1 1 0-2 0 2 0 1 0-3 0 3 0-1 0 0 0 0 0 0 0-2 1 2 0-2 0 1 0 1 0-3 0 3 0 0 0-2 0 1 0 0 0 0 1 2 0 1 0-3 0 0 0 0 0 0 0 0 0 1 0 1 0-3 0 2 1-3 0 2 0 0 0-1 0 2 0-2 0 1 0 0 0 1 0-1 1-2 0 4 0-2 0 0 0 2 0-4 0 3 0-3 0 3 0 0 0-2 1 0 0 1 0 1 0 0 0-1 0 0 0 1 0 0 0 2 0-3 0 1 1-1 0 0 0 3 0-3 0 2 0-1 0 1 0-3 0 0 0 4 0-3 1 0 0 0 0 0 0-2 0 4 0-2 0 1 0 1 0-1 0-2 0 2 1-1 0 1 0 0 0-1 0-1 0-1 0 3 0-2 0 2 0-1 0 0 1 2 0-3 0 1 0 1 0 0 0-1 0 0 0-2 0 4 0-3 0 2 1-2 0 1 0-1 0 0 0 0 0 2 0-1 0-1 0 2 0 0 0-1 1 1 0 0 0-2 0 2 0 0 0-1 0 1 0-1 0-1 0 2 0-2 1 0 0 3 0-3 0 1 0 2 0-2 0 1 0-2 0 0 0 0 0 2 1-1 0 0 0 1 0-2 0 2 0 0 0 0 0 1 0-2 0-1 0 1 1 0 0-1 0 2 0-1 0 1 0 0 0-4 0 2 0 0 0 1 0-1 1 2 0-1 0 0 0 0 0-1 0 0 0 2 0-2 0 1 0 1 0-2 1 0 0 2 0 1 0 1 0-2 0 0 0-2 0 0 0 2 0-2 0 1 1 2 0-2 0 0 0 0 0 1 0 0 0 0 0-2 0 0 0 2 1 2 0-2 0 2 0-3 0 1 0-3 0 4 0-1 0-2 0 0 0 0 1 2 0-1 0 0 0-1 0 1 0 0 0 0 0-1 0 3 0-3 0 1 1 0 0 0 0 0 0 1 0-2 0 3 0-4 0 1 0 2 0 1 0 2 1-6 0 1 0 2 0 0 0-1 0 3 0-2 0-2 0 0 0 0 0 2 1 0 0-4 0 3 0 0 0 0 0 0 0-2 0 3 0-3 0 1 0 4 1-4 0 0 0 2 0 0 0 2 0-4 0 2 0-2 0 2 0 0 0-1 1 2 0-1 0 0 0-1 0 0 0 0 0 1 0 0 0-2 0 1 0 0 1-1 0 0 0 4 0-3 0 0 0 0 0 2 0-4 0 1 0 1 0 1 1-1 0 0 0-1 0 0 0 2 0-2 0-1 0 1 0 1 0 2 0-3 1 1 0-1 0 1 0 0 0 1 0-2 0 0 0 2 0-2 0 0 0 2 1-1 0 1 0-2 0 2 0 0 0-2 0 1 0-2 0 4 0-2 0-1 1 0 0 3 0-1 0 0 0 0 0-1 0 1 0-1 0 1 0-3 0 2 1 1 0-1 0 1 0 0 0-2 0 1 0 1 0-4 0 4 0 1 1-1 0 1 0-1 0 0 0 1 0-2 0-2 0 2 0 1 0-2 0 0 1 0 0 3 0-2 0-1 0 0 0 2 0-1 0 1 0-1 0 0 0 0 1 2 0-3 0-1 0 4 0 0 0-2 0 1 0-1 0 1 0-3 0 2 1 2 0-2 0-1 0 2 0-2 0 3 0-3 0-2 0 4 0 0 0 1 1-3 0 0 0 1 0 2 0-3 0 1 0 1 0-1 0 1 0 0 0-3 1 4 0-2 0 1 0 1 0-2 0 2 0 0 0-2 0 2 0 0 0-2 1 1 0 0 0-3 0 1 0 1 0-1 0 2 0-2 0 1 0-1 0 2 1 0 0-1 0 1 0 1 0-2 0 1 0 1 0-3 0 0 0 0 0 2 1-1 0 2 0-2 0 1 0-1 0-1 0 1 0 2 0-4 0 4 0-2 1 0 0 0 0 1 0-1 0 0 0 0 0-3 0 3 0 0 0 1 0 1 1-2 0 1 0 0 0 0 0 1 0 0 0-1 0-2 0 3 0-1 0 1 1-3 0 0 0 0 0 2 0-1 0 2 0-2 0 1 0 0 0-1 0 1 1 0 0-1 0 1 0-2 0 2 0 0 0 1 0-4 0 2 0 0 0 0 1-2 0 1 0 1 0 1 0-1 0-1 0 1 0 0 0 0 0 0 1 1 0-2 0 2 0 0 0-1 0 1 0-1 0 0 0 0 0-1 0 1 1-1 0 1 0 0 0 1 0-1 0 0 0 1 0 0 0-2 0 0 0 1 1 0 0 0 0-2 0 2 0 0 0 1 0-1 0-1 0 2 0 1 0 0 1-2 0 0 0 0 0-1 0 2 0 2 0-2 0-2 0 2 0-1 0 1 1-2 0 0 0 0 0 2 0-3 0 0 0 1 0 1 0 1 0-1 0-1 1 2 0-1 0-2 0 2 0-1 0 0 0 1 0 1 0-3 0 2 0 0 1 2 0-3 0 1 0 0 0 2 0-1 0 0 0-1 0 2 0-2 0-1 1-1 0 2 0 0 0 1 0 0 0 0 0 1 0-3 0 1 0-1 0 0 1 0 0-1 0 4 0-3 0 2 0-1 0-1 0 2 0-1 0 0 0 1 1-1 0 1 0-2 0 2 0-1 0 1 0-1 0 0 0 0 0 1 0-2 1 2 0-2 0 1 0 0 0-1 0 2 0-3 0 3 0 0 0 2 0-3 1-1 0 2 0-1 0 0 0-1 0 2 0 0 0 0 0-1 0 0 0 2 1 1 0-1 0-2 0 1 0-1 0 2 0-3 0 0 0 3 0-2 0 2 1-2 0-1 0 2 0-1 0 1 0-1 0 0 0 0 0-1 0 2 1-1 0 2 0-2 0 1 0 0 0-2 0 1 0 2 0-4 0 2 0 0 1-1 0 2 0 0 0 0 0 0 0-2 0 2 0-2 0 2 0 0 0 0 1 0 0-3 0 3 0 0 0-5 0 4 0 1 0 0 0-2 0 0 0 1 1 0 0-2 0 2 0 1 0 0 0-1 0 0 0-1 0 2 0 0 0-1 1 1 0-1 0-1 0 2 0 0 0-2 0 1 0-1 0 2 0-1 0-2 1 2 0-2 0 1 0 1 0-1 0-1 0 1 0 1 0 1 0-2 0 1 1 0 0-1 0 0 0 0 0 2 0-4 0 3 0 0 0-1 0 0 0 1 1 1 0 0 0-1 0 1 0-3 0 4 0-1 0-2 0-1 0 3 0-2 1 4 0-2 0-2 0 1 0-1 0 2 0-1 0 0 0 0 0 2 0-2 1 2 0-2 0 0 0-1 0 1 0-1 0 1 0-2 0 2 0 1 0-2 1 1 0 1 0-1 0 1 0-1 0 0 0 1 0 2 0-3 0 1 0 0 1-1 0 0 0-2 0 4 0-2 0 1 0-2 0 0 0 1 0 0 0 1 1-3 0 1 0 2 0-3 0 3 0 0 0-2 0 0 0 1 0-1 1 2 0-2 0 1 0 0 0 0 0 1 0-1 0 1 0-2 0 2 0-1 1-3 0 5 0-3 0 1 0-1 0 0 0 0 0 2 0-3 0 1 0 1 1 0 0-3 0 2 0 1 0 0 0-2 0 2 0-1 0 1 0 0 0-2 1 1 0 0 0-1 0 3 0-2 0 1 0-1 0-1 0 3 0-1 0-2 1 1 0 2 0-2 0 2 0-1 0 1 0 1 0-3 0 2 0-1 0-1 1 2 0-2 0 1 0 0 0-3 0 3 0 0 0 0 0-1 0 0 0 2 1 0 0 0 0 0 0-2 0 0 0 1 0 0 0 1 0 0 0-1 0 0 1-1 0 1 0-1 0 0 0 0 0 1 0 2 0-3 0 0 0 3 0 1 1-3 0 1 0 0 0 0 0-2 0 2 0-1 0-1 0 2 0-1 0 0 1-1 0 2 0-2 0 1 0 0 0 0 0 0 0 0 0 0 0-1 0 2 1-2 0 1 0-1 0 0 0 0 0 1 0-1 0 1 0-2 0 3 0 0 1-2 0-1 0 3 0-1 0-3 0 4 0-3 0 3 0 1 0-2 0 0 1-1 0-1 0 2 0-1 0 0 0 1 0 0 0-1 0 2 0-3 0 2 1-1 0 0 0 0 0 2 0 0 0-3 0 3 0-1 0 0 0 1 1 1 0-4 0 2 0 1 0-1 0-2 0 2 0-2 0 2 0 1 0 1 1-3 0 1 0 0 0 0 0 1 0-2 0 1 0 2 0-1 0-3 0 2 1 1 0-1 0-1 0 0 0 0 0 2 0-2 0 2 0 0 0 0 0 1 1-3 0 0 0 1 0 2 0-1 0-1 0 2 0-2 0 0 0 2 0-3 1 1 0 1 0-1 0 0 0 0 0-1 0 0 0 3 0-2 0-2 0 2 1-1 0 0 0 3 0-1 0-1 0 0 0-1 0 1 0 0 0 1 0-3 1 1 0 0 0 1 0-1 0 1 0-2 0 1 0 1 0 0 0 0 0 0 1-2 0 1 0 1 0-1 0 0 0 2 0-2 0 1 0 0 0 1 0 0 1-3 0 3 0-1 0 0 0 1 0-2 0 1 0 2 0 0 0-5 0 0 1 5 0-3 0 0 0 2 0-1 0-1 0 2 0-1 0-2 0 1 0 1 1 1 0-2 0 1 0 0 0-1 0 1 0 0 0 0 0-2 0 0 0 2 1-1 0 2 0 0 0 0 0-1 0 0 0 0 0 0 0 2 0 0 0 0 1-3 0 0 0 1 0 1 0-1 0 0 0 2 0-3 0 2 0-1 1 0 0 1 0-2 0 1 0-1 0 0 0 2 0-2 0 3 0-3 0 0 1 0 0 1 0-2 0 1 0-1 0 0 0 2 0 0 0 2 0 0 0-2 1 0 0 1 0-1 0 1 0-2 0-2 0 3 0-1 0 1 0 0 0 0 1 0 0 0 0-1 0 2 0-1 0-1 0 1 0 1 0-1 0 1 0-1 1-1 0 3 0-1 0 1 0-4 0 0 0 2 0 1 0 1 0-1 0 0 1-1 0-1 0 1 0 0 0 1 0 0 0-2 0 0 0 3 0-3 0 1 1-1 0 1 0 1 0-2 0 1 0 0 0-1 0 3 0-2 0 2 0-4 1 0 0 1 0 2 0-1 0 0 0-1 0 1 0 1 0 0 0-1 0-1 1 1 0 2 0-1 0-1 0-1 0 1 0 0 0-1 0-4 0 7 0-3 1 1 0 0 0 0 0-2 0 1 0 0 0 2 0-2 0-1 0 0 0 3 1-1 0-3 0 2 0 1 0-2 0 2 0 0 0 2 0-3 0 1 0 3 1-2 0-1 0 1 0 1 0-2 0 1 0 1 0-2 0-1 0 2 0 0 1 0 0-1 0 0 0 0 0 0 0-2 0 3 0 1 0-3 0 0 0 3 1-1 0 0 0-2 0 0 0 2 0 0 0-2 0 2 0 0 0-1 1-1 0 0 0 0 0-2 0 0 0 3 0 1 0-2 0 1 0 2 0-2 1 1 0 1 0-3 0 2 0-3 0 3 0-2 0 2 0-2 0 0 0 2 1-2 0 1 0 1 0 0 0-2 0 2 0 0 0-1 0 0 0 0 0 0 1 1 0 1 0-2 0 2 0-1 0-2 0 1 0 1 0 0 0 1 0-2 1 0 0-2 0 1 0 0 0 2 0-2 0 2 0-2 0 0 0 2 0 0 1-1 0 1 0-2 0 1 0-1 0 2 0 0 0-1 0-1 0 2 0-1 1-1 0-1 0 3 0 1 0-1 0 0 0-1 0 0 0-1 0 2 0-1 1 1 0-1 0 0 0 1 0-1 0 3 0-2 0-1 0 0 0 1 0 2 1-5 0 2 0-2 0 2 0 0 0 0 0 1 0-2 0 0 0 1 0-1 1 0 0-1 0 0 0 2 0 2 0 0 0 1 0-2 0-1 0-2 0 2 1-1 0 0 0-1 0 1 0 2 0-2 0 1 0 0 0 1 0-2 0 3 1-2 0-1 0 1 0-2 0 1 0 1 0-1 0 0 0 1 0 0 0-1 1 0 0 1 0-1 0 2 0 0 0-2 0 0 0 0 0 1 0 0 1 0 0 0 0 0 0 0 0 1 0-1 0 1 0 1 0-4 0 1 0-1 1 1 0 1 0 0 0-2 0 2 0-1 0 2 0-2 0 1 0 1 0-1 1 0 0-2 0 1 0-1 0 4 0-2 0 0 0 0 0 2 0-2 0 0 1-1 0 2 0-2 0-1 0 1 0-2 0 2 0 1 0-1 0 1 0-1 1 0 0 2 0-3 0 1 0 0 0 1 0 0 0-1 0 0 0 2 0 0 1-1 0-1 0 1 0 2 0-3 0 1 0-1 0 1 0 1 0-1 0-1 1 0 0 0 0 1 0-1 0 1 0 1 0 0 0-1 0 1 0-1 0 1 1 1 0-3 0 2 0-3 0 1 0 1 0 0 0 1 0-1 0 2 0-3 1 1 0-1 0-2 0 2 0 1 0-1 0 0 0 0 0 0 0 0 0-1 1 2 0-3 0 1 0 1 0 1 0-1 0-1 0 1 0-1 0 2 0 2 1-2 0-1 0 1 0 1 0-2 0 2 0-2 0 1 0 1 0-2 0-1 1 4 0 0 0-1 0-1 0 0 0 0 0-1 0 1 0 0 0 0 0 0 1-1 0 3 0-3 0 0 0 1 0-1 0-1 0 0 0-1 0 1 0 3 1-2 0-3 0 3 0 2 0-3 0 3 0-3 0 1 0 0 0 2 1-2 0 0 0 0 0 2 0-1 0-2 0 1 0 0 0 0 0 0 0 1 1 0 0 1 0-2 0 1 0 1 0-1 0 0 0-1 0-1 0 0 0 1 1 0 0 2 0-3 0 2 0 0 0 2 0-3 0 2 0-3 0 2 0 1 1-2 0 1 0 1 0-2 0 0 0-1 0 2 0-2 0 4 0-2 0 1 1-1 0 2 0-1 0-2 0 1 0-3 0 3 0-1 0 2 0 0 0-2 1 2 0-3 0 1 0-2 0 2 0 0 0 1 0 1 0-2 0 2 0 0 1-4 0 2 0 0 0 3 0-1 0-1 0-1 0 1 0 1 0-1 0-2 1 3 0-3 0 1 0 2 0-2 0 0 0-1 0 4 0-2 0 0 0-1 1 3 0-1 0-1 0 0 0-2 0 2 0 1 0-2 0 0 0 0 0 1 1 0 0-2 0 2 0-1 0 1 0-1 0 0 0 1 0-2 0 0 0 1 1 2 0-2 0 0 0 0 0 1 0-1 0 2 0-1 0 0 0 0 0 1 1 0 0-1 0 0 0 0 0-1 0 0 0 0 0 1 0 0 0-3 0 1 1 2 0-1 0 1 0-1 0 2 0-1 0 1 0-3 0 3 0-2 0 3 1-3 0 0 0-1 0 2 0-1 0 0 0 2 0 1 0-3 0-1 1-1 0 2 0 1 0-2 0 0 0 3 0 0 0 0 0-3 0 1 0-1 1 1 0 0 0 1 0 0 0 0 0 1 0 0 0-2 0 0 0 0 0 3 1-3 0 0 0 0 0 0 0 1 0 0 0 0 0 2 0-3 0 1 0 1 1-3 0 0 0 3 0-3 0 2 0-1 0 2 0 1 0-3 0 0 0 1 1-2 0 0 0 1 0 0 0 2 0 0 0 0 0 0 0-2 0-1 0 2 1-1 0 2 0-2 0 0 0 1 0 0 0 0 0-1 0 1 0-2 0 2 1-2 0 2 0 0 0 1 0-1 0-1 0 0 0 2 0 0 0-2 0 1 1 1 0-2 0 1 0 0 0 0 0 0 0 1 0-1 0 0 0 0 0-1 1-1 0 0 0 0 0 1 0 0 0-1 0 3 0-2 0 2 0 0 0 0 1-1 0-3 0 3 0 0 0-2 0-1 0 4 0 0 0 0 0 0 0 0 1-1 0 0 0 1 0-1 0 0 0 0 0-1 0 0 0 3 0 0 0-1 1-2 0 0 0 2 0-1 0 0 0 2 0-2 0 0 0 0 0-1 0 2 1-3 0 2 0 1 0 1 0-2 0-2 0 3 0 0 0-1 0-1 1-1 0 1 0 1 0 3 0-3 0 0 0-2 0 0 0 1 0 1 0 0 1 1 0 0 0 0 0-2 0 0 0 0 0-1 0 0 0 2 0-1 0 1 1-1 0 0 0 1 0 0 0 3 0-4 0 1 0-2 0 1 0 2 0-1 1 2 0-4 0 1 0 1 0-2 0 1 0-1 0 2 0-1 0 1 0-2 1 1 0 3 0-1 0-1 0-1 0 0 0 1 0 2 0-2 0-1 0 0 1-1 0 2 0-2 0 1 0 0 0 3 0 0 0-3 0 2 0-1 0 0 1 0 0 1 0 1 0-2 0 1 0-1 0 1 0-3 0 2 0-1 0 0 1 1 0 2 0-2 0 1 0-1 0-1 0-1 0 1 0-1 0 2 0 0 1 0 0 0 0 2 0-3 0 1 0 0 0 1 0-2 0 2 0-2 0 1 1-2 0 2 0-1 0 0 0 0 0 1 0 1 0 2 0-4 0 1 0 0 1 1 0-2 0 0 0 1 0-1 0 1 0-1 0 1 0 1 0-1 0 0 1 1 0 0 0-1 0-2 0 0 0 3 0-2 0 0 0 2 0-2 0-2 1 2 0 2 0 0 0-1 0 2 0-1 0-4 0 0 0 2 0-2 0 4 1-4 0 3 0-2 0 2 0 2 0-2 0-3 0 2 0 0 0 1 1 1 0-2 0 0 0-1 0 0 0 0 0 1 0 1 0 0 0-1 0 1 1-1 0 2 0-3 0 0 0 2 0-1 0 2 0-2 0 1 0 0 0 1 1 0 0-3 0-1 0 2 0 1 0 1 0-2 0 3 0-3 0 2 0-2 1-1 0 1 0 2 0 0 0-1 0 2 0-2 0 0 0 0 0-1 0-1 1 2 0 0 0-1 0 1 0-1 0 2 0 0 0-2 0 2 0-1 0-2 1 0 0 1 0 1 0-1 0 2 0 1 0-3 0 1 0-1 0 2 0-3 1 3 0-2 0 1 0 0 0-1 0 0 0 3 0-2 0 0 0 1 0-2 1 2 0-1 0-2 0 1 0 1 0-1 0 0 0 1 0 0 0-1 0-1 1 2 0 1 0-1 0 0 0-1 0 2 0 0 0-1 0 1 0-1 0 1 1 0 0-1 0 1 0-1 0 0 0 0 0-1 0 1 0 0 0 0 0 2 1-5 0 2 0 2 0-2 0-1 0 3 0 1 0-3 0 1 0-1 0 0 1 1 0 0 0 0 0-2 0 2 0-1 0 0 0 1 0 0 0-2 0 3 1-2 0 0 0-1 0 1 0-1 0 1 0 0 0 0 0 2 0-2 1 2 0-2 0 1 0-2 0 2 0 0 0-4 0 3 0 1 0 0 0-1 1 0 0 1 0 0 0-2 0 2 0-1 0 1 0 0 0-1 0 2 0-1 1 0 0 2 0-3 0 0 0 2 0-2 0 0 0 1 0 0 0-2 0 2 1-1 0 1 0 0 0 1 0-1 0 1 0-2 0 1 0-1 0 2 0-1 1-1 0 2 0-1 0 0 0 0 0 0 0 0 0 0 0-1 0 1 0-1 1 2 0-1 0 0 0-2 0 1 0 0 0-1 0 1 0 0 0 0 0 1 1-2 0 2 0 1 0 0 0-2 0-1 0 2 0 0 0 0 0 0 0-1 1-1 0 1 0-1 0 2 0-1 0-2 0 0 0 3 0-2 0-1 0 4 1-2 0 0 0 0 0 2 0-2 0 2 0-1 0-1 0 1 0-2 0 0 1 1 0 2 0-2 0 0 0-1 0 1 0 0 0 1 0-1 0 0 0 1 1-2 0 0 0 0 0-1 0 4 0-1 0 0 0-1 0 0 0 2 0-1 1 1 0-2 0-2 0 1 0 0 0 1 0-1 0 0 0 1 0-1 0 1 1 0 0 1 0 1 0-2 0 2 0-2 0 0 0 0 0-1 0 3 0-4 1 3 0 0 0 0 0-1 0 1 0 1 0-2 0 1 0 1 0-4 1 3 0-2 0 1 0 1 0 0 0-1 0 0 0 0 0 0 0 1 0 1 1-1 0 0 0 1 0-2 0 0 0 1 0-1 0 1 0-1 0 0 0 3 1-3 0 1 0 0 0-1 0 1 0-2 0 0 0 2 0-3 0 0 0 2 1 0 0 1 0-3 0 3 0-1 0 0 0-1 0 0 0 4 0-2 0-1 1 2 0 0 0-5 0 3 0 1 0-1 0 0 0 1 0-1 0 0 0-1 1 1 0 0 0 0 0 1 0-1 0-2 0 1 0 2 0-2 0 1 0 1 1 2 0-5 0 4 0-1 0-1 0-2 0 1 0 2 0-3 0 5 0-2 1-1 0-2 0 2 0 1 0 0 0 0 0 0 0 0 0 0 0 2 0-4 1 1 0 1 0-1 0-2 0 2 0 0 0 2 0 0 0 0 0 0 0 0 1-2 0-1 0 2 0 2 0-2 0 1 0-1 0 0 0-2 0 2 0 1 1-2 0 0 0-1 0 0 0 0 0 0 0 3 0 0 0-3 0 2 0 0 1-1 0 0 0 2 0-2 0 1 0-1 0 0 0-2 0 2 0 1 0-3 1 2 0-2 0 3 0-1 0 1 0-3 0 2 0 1 0-2 0 2 1 1 0-2 0-1 0 2 0 2 0-3 0-1 0 1 0-1 0 1 0-1 1 0 0 3 0-1 0-1 0 0 0 2 0-2 0 1 0 0 0 0 0 0 1-2 0 0 0 1 0 0 0 1 0-1 0-2 0 2 0 3 0-4 0 1 1 1 0 1 0-1 0 1 0-2 0 1 0-1 0-2 0 3 0-3 0 4 1 1 0-1 0-3 0 1 0 1 0 1 0-2 0 0 0 1 0 1 0-2 1 2 0-2 0 0 0 0 0 0 0 1 0-1 0-1 0 2 0-1 0 0 1 1 0 0 0-1 0 0 0 0 0-3 0 3 0 0 0 1 0 1 0-2 1-1 0 0 0 2 0 0 0-1 0 2 0-1 0-1 0 0 0 0 0 0 1-2 0 0 0 2 0 1 0 0 0-3 0 4 0-4 0 3 0 0 0-2 1 2 0-1 0 0 0 0 0-1 0 0 0-1 0 3 0 0 0-2 0 0 1 1 0-1 0 2 0 0 0-2 0 1 0 0 0 1 0-3 0 4 0-2 1 0 0 0 0-2 0 3 0 0 0 0 0-1 0-1 0-1 0 3 0-1 1 1 0-1 0-1 0 2 0-2 0 2 0 0 0 0 0 0 0 1 0-2 1 1 0 0 0 0 0-1 0-1 0 2 0 1 0-1 0 1 0-2 1-1 0 4 0-3 0-1 0 2 0-2 0 2 0 0 0-1 0 1 0-2 1 2 0-1 0-1 0 2 0-1 0 1 0 0 0 0 0-1 0 0 0 0 1 1 0-3 0 3 0 0 0-3 0 2 0 0 0 2 0-1 0-1 0 1 1 0 0 0 0 2 0-2 0-2 0 3 0-3 0 3 0-1 0-1 0 0 1 1 0 1 0-1 0 0 0-2 0 2 0 0 0 0 0-1 0-1 0 4 1-3 0 0 0 0 0 0 0-1 0 4 0-4 0 1 0-1 0 1 0 1 1-1 0 2 0-1 0-1 0-1 0 3 0-2 0 0 0 2 0-1 0-1 1 1 0-1 0 0 0 0 0 1 0 0 0 0 0-1 0-1 0 2 0 0 1-1 0 0 0-2 0 2 0 1 0 0 0-1 0 0 0 0 0 0 0 0 1-1 0 0 0 1 0 0 0 1 0 0 0-1 0-1 0 2 0-3 0 2 1 0 0-1 0 2 0 1 0-3 0 0 0 2 0-1 0 3 0-2 0 2 1-4 0 0 0 0 0 0 0 0 0 3 0-1 0 0 0 0 0-1 0 0 1 1 0 1 0-4 0 4 0-1 0-2 0 0 0 1 0 0 0 1 0-1 1-1 0 1 0 0 0 2 0 0 0-1 0 0 0-1 0 0 0 3 1-5 0 3 0 2 0-1 0-2 0 2 0-2 0 1 0-1 0 0 0 2 1-3 0 0 0 0 0 0 0 2 0 1 0 0 0-4 0 1 0 2 0 0 1-1 0 2 0-1 0-1 0-2 0 2 0 1 0 0 0 0 0 0 0-3 1 1 0 3 0-1 0 1 0 0 0-2 0 1 0-2 0 2 0-1 0-1 1-1 0 1 0 2 0-1 0 0 0 0 0 0 0 2 0-2 0-1 0 1 1-1 0 2 0 0 0 0 0 0 0-2 0 0 0 1 0-1 0 1 0-1 1 0 0 0 0 2 0 0 0 1 0-1 0 0 0-1 0 0 0 0 0 1 1-3 0 3 0 0 0-1 0 2 0-1 0 0 0-1 0 1 0-2 0 3 1-4 0 1 0 1 0-1 0-1 0 3 0-4 0 4 0-1 0 1 0 0 1-2 0 0 0-2 0 1 0 2 0 3 0-2 0-2 0 2 0 0 0 1 1 0 0-1 0-1 0-2 0 2 0 0 0 0 0 1 0-1 0-1 0 2 1-1 0-1 0 2 0-1 0 1 0 1 0-4 0 2 0 0 0 1 0 1 1 1 0-3 0-1 0 3 0-1 0 0 0 1 0-3 0 2 0 0 1-1 0-1 0 2 0 2 0-4 0 3 0-1 0 0 0-1 0 3 0-3 1 0 0 0 0 1 0 1 0-4 0 1 0 1 0-3 0 2 0 0 0 2 1 1 0-2 0 1 0-4 0 2 0 0 0 2 0-1 0 2 0-2 0 0 1-2 0 4 0-3 0 3 0-2 0 2 0-1 0-2 0 1 0-1 0 0 1 1 0 0 0-1 0 0 0 2 0-1 0 0 0 3 0-3 0 0 0 1 1 0 0 0 0-1 0-1 0 1 0 2 0-2 0 0 0-1 0 0 0 1 1-1 0 2 0-1 0-1 0 0 0 1 0-3 0 5 0-1 0-1 0-1 1 0 0 1 0 2 0-1 0 0 0 0 0-2 0-1 0 2 0-1 0 2 1-1 0 0 0 0 0-1 0 2 0-2 0 1 0-2 0 1 0 0 0 2 1 1 0-2 0 1 0-1 0 2 0-4 0 2 0 1 0 1 0-3 0 0 1 1 0-1 0 0 0-1 0 1 0 2 0 0 0-1 0 1 0-1 0 2 1-3 0 0 0 1 0-2 0 2 0 2 0-2 0 1 0-2 0 1 0-1 1 0 0-1 0 3 0 0 0-1 0 1 0-1 0 1 0 0 0 1 0-2 1 0 0 1 0-1 0 1 0 0 0 0 0-2 0 1 0 0 0 0 1 1 0-1 0 1 0 0 0 0 0 2 0-3 0-1 0 0 0 1 0 1 1-2 0 1 0 0 0-1 0-1 0 1 0 1 0 1 0-1 0 2 0-2 1 0 0-1 0 1 0 1 0 0 0-1 0 0 0 0 0 1 0-2 0 0 1 0 0 0 0 2 0 0 0 0 0 0 0-1 0 2 0-3 0 1 0 0 1-1 0 1 0 0 0 1 0 1 0-3 0 1 0 1 0-1 0 1 0-3 1 3 0-1 0 0 0 1 0-1 0-2 0 1 0 0 0 3 0-4 0 3 1-2 0 2 0-2 0-1 0 1 0 2 0 1 0 0 0 1 0-3 0 1 1-1 0 0 0-1 0 1 0 0 0-1 0 0 0 0 0 1 0 0 0 0 1 0 0 1 0-2 0 1 0 0 0 2 0-4 0 2 0-2 0 3 0-1 1 0 0 0 0 0 0 1 0 0 0 0 0-3 0 1 0 1 0 0 0 1 1-2 0 1 0-1 0 1 0-1 0 3 0-2 0 0 0 0 0 2 0-2 1-1 0 1 0 0 0 0 0 1 0 0 0-1 0 3 0-3 0 0 0-2 1 4 0-1 0 0 0-2 0 3 0 1 0-3 0-2 0 3 0-2 1 1 0 2 0-2 0 1 0 0 0 0 0 0 0-1 0 0 0 0 0-2 1 3 0-2 0 0 0-1 0 2 0-1 0 1 0-1 0 2 0-1 0 0 1-1 0 1 0-2 0 2 0-2 0 2 0 0 0 1 0-1 0 1 0 0 1-2 0 0 0-2 0 4 0 1 0-4 0 2 0 0 0-1 0 0 0 2 1-2 0 1 0-1 0 0 0 2 0-2 0 1 0 0 0 0 0 3 0-4 1 1 0-1 0 1 0-3 0 2 0-1 0 3 0-2 0 2 0-4 0 3 1-1 0 1 0 1 0-1 0 0 0-1 0 0 0 1 0-1 0 1 0 0 1 0 0-1 0 1 0-1 0 0 0 2 0-1 0 1 0 1 0-2 0 2 1-2 0 0 0 1 0-1 0 0 0 1 0-2 0 1 0 1 0-2 0 1 1-1 0-1 0 2 0-1 0-1 0 2 0-1 0 1 0 0 0 1 0 0 1 0 0-1 0 1 0-3 0 3 0-1 0 0 0-1 0 2 0 0 0-3 1 2 0-1 0-1 0 2 0 0 0 0 0 0 0 0 0 1 0-2 0-1 1 2 0 1 0 0 0-2 0 0 0 3 0-1 0-1 0 0 0 0 0-1 1 4 0-4 0 0 0 1 0 1 0-1 0-2 0 3 0-1 0 1 1-2 0 1 0 1 0 0 0 0 0-1 0 0 0 0 0-1 0 2 0-1 1-2 0 1 0 2 0-1 0-1 0 2 0-2 0 1 0 0 0 1 0 1 1 0 0-2 0-1 0 1 0 0 0 2 0-1 0-2 0 0 0 2 0 0 1-1 0-1 0 0 0 1 0-1 0-1 0 1 0 2 0-3 0 2 0-2 1 0 0 1 0 2 0 1 0-3 0-1 0 4 0-1 0 0 0-3 0 3 1-2 0 2 0-1 0-1 0 0 0 2 0-2 0 0 0 0 0 1 0-1 1 3 0-1 0 0 0-3 0 0 0 0 0 2 0 0 0 1 0-1 0 2 1-2 0 2 0-3 0-1 0 2 0 0 0 0 0 0 0 1 0-1 0-1 1 2 0-2 0 1 0 0 0-2 0 2 0-1 0 0 0 0 0 1 0 1 1 0 0-1 0 1 0-3 0 3 0 1 0-3 0 2 0-2 0 0 0 1 1 0 0 0 0-2 0 1 0 2 0-1 0 0 0-2 0 1 0 3 0 0 1-2 0-2 0 2 0 1 0-1 0 1 0-3 0 2 0 0 0-1 0 0 1 2 0-1 0-1 0 0 0 1 0-2 0 1 0 2 0-2 0 1 1 0 0-1 0 1 0 0 0 0 0-2 0 1 0 1 0-2 0 3 0-4 1 0 0 0 0 2 0-1 0 1 0-1 0-1 0 0 0 1 0 2 0-2 1 0 0-1 0 1 0 1 0 0 0-2 0 0 0 3 0-4 0 3 0-2 1 2 0 1 0-3 0 2 0-2 0 2 0 0 0-1 0 1 0-1 0 1 1-1 0-3 0 1 0 2 0 1 0-1 0 2 0-2 0-1 0 1 0 1 1 0 0 2 0-2 0 1 0-3 0 3 0-2 0 0 0 0 0 0 0 0 1 0 0-1 0 1 0 2 0-1 0-2 0 3 0-2 0-2 0 1 0-1 1 3 0-1 0 0 0 0 0 0 0 2 0-3 0 1 0 0 0 2 0-3 1 1 0 1 0-2 0 1 0-1 0 3 0-3 0 2 0-1 0-1 0 1 1-1 0 0 0 2 0 0 0 1 0-2 0 0 0-1 0 2 0-2 0 1 1 0 0-2 0 2 0 0 0 1 0-2 0 2 0-4 0 3 0 0 0 1 1 1 0-1 0-1 0 1 0 1 0-2 0 1 0 0 0-2 0 1 0 0 1-1 0 1 0 2 0-2 0 0 0 0 0 0 0 0 0-1 0 1 0-2 1 1 0 2 0-1 0 1 0-1 0-2 0 2 0-2 0 5 0-5 1 3 0-1 0-1 0 2 0-1 0-1 0-2 0 3 0 2 0 0 0-4 1 3 0-1 0 1 0 0 0-2 0 0 0 3 0-2 0 0 0-2 0 2 1 1 0 1 0-1 0-1 0 0 0 1 0-1 0 0 0-2 0 1 0 1 1 0 0 0 0 1 0-4 0 3 0 0 0-2 0 2 0 0 0-2 0 2 1 0 0 0 0 1 0-2 0 1 0 0 0 1 0-2 0 4 0-5 0 4 1-2 0 0 0 1 0-2 0-1 0 3 0 1 0 1 0-2 0-4 0 4 1 0 0-1 0 1 0 0 0 0 0-1 0-1 0 0 0 2 0 0 0 1 1-1 0-2 0 2 0-2 0 2 0-2 0 2 0 0 0-2 0 2 0 0 1-1 0 0 0 0 0-2 0 2 0 3 0-2 0-3 0 3 0 0 0-1 1 1 0 0 0 1 0 0 0-2 0-2 0 0 0 3 0-1 0 0 0 2 1-3 0 0 0 0 0 1 0-1 0 1 0 0 0 0 0 0 0-2 0 3 1 0 0-3 0 1 0 2 0-1 0-2 0 2 0-1 0 3 0-1 0 1 1-3 0 2 0-2 0 2 0-1 0-1 0 0 0 1 0 1 0-3 0 5 1-2 0-1 0 0 0 0 0 0 0 2 0-4 0 2 0 1 0 1 1-4 0 2 0-2 0 1 0 1 0 0 0 0 0 1 0 0 0-1 0-1 1 1 0 0 0 1 0-1 0-1 0 0 0 1 0-2 0 2 0 0 0 1 1 0 0-2 0 3 0 0 0-3 0 1 0-1 0 0 0-1 0-1 0 3 1 2 0-3 0 2 0-2 0 1 0 0 0 1 0 0 0 0 0 0 0 1 1-3 0 0 0 2 0-2 0 2 0-1 0 1 0-1 0 0 0 0 0-2 1 3 0-1 0 1 0 0 0-2 0 1 0 1 0-1 0 1 0-1 0 0 1-2 0 3 0 0 0-2 0 0 0 1 0 2 0 0 0-2 0-1 0 0 1 0 0 0 0 2 0-1 0 0 0 1 0 0 0 1 0-3 0 3 0-1 1-2 0 2 0-1 0 1 0 0 0-1 0 1 0-1 0-1 0 1 0 1 1-1 0 0 0 0 0 1 0 1 0-2 0 1 0 0 0 0 0 1 0-3 1 1 0 0 0 1 0 0 0 0 0-2 0 0 0 1 0 1 0-3 0 2 1 0 0 0 0 1 0-2 0 1 0 0 0 2 0-4 0 3 0-3 0 3 1-1 0-1 0 0 0 1 0 1 0-1 0-1 0 1 0 2 0-2 1-2 0 1 0-1 0 1 0 2 0-2 0 0 0 1 0 0 0-1 0-1 1 1 0 2 0 0 0-2 0 0 0 0 0 1 0-1 0 1 0 1 0-3 1 1 0 0 0 3 0-2 0 0 0-2 0 3 0-1 0 0 0 0 0-2 1 2 0 1 0-2 0 1 0 1 0-2 0 1 0 2 0-3 0 3 0-1 1-3 0 0 0 2 0 0 0-1 0 3 0-1 0 0 0-3 0 2 0 2 1-4 0 2 0 1 0 0 0-2 0-1 0 1 0 2 0 0 0-2 0 2 1 0 0-2 0 0 0 1 0 0 0 2 0-2 0 0 0 2 0-3 0 0 1 1 0-1 0-2 0 3 0-1 0 0 0 1 0 1 0-1 0 0 0-2 1 1 0 1 0 1 0 0 0 0 0-1 0-1 0 0 0 1 0-1 0 1 1 1 0-1 0 0 0-1 0 1 0 0 0 1 0-1 0 0 0-1 0-1 1 2 0 0 0 0 0-1 0 3 0-4 0 3 0-2 0 1 0 0 0-1 1 2 0-1 0 0 0 0 0-1 0 4 0-3 0-1 0 4 0-4 0 2 1 2 0-3 0 0 0 0 0-2 0 3 0 0 0-1 0-1 0 2 0 1 1-2 0-1 0 1 0-1 0-1 0 3 0-2 0-1 0 2 0 0 1 0 0 1 0-2 0 1 0 0 0 1 0-2 0 0 0 2 0 1 0-2 1 0 0-2 0 3 0-1 0-1 0 2 0-2 0 1 0 0 0 1 0 1 1-2 0-1 0 1 0-1 0 0 0 0 0 0 0-2 0 3 0-1 0 2 1-3 0 2 0-2 0 2 0-1 0 2 0-1 0 0 0-1 0 1 0-1 1 0 0 0 0 0 0 1 0-2 0 2 0-1 0 1 0 2 0 2 0-6 1 1 0 1 0-1 0 1 0 0 0 0 0 0 0 1 0-1 0 0 0-1 1 1 0 1 0-1 0 0 0 0 0 0 0-2 0 2 0 0 0-2 0 2 1 0 0-2 0 4 0-2 0 1 0-1 0 0 0-1 0 1 0 0 0 1 1 1 0-4 0 2 0 1 0-1 0-2 0 3 0 1 0-1 0-1 0 0 1 0 0 1 0 0 0-2 0 2 0-2 0 1 0 0 0 0 0 0 0 2 1-3 0 1 0 1 0 0 0-3 0 4 0-1 0 0 0-2 0-1 0 2 1 0 0-2 0 2 0 0 0 0 0 1 0-3 0 2 0-1 0 2 0 1 1 0 0-2 0 3 0-3 0 3 0-4 0 0 0 1 0-1 0-1 1 2 0-3 0 2 0 1 0-2 0 2 0-1 0 0 0 2 0-2 0 2 1-3 0 2 0-1 0 1 0-1 0 0 0 0 0 1 0 0 0 2 0-2 1-2 0 3 0 0 0-3 0 4 0-2 0 0 0-1 0 1 0 0 0 0 1 1 0 0 0-1 0 0 0-1 0 0 0 2 0-1 0-1 0 1 0 2 1-1 0-1 0 1 0-1 0-2 0 2 0 0 0 1 0-1 0 0 0 0 1-1 0 0 0-1 0 3 0-1 0 0 0 0 0 0 0-3 0 2 0-1 1 4 0-3 0 2 0-2 0 0 0 0 0-1 0 3 0-3 0 1 0 0 1 1 0 1 0-3 0 2 0-1 0 1 0 0 0-1 0 2 0-1 0 0 1 0 0-1 0 1 0 0 0-1 0 0 0-1 0 1 0 1 0 0 0-1 1 3 0-1 0-2 0 2 0-3 0 2 0 0 0-2 0 3 0-3 0 2 1 0 0 1 0 0 0-1 0-4 0 3 0 4 0-2 0-2 0 2 0 0 1-1 0 0 0 1 0 1 0-3 0 1 0-2 0 3 0-2 0-2 0 4 1 0 0 1 0-2 0-2 0 0 0 3 0-1 0-2 0 2 0-1 0 2 1 0 0-2 0 1 0 1 0-2 0 1 0-1 0 2 0-3 0 1 1 1 0-1 0 1 0 0 0 1 0 0 0 0 0 2 0-4 0 2 0-2 1 0 0 0 0 1 0-1 0 0 0 1 0 0 0 2 0-2 0-1 0 1 1-1 0 0 0 1 0 0 0-1 0 0 0 2 0-3 0 0 0 2 0 2 1-3 0 3 0-2 0-3 0 5 0-1 0-2 0 0 0 2 0-1 0 1 1 0 0-2 0 1 0 1 0 1 0-2 0-2 0 2 0-2 0 2 0 0 1-1 0 0 0 0 0 1 0 0 0 0 0-1 0-1 0-1 0 2 0 2 1-3 0 2 0 0 0 1 0 0 0-1 0 2 0-2 0-2 0 1 0 1 1 1 0-1 0 0 0-2 0 1 0 1 0-2 0 3 0-1 0-1 0 1 1 1 0 0 0 0 0-2 0 0 0 0 0-1 0 3 0-1 0-2 0 3 1-1 0-1 0-3 0 4 0-1 0 2 0-1 0-1 0 2 0 0 0 0 1 0 0-3 0 2 0 0 0-2 0 1 0 0 0 1 0-1 0 2 0-1 1 1 0-1 0 1 0-2 0 0 0 1 0 0 0 1 0-1 0 0 0-3 1 5 0-3 0 2 0-2 0 2 0 0 0-2 0 0 0-1 0 1 1 1 0-1 0-1 0-1 0 2 0 1 0 2 0-3 0-1 0 2 0 0 1 1 0 0 0-1 0 0 0 0 0 0 0 1 0-4 0 2 0 2 0-3 1 0 0 2 0-2 0 1 0 1 0 1 0-3 0 3 0-1 0-1 0 1 1-1 0 0 0 3 0-2 0 0 0 1 0-3 0 3 0-1 0 0 0-1 1 2 0-2 0 0 0-1 0 3 0-2 0 0 0 1 0 0 0 2 0-3 1-1 0 1 0 0 0 0 0 0 0 1 0 1 0-1 0-3 0 1 0 3 1-3 0 3 0-2 0 0 0 4 0-3 0-1 0 3 0-3 0 0 0 1 1 1 0 0 0 1 0-1 0 0 0-1 0-1 0 0 0 1 0-1 0 0 1-1 0 0 0 5 0-1 0-2 0 1 0 0 0-1 0-2 0 3 0-1 1-2 0 3 0-1 0 2 0-5 0 3 0-1 0 1 0-2 0 2 0 0 1-2 0 2 0 0 0-2 0 3 0-2 0 1 0 1 0-3 0 2 0 1 1-3 0 4 0-2 0-1 0 2 0-2 0 0 0 0 0 1 0 0 0 0 1 0 0-1 0 1 0-1 0 1 0 0 0-1 0 0 0 0 0 1 0 1 1-1 0 2 0-4 0 2 0 1 0-2 0 0 0 1 0-1 0 0 1 5 0-6 0 2 0-1 0 1 0 0 0 0 0-1 0 1 0-1 0 1 1-1 0 1 0 1 0 0 0-4 0 2 0-1 0 3 0-2 0 3 0-2 1-1 0 2 0-4 0 4 0 0 0-1 0-2 0 0 0 1 0-2 0 3 1 0 0-2 0 0 0 3 0-1 0-1 0 1 0-2 0 2 0 0 0 1 1-1 0-2 0 3 0-2 0 0 0 2 0 0 0-2 0-1 0 3 0-1 1 0 0 0 0 0 0 2 0-2 0 1 0 0 0-2 0 1 0-1 0 1 1 0 0 0 0-1 0 2 0-2 0 3 0-2 0 1 0-1 0-2 0 2 1 0 0-1 0-1 0 2 0-1 0 0 0 2 0 0 0-2 0 0 0 1 1 0 0 0 0 0 0 2 0-2 0-1 0-1 0 3 0-2 0 1 0 1 1-2 0 2 0 0 0-1 0-1 0-1 0 0 0 1 0 0 0 1 0 0 1-1 0 2 0-1 0 2 0-3 0 1 0-1 0 1 0 0 0 0 0 0 1 1 0 0 0-2 0 0 0 0 0 0 0 2 0-2 0 0 0 1 0-1 1 0 0 0 0 2 0-1 0-1 0 1 0 0 0 1 0-2 0 1 0-1 1 1 0-2 0 2 0 1 0 0 0-3 0 2 0 0 0 0 0 0 1 2 0-2 0 1 0-3 0 3 0 0 0-2 0 0 0-1 0 2 0 0 1 2 0-3 0 0 0 0 0 2 0-1 0 0 0-1 0 1 0-1 0 0 1 0 0 0 0 1 0 1 0 0 0 1 0-2 0 0 0 1 0-2 0 1 1 0 0 2 0-1 0-2 0-2 0 3 0-2 0 1 0-1 0 1 0 0 1 3 0-2 0 1 0-3 0 3 0-3 0 2 0-1 0 2 0-2 0 2 1-1 0 0 0 1 0 1 0-3 0 1 0 0 0-1 0 3 0-3 0 1 1 0 0 1 0-2 0-1 0 2 0 1 0-3 0 1 0 0 0 0 0 1 1-2 0 2 0 1 0-1 0 1 0-1 0-1 0 0 0 1 0-1 0 0 1-1 0 4 0-1 0 2 0-3 0 0 0 0 0-3 0 2 0 2 0-1 1 1 0-1 0 0 0-1 0 0 0-1 0 0 0 3 0-2 0 0 0 1 1 1 0-1 0 0 0 0 0-1 0 3 0-1 0-2 0 0 0-1 0 2 1-1 0-2 0 5 0-2 0 0 0 1 0-1 0 1 0-2 0 2 0-3 1 4 0-2 0 1 0 0 0-1 0 0 0-1 0 0 0 1 0 0 1-1 0 0 0 2 0-3 0 4 0-3 0 1 0 1 0 1 0-3 0-1 1 1 0-1 0 0 0-1 0 3 0-1 0 1 0 0 0 0 0-2 0 2 1-1 0-1 0 1 0-1 0 1 0-1 0 1 0 0 0 0 0 2 0-2 1 0 0 2 0-1 0 0 0-1 0 0 0-1 0 2 0 1 0 0 0 1 1-2 0 0 0 0 0 0 0-2 0 1 0 1 0-1 0 2 0-3 0 3 1-3 0 1 0-2 0 3 0 0 0 0 0-2 0 3 0-2 0-1 0 2 1 0 0 1 0-1 0-1 0 0 0-1 0 2 0-1 0 0 0 1 0 0 1 1 0-1 0-2 0 3 0 1 0-2 0-1 0-1 0 1 0-1 0 3 1-3 0 1 0 1 0-2 0 1 0 2 0-4 0 2 0 3 0-1 0-3 1 1 0-1 0 2 0-1 0 0 0-1 0 3 0-5 0 2 0 2 0-2 1 3 0-2 0 2 0-1 0 0 0-1 0 1 0-2 0 0 0 2 0 1 1-1 0-2 0 1 0 2 0-1 0-2 0 3 0-3 0 1 0-2 0 3 1 2 0-3 0 0 0 0 0 0 0 1 0 0 0 0 0 1 0-3 0 1 1 1 0-1 0 3 0-2 0-2 0 1 0 2 0 0 0-1 0 1 1-1 0-1 0-2 0 3 0-2 0 2 0 0 0 0 0 1 0-1 0 1 1-2 0 0 0 3 0-1 0-3 0 2 0-1 0 2 0-3 0 2 0 0 1 0 0-2 0 1 0 2 0 0 0-2 0 1 0 1 0 0 0-2 0 2 1-2 0 1 0-1 0 1 0 0 0 1 0-1 0-1 0 0 0 0 0 1 1-1 0 1 0-2 0 2 0 0 0-1 0 0 0 0 0-1 0 4 0-3 1 1 0 2 0-3 0 2 0 1 0-1 0-2 0 0 0 0 0 2 0 2 1-4 0 1 0 1 0-2 0 2 0 0 0-2 0 1 0 1 0-3 0 1 1 0 0-1 0 3 0-2 0 0 0 1 0 1 0-1 0 0 0 1 0-2 1 1 0-1 0 1 0 0 0 1 0-1 0 0 0-2 0 0 0 4 0-1 1-3 0 4 0-4 0 2 0 1 0 1 0 0 0-2 0 0 0-1 0 0 1 0 0-1 0 2 0 0 0-2 0 3 0-4 0 3 0-1 0 0 0-2 1 3 0 0 0-2 0 3 0-2 0 1 0-1 0 0 0 0 0 1 0-1 1 2 0-1 0-1 0-1 0 0 0 3 0 1 0-2 0 0 0-2 1 2 0-1 0 1 0-1 0 4 0-3 0-1 0 2 0-2 0-1 0 2 1-1 0 2 0 0 0 0 0-1 0 2 0-1 0 0 0 0 0-1 0 1 1-3 0 1 0 3 0-3 0 0 0 0 0 1 0 0 0 0 0-2 0 3 1 0 0 0 0 0 0 0 0-1 0-1 0 1 0-2 0 1 0 0 0 1 1 0 0 1 0-1 0-1 0 0 0-1 0 3 0 0 0 0 0-2 0 0 1 0 0 1 0 0 0 1 0-2 0 1 0 2 0-5 0 2 0 1 0 0 1-1 0 2 0-3 0 2 0 0 0-2 0 2 0 1 0-2 0-1 0 2 1-1 0 0 0 2 0-1 0 1 0-4 0 1 0 0 0 1 0 0 0 1 1 1 0 0 0-2 0 1 0 2 0-4 0 2 0 0 0 0 0 0 0 0 1 1 0-2 0 1 0-2 0 3 0-1 0-3 0 4 0-2 0 1 0 0 1-1 0 2 0-3 0 2 0 2 0-2 0 0 0-2 0 1 0 1 0-1 1 0 0 0 0 0 0-1 0 1 0 0 0 0 0 1 0 1 0-2 0 0 1-1 0 3 0-2 0-1 0 1 0 1 0 0 0-2 0 2 0-1 0 0 1 1 0-1 0 3 0-2 0 1 0-2 0 2 0-1 0-2 0 0 1 1 0 1 0 0 0 0 0-1 0 0 0 1 0-2 0 2 0 0 0 0 1 0 0-3 0 0 0 0 0 4 0-3 0 1 0 3 0-5 0 1 0 1 1 1 0 1 0-3 0 2 0-2 0 1 0 0 0 0 0 2 0-1 0-2 1 2 0 1 0-2 0 0 0 2 0-2 0 2 0-2 0 0 0 0 0 1 1 0 0-2 0 2 0 0 0-1 0-1 0 2 0 0 0-2 0 2 0 2 1-2 0 0 0-2 0 2 0 0 0 0 0-1 0 2 0-1 0 0 0-1 1 2 0-1 0 2 0-4 0 2 0-1 0 1 0 0 0-1 0 0 0-2 1 4 0-1 0-1 0 0 0 0 0 1 0-1 0 0 0-1 0 2 0 0 1-1 0 0 0 1 0 1 0-2 0 0 0 1 0 1 0-1 0-1 0-1 1 3 0-1 0-3 0 4 0 0 0-1 0 0 0-1 0 2 0 0 0 0 1-2 0 0 0 3 0-2 0-2 0 1 0 1 0 1 0-3 0 1 0 0 1 0 0-1 0 3 0-2 0 0 0 1 0-1 0 1 0-1 0 2 0-2 1 1 0-1 0 0 0-1 0 2 0-1 0 1 0-1 0 0 0 0 1-1 0 2 0 0 0-1 0 0 0 3 0-3 0 2 0-2 0 0 0-1 1 1 0 0 0 1 0 0 0-2 0 4 0-3 0 1 0 1 0-1 0-1 1 0 0 0 0-3 0 4 0 1 0 0 0 1 0-3 0 1 0 0 0 0 1-1 0-2 0 3 0 1 0-3 0-1 0 3 0-2 0 2 0 0 0-1 1-1 0 2 0-1 0 1 0 0 0 1 0-1 0 0 0-3 0 2 0 3 1-2 0-1 0 0 0 3 0-2 0 0 0-1 0 0 0 3 0-4 0 2 1-3 0 4 0-1 0 0 0-2 0 0 0 2 0 0 0 0 0-1 0 0 1 0 0-1 0 1 0-2 0 3 0 0 0 0 0-1 0-2 0 3 0 1 1-3 0 0 0 3 0-2 0 0 0-1 0 2 0-1 0 2 0-1 0-3 1 1 0 2 0 0 0-2 0 1 0 2 0-1 0-2 0 2 0 1 0-2 1-1 0 3 0-1 0-1 0 0 0 2 0-1 0 1 0-2 0-1 0 1 1 2 0-2 0 0 0 0 0 2 0-1 0 0 0-1 0-2 0 3 0-3 1 4 0 0 0-1 0-1 0 1 0-1 0 0 0 0 0 1 0 3 0-3 1 0 0-2 0 2 0 1 0 0 0-1 0-1 0 3 0-2 0 2 1-2 0 1 0-3 0 1 0 1 0 0 0-1 0-1 0 3 0-3 0 3 1 1 0-3 0-1 0 1 0 2 0-3 0 2 0-2 0 0 0 0 0 1 1-1 0 2 0-2 0 0 0 0 0 2 0-1 0 1 0 0 0 0 0-1 1 0 0-1 0 2 0-1 0-2 0 2 0 2 0-1 0 0 0 1 0-4 1 2 0 0 0 0 0 1 0-1 0-1 0 1 0 0 0 3 0-1 0 0 1 0 0-1 0 1 0-1 0 0 0-2 0 4 0-2 0-1 0 2 0-1 1 1 0-2 0-2 0 1 0 1 0 1 0 2 0-3 0 1 0-2 0 2 1 1 0 0 0-2 0-1 0 0 0 2 0-2 0 3 0 0 0 0 0-2 1 1 0 2 0-2 0 1 0-1 0 2 0-3 0-2 0 3 0-1 0-1 1 1 0 0 0 1 0 0 0-2 0 0 0 3 0-3 0 2 0-1 0-1 1 2 0-1 0-3 0 3 0-1 0 0 0-2 0 5 0-1 0-1 0 1 1 0 0-1 0-1 0 1 0 1 0 0 0-1 0 0 0 1 0 1 0-1 1-1 0 1 0-1 0 2 0-3 0 2 0 0 0-1 0 1 0-1 0-1 1 3 0 0 0-2 0 2 0 0 0-2 0 1 0 0 0-1 0 0 1 1 0 0 0 0 0-1 0-1 0 1 0 1 0-1 0 0 0 0 0 1 1-2 0 1 0-1 0 3 0-1 0-1 0 1 0 0 0 2 0-1 0-3 1 2 0 1 0-1 0-2 0 0 0 4 0-2 0-2 0 0 0-1 0 2 1 0 0-1 0 3 0 1 0-3 0-2 0 1 0 2 0 1 0-3 0 1 1 0 0 2 0-1 0-1 0-1 0 2 0 0 0-2 0-1 0 5 0-5 1 3 0-1 0 0 0 0 0 2 0-1 0-1 0 2 0-3 0 3 0 0 1-2 0 1 0 0 0 2 0-1 0-2 0 0 0 0 0-1 0 1 0-1 1 0 0 2 0 0 0 0 0 0 0 0 0 0 0 0 0-2 0 1 0 0 1 2 0-2 0-1 0 3 0-2 0 1 0 0 0 0 0 0 0-2 0 0 1 1 0-2 0 4 0-1 0-1 0-1 0 0 0 3 0-1 0-2 0 0 1 3 0-1 0-1 0 1 0 0 0-2 0 3 0 0 0-1 0-3 0 3 1-1 0 1 0 0 0-2 0 2 0-1 0-1 0 2 0-1 0 2 0-1 1-2 0 2 0-2 0 2 0-1 0 2 0-2 0-1 0 1 0-1 1-1 0 1 0 3 0-3 0 2 0-1 0 1 0 0 0-1 0-1 0 0 1 1 0 3 0-1 0-3 0 1 0-1 0 1 0 2 0-1 0 0 0-3 1 1 0 0 0 4 0-3 0 2 0-1 0-1 0 0 0 2 0-2 0 1 1 0 0-1 0 1 0-2 0 2 0-2 0-1 0 4 0-1 0 0 0-3 1 1 0 2 0-2 0 5 0-5 0 1 0 2 0-1 0 0 0 0 0 1 1-1 0-1 0 0 0 1 0 0 0 1 0-1 0 1 0-2 0 0 0 0 1 0 0-1 0 1 0 1 0-1 0-1 0 0 0 0 0 0 0 3 0 0 1 0 0-2 0-1 0 1 0-1 0 1 0 0 0 1 0-2 0 2 0-4 1 3 0 0 0 0 0 0 0 0 0 0 0 0 0 2 0-2 0 1 0 1 1 0 0-1 0 0 0 1 0 0 0-2 0 0 0 2 0-1 0-2 0 2 1 0 0 0 0 0 0-1 0 0 0-1 0 2 0 0 0-1 0 0 0 0 1 0 0 2 0-1 0 0 0 0 0 0 0-1 0-2 0 4 0-1 0 0 1 0 0 1 0-2 0 1 0 2 0-1 0-1 0-2 0-1 0 2 0 1 1-1 0 1 0 0 0 1 0 0 0-1 0-1 0 0 0 0 0 4 1-2 0-1 0-2 0 0 0 2 0 0 0 0 0 1 0-1 0-1 0 0 1 1 0 1 0 0 0-1 0 2 0-3 0 1 0-1 0 0 0 3 0-4 1 1 0 0 0 1 0 0 0-1 0 0 0 0 0-1 0 1 0 0 0 0 1-1 0 0 0 0 0 0 0 0 0 0 0 0 0 3 0-3 0 2 0 3 1-2 0-1 0-1 0 3 0-3 0 1 0-2 0 2 0 0 0-3 0 3 1 0 0 0 0-2 0 1 0 2 0-1 0-2 0 2 0-3 0 3 0 1 1 1 0-3 0 0 0 0 0-1 0 0 0 2 0-1 0 0 0 0 0 0 1-1 0 1 0 2 0 0 0 1 0-4 0 0 0 2 0 0 0-1 0 1 1-1 0-1 0 2 0 0 0-1 0 1 0-3 0 3 0-1 0 2 0-1 1 0 0-1 0-1 0 2 0-2 0 2 0-1 0-2 0 3 0 0 0-2 1 0 0 2 0-1 0 0 0-1 0 1 0 0 0 0 0 2 0-3 0-1 1 1 0 0 0 2 0 1 0-2 0 2 0-3 0 2 0-1 0 0 0 0 1 0 0 2 0-2 0 1 0-1 0 0 0 0 0-2 0 3 0 0 1-2 0 1 0 0 0-1 0 1 0 1 0 0 0-1 0 2 0-1 0-1 1 0 0 2 0-1 0-1 0 1 0 0 0-1 0 0 0 0 0-2 0 2 1-1 0 1 0 0 0 1 0-1 0 0 0 0 0 1 0-1 0 0 0 0 1 1 0 0 0-3 0 2 0 0 0-2 0 2 0 1 0-2 0 1 0 2 1-2 0 0 0 0 0 0 0 1 0 0 0-2 0 2 0 0 0 1 0-1 1-1 0 2 0-2 0 0 0 0 0 0 0 0 0 0 0 0 0-1 0 3 1-3 0 3 0-1 0-2 0 0 0-1 0 1 0 3 0-5 0 4 0-1 1-1 0 1 0 2 0-2 0 0 0-1 0 1 0 1 0 0 0-2 0 2 1 0 0-1 0 1 0-2 0 2 0 0 0-1 0 1 0 0 0 0 0-1 1 1 0-1 0 3 0-6 0 4 0 1 0-2 0-2 0 3 0-1 0 1 1 1 0-2 0 0 0 1 0-1 0 0 0 1 0 0 0 0 0 1 0-1 1-1 0 3 0 0 0-2 0-2 0 0 0 2 0-2 0 2 0 0 0 0 1-1 0 0 0-1 0-1 0 4 0-1 0-3 0 3 0-1 0 1 0 0 1 1 0-3 0 1 0 2 0-2 0 1 0 1 0-2 0 0 0 1 1-2 0-1 0 3 0-2 0 1 0 1 0 1 0 0 0-1 0 0 0-2 1 0 0-2 0 5 0-2 0-1 0 0 0 1 0 0 0-1 0 2 0-1 1 0 0-2 0 1 0 2 0-1 0-2 0 1 0 3 0-1 0-1 0 1 1-2 0 2 0 0 0-1 0 0 0 0 0-1 0 2 0 0 0-3 0 1 1-1 0 1 0 1 0-2 0 1 0 1 0 0 0 0 0-1 0 3 0-3 1 2 0-2 0 2 0 1 0-1 0-3 0 3 0 0 0-2 0 2 0 0 1-1 0 1 0-1 0 1 0-1 0-2 0 3 0-2 0 0 0 3 0-2 1 0 0-3 0 3 0 1 0-1 0-1 0 1 0 0 0-1 0 0 0 0 1 1 0 2 0-2 0-1 0 1 0-1 0 0 0 1 0 1 0-1 0 1 1-2 0 3 0-2 0-1 0 1 0-1 0 2 0-2 0 1 0 2 0-1 1 0 0-1 0-1 0 1 0 1 0 0 0 0 0 0 0-2 0 2 0-3 1 1 0 0 0 1 0 0 0 4 0-4 0 2 0-3 0 3 0-3 0 2 1 0 0 0 0-1 0-1 0 0 0 1 0 1 0-1 0 0 0 1 1-2 0 1 0 0 0 1 0-3 0 2 0 2 0-4 0 2 0 0 0-1 1 0 0 0 0 3 0-2 0 1 0-1 0-2 0 3 0 0 0-2 0 0 1 3 0-1 0-1 0 1 0 1 0-1 0 1 0-1 0-1 0-1 0 3 1-4 0 2 0 1 0-1 0 0 0 0 0 1 0 0 0 1 0 1 0-2 1 0 0 0 0-1 0 0 0 0 0 1 0 1 0-2 0 1 0 0 0 2 1-1 0 0 0-3 0 0 0 1 0 1 0-2 0 2 0 0 0 0 0 1 1-3 0 0 0 2 0-1 0 1 0 0 0-3 0 4 0 0 0-3 0 1 1 1 0-1 0 1 0-2 0 3 0-3 0 1 0 1 0-2 0 2 0 0 1 0 0-2 0 3 0-3 0 0 0 1 0 1 0-1 0 0 0 1 0-1 1 0 0-1 0 1 0 0 0 2 0-2 0 1 0 0 0 1 0-1 0-1 1-2 0 2 0 1 0 0 0-3 0 1 0 0 0 1 0 1 0 0 0 1 1-3 0-1 0 2 0-1 0 1 0 0 0 1 0 0 0-1 0 1 0 0 1 1 0-1 0-3 0 3 0-1 0-1 0 2 0-1 0 0 0 0 0 0 1 1 0 0 0 2 0-1 0-2 0 1 0 1 0-1 0 0 0-1 1 0 0-1 0 1 0 1 0-1 0 1 0-2 0 2 0-2 0 0 0 1 1 2 0 0 0-3 0 3 0-2 0-2 0 4 0-2 0-1 0 2 0 1 1-3 0 2 0-2 0 0 0 1 0 0 0 0 0-1 0 1 0 2 0-2 1 2 0-2 0 1 0-1 0-1 0 3 0-1 0 0 0-1 0 1 0 0 1 1 0-1 0 0 0-1 0-1 0 2 0-2 0 2 0-1 0-1 0 1 1-1 0 0 0-1 0 4 0-2 0-1 0 2 0-2 0 0 0 1 0 1 1 0 0-1 0 0 0 0 0 0 0 0 0 0 0-1 0 2 0-2 0 0 1 3 0-1 0-3 0 2 0-1 0 3 0-2 0 1 0-2 0 2 0 2 1-1 0 0 0 0 0-2 0 1 0 0 0-1 0 0 0 2 0-1 0-1 1 1 0 2 0-3 0 0 0 0 0 2 0-2 0 0 0-1 0 1 0 1 1-2 0 0 0 0 0 3 0 0 0 2 0-5 0 2 0-3 0 2 0 0 1 0 0-2 0 4 0-1 0-1 0 0 0 0 0 2 0-1 0-1 0 2 1 0 0 0 0-2 0 1 0-1 0 2 0 0 0 0 0-1 0 0 0 0 1-2 0 2 0-1 0 1 0-1 0 1 0 1 0-1 0-2 0 1 1 1 0 0 0-1 0 0 0 1 0-1 0 0 0 1 0-1 0 0 0-1 1 2 0-2 0 2 0-2 0 2 0-1 0-1 0-1 0 3 0-1 0 1 1 0 0 1 0-2 0 1 0-2 0 2 0 0 0 0 0-2 0 2 0-2 1 2 0 0 0 1 0-3 0 3 0-4 0 3 0 0 0 0 0 1 0-1 1-3 0 3 0 0 0 0 0-1 0 0 0 1 0 0 0-2 0 2 0-1 1-1 0 1 0 0 0 0 0 1 0-3 0 4 0-2 0 1 0-2 0 1 1 0 0 1 0 0 0-1 0-1 0 2 0-1 0-1 0 3 0-1 0 1 1-1 0 0 0-1 0 0 0 0 0 2 0-2 0 0 0 1 0 1 0 0 1-2 0 1 0-1 0-1 0 2 0-2 0 0 0 1 0 2 0-3 0 3 1-5 0 3 0 0 0 1 0-1 0-1 0 1 0 0 0-1 0 0 0 3 1-2 0 2 0-2 0 0 0 0 0 0 0 0 0 0 0 0 0 0 0-2 1 5 0-3 0 0 0 1 0 0 0-4 0 2 0 1 0-1 0 3 0-1 1-2 0 2 0 1 0-2 0-2 0 3 0-1 0-2 0 1 0 1 1 0 0 1 0 0 0-2 0 1 0 1 0-2 0 1 0 0 0 0 0-1 1 2 0-1 0 1 0-1 0-1 0 2 0-1 0 0 0 2 0-1 0-3 1 2 0 0 0 2 0-3 0 1 0 0 0 2 0-4 0 1 0 0 0-1 1 0 0 1 0 0 0 1 0-1 0-1 0 3 0 0 0-2 0 3 0-3 1 1 0-1 0 0 0 2 0-1 0 1 0 0 0-1 0 2 0-3 0 0 1 2 0-1 0-1 0 1 0-1 0 2 0-1 0 0 0 1 0-3 0 3 1-1 0 1 0 0 0-1 0 0 0 2 0-1 0-1 0-1 0 1 0 1 1-1 0 1 0 0 0-1 0-2 0 1 0 3 0-3 0 2 0 0 0-2 1 0 0 3 0-2 0 2 0-2 0-1 0 1 0 0 0 0 0 1 0 0 1-2 0 0 0 0 0 3 0-2 0 1 0 0 0 0 0 0 0-2 0 0 1 0 0 0 0 1 0-1 0 1 0 2 0-2 0 1 0-2 0 0 0 4 1-1 0-1 0-1 0-1 0 1 0 3 0-4 0 0 0 1 0 0 0 0 1 0 0-1 0 1 0 3 0-2 0-3 0 4 0 0 0-1 0 0 0 1 1-4 0 2 0-1 0 3 0-3 0 2 0-2 0 3 0-2 0-1 1 0 0 0 0 1 0 0 0-1 0 3 0-1 0-2 0 2 0 1 0-1 1-3 0 2 0 0 0-2 0 2 0-1 0 0 0 2 0-3 0 3 0-2 1 3 0-2 0-1 0 4 0 0 0-5 0 3 0-4 0 4 0-1 0 0 1 0 0-1 0 0 0 1 0 1 0-1 0 2 0-3 0 2 0 1 0-3 1 2 0-2 0 1 0 3 0-2 0-1 0-1 0 2 0-1 0 0 0 0 1 3 0-2 0-1 0 1 0-2 0 2 0-1 0-1 0 2 0-4 0 3 1-1 0 0 0 0 0 1 0 1 0 0 0 0 0 1 0-4 0 0 0 2 1-1 0 1 0 1 0 1 0-1 0 0 0 0 0-2 0 1 0-1 0 1 1 0 0-1 0 2 0-2 0 3 0-2 0-1 0 2 0 1 0-2 0 0 1-1 0 0 0-1 0 2 0 2 0-2 0-2 0 2 0 0 0 1 0 0 1-3 0 2 0 0 0-1 0 3 0-2 0-1 0 1 0 1 0 1 0-1 1-1 0 1 0-2 0 1 0 0 0 0 0 3 0-2 0-1 0-2 0 3 1-1 0-1 0 0 0 1 0-2 0 1 0 2 0-2 0 0 0 0 1 3 0-3 0 1 0 1 0-1 0-1 0 4 0-2 0 0 0-2 0 4 1-2 0-2 0-1 0 3 0-2 0 3 0-4 0 1 0 3 0-2 0 1 1-1 0 1 0-1 0 0 0 1 0-1 0 1 0 2 0-3 0 2 0-2 1-1 0 1 0 1 0 1 0-1 0-1 0 1 0-1 0 2 0-1 0-1 1 0 0 0 0 0 0 2 0-3 0 2 0 0 0-2 0 2 0 0 0-3 1 3 0-1 0 0 0-1 0 1 0 2 0-3 0 3 0 1 0-1 0-3 1 2 0-1 0-2 0 2 0-2 0 2 0-1 0-1 0 2 0-1 0 3 1 0 0 1 0-3 0 0 0 0 0 1 0-1 0 2 0-2 0 0 0 2 1-1 0 0 0-1 0 0 0 0 0-1 0 1 0-1 0 1 0-1 0-1 1 2 0-1 0 0 0 0 0 4 0-3 0 2 0-1 0-1 0-1 0 2 1 0 0-1 0 0 0-1 0 0 0 1 0 1 0 1 0-4 0 3 0-1 1-1 0 1 0 1 0-1 0 0 0 0 0 0 0 3 0 0 0-2 0-3 1 4 0-2 0 0 0 0 0 1 0-2 0 2 0 0 0-1 0 0 0-1 1 1 0 0 0 0 0-1 0 1 0 0 0 0 0-1 0 3 0-2 1 2 0-2 0 1 0-3 0 4 0-4 0 2 0-1 0 2 0 0 0-2 1 2 0 0 0-2 0 1 0 0 0 0 0 1 0 0 0-2 0 1 0 0 1 0 0-2 0 1 0 0 0 1 0 1 0-2 0 4 0-4 0 1 0 0 1-1 0 2 0-1 0-1 0 1 0-1 0 2 0-1 0-1 0 2 0-3 1 3 0 0 0-1 0 1 0 0 0 0 0-2 0 2 0-1 0-1 0 2 1-2 0 2 0 0 0 0 0-2 0 1 0 1 0 0 0 1 0-1 0-2 1 1 0 0 0-1 0 0 0 0 0 1 0 2 0-2 0-1 0-1 0 1 1 4 0-3 0 0 0 3 0-2 0-1 0 0 0-1 0 2 0-1 0-1 1 0 0 0 0 0 0 1 0-2 0 4 0-1 0-3 0 1 0 1 0 1 1 0 0-1 0 0 0-1 0 2 0-2 0 1 0-1 0 1 0 2 0-1 1-2 0 2 0 0 0-2 0 0 0 2 0-2 0 1 0 1 0 0 0 1 1-3 0 3 0-5 0 4 0-1 0-1 0-1 0 2 0 1 0-2 0 2 1-1 0 0 0-1 0 3 0-3 0 2 0-2 0 1 0 0 0 2 1-2 0 1 0-2 0 3 0-3 0 2 0 0 0-2 0 2 0-2 0 0 1 0 0 0 0 1 0 1 0 1 0-2 0-1 0 2 0-3 0 3 0-2 1 0 0-1 0 3 0-1 0 0 0-2 0 1 0 0 0 2 0 1 0-1 1 1 0-1 0-1 0 0 0-2 0 3 0 0 0-2 0 2 0-1 0-2 1 2 0 1 0-2 0 1 0 1 0-1 0-1 0-1 0 2 0 0 0 2 1-1 0-1 0-2 0 0 0 1 0 0 0 2 0-1 0 0 0 1 0-1 1 1 0-1 0 1 0-1 0 2 0-2 0 1 0 1 0-2 0-1 0 2 1 1 0 0 0-2 0 2 0-2 0 0 0 1 0-1 0-1 0 1 0 3 1-2 0 0 0-2 0 1 0 0 0 0 0 1 0-3 0 2 0 1 0 0 1-4 0 4 0-1 0-1 0 3 0 0 0-2 0 0 0-1 0 0 0 1 1-2 0 2 0 2 0-3 0 0 0 1 0 0 0 0 0 0 0 1 0-1 1 1 0 0 0 0 0-1 0-1 0 2 0-2 0 0 0 2 0-2 0 0 1 2 0-1 0 1 0 0 0-2 0 2 0 0 0-3 0 1 0 1 0 2 1-2 0 0 0 1 0-1 0 0 0 0 0 0 0 1 0-1 0 0 1 1 0-2 0-1 0 4 0-5 0 4 0-2 0 2 0 0 0-2 0 1 1 0 0 0 0 0 0 1 0-1 0 0 0 1 0 1 0-3 0 3 0-1 1-1 0 1 0-1 0-3 0 2 0 0 0 2 0 0 0 1 0 0 0-1 1 0 0-1 0 0 0 1 0 1 0-2 0 0 0 1 0 0 0-2 0-1 1 1 0 2 0 0 0-1 0 2 0-4 0 1 0 2 0 1 0-4 0 5 1-3 0-1 0 0 0 2 0 2 0-3 0 2 0-2 0 1 0 0 0-1 1-1 0 1 0-2 0 2 0 2 0-2 0-1 0 0 0 0 0-1 0 2 1-1 0 1 0 0 0-1 0 3 0-2 0-2 0 3 0-1 0-2 0 3 1-1 0 0 0-2 0 1 0 1 0-1 0 1 0 1 0 0 0 0 0-1 1-1 0 0 0 0 0 1 0 1 0-2 0 3 0-3 0 0 0 1 0-1 1-1 0 1 0 2 0 0 0-3 0 3 0-1 0 0 0 1 0 0 0 0 1-1 0-1 0 2 0-3 0 3 0-2 0-1 0 2 0 0 0-1 0 1 1-1 0 1 0-1 0 1 0 1 0-2 0 3 0-4 0 3 0-2 0 0" fill="none" stroke="none" marker-start="url(#mx)" marker-mid="url(#mx)" marker-end="url(#mx)"/><text x="120.5" y="763.0" text-anchor="end" font-family='"Liberation Sans", sans-serif' font-size="22.5" fill="#262626">0.15</text><text x="120.5" y="697.3" text-anchor="end" font-family='"Liberation Sans", sans-serif' font-size="22.5" fill="#262626">0.2</text><text x="120.5" y="631.6" text-anchor="end" font-family='"Liberation Sans", sans-serif' font-size="22.5" fill="#262626">0.25</text><text x="120.5" y="565.9" text-anchor="end" font-family='"Liberation Sans", sans-serif' font-size="22.5" fill="#262626">0.3</text><text x="120.5" y="500.2" text-anchor="end" font-family='"Liberation Sans", sans-serif' font-size="22.5" fill="#262626">0.35</text><text x="120.5" y="434.5" text-anchor="end" font-family='"Liberation Sans", sans-serif' font-size="22.5" fill="#262626">0.4</text><text x="120.5" y="368.8" text-anchor="end" font-family='"Liberation Sans", sans-serif' font-size="22.5" fill="#262626">0.45</text><text x="120.5" y="303.1" text-anchor="end" font-family='"Liberation Sans", sans-serif' font-size="22.5" fill="#262626">0.5</text><text x="120.5" y="237.4" text-anchor="end" font-family='"Liberation Sans", sans-serif' font-size="22.5" fill="#262626">0.55</text><text x="120.5" y="171.7" text-anchor="end" font-family='"Liberation Sans", sans-serif' font-size="22.5" fill="#262626">0.6</text><text x="120.5" y="106.0" text-anchor="end" font-family='"Liberation Sans", sans-serif' font-size="22.5" fill="#262626">0.65</text><text x="140.3" y="808.2" text-anchor="middle" font-family='"Liberation Sans", sans-serif' font-size="22.5" fill="#262626">2003</text><text x="207.2" y="808.2" text-anchor="middle" font-family='"Liberation Sans", sans-serif' font-size="22.5" fill="#262626">2005</text><text x="274.1" y="808.2" text-anchor="middle" font-family='"Liberation Sans", sans-serif' font-size="22.5" fill="#262626">2007</text><text x="341.0" y="808.2" text-anchor="middle" font-family='"Liberation Sans", sans-serif' font-size="22.5" fill="#262626">2009</text><text x="407.9" y="808.2" text-anchor="middle" font-family='"Liberation Sans", sans-serif' font-size="22.5" fill="#262626">2011</text><text x="474.8" y="808.2" text-anchor="middle" font-family='"Liberation Sans", sans-serif' font-size="22.5" fill="#262626">2013</text><text x="541.8" y="808.2" text-anchor="middle" font-family='"Liberation Sans", sans-serif' font-size="22.5" fill="#262626">2015</text><text x="608.7" y="808.2" text-anchor="middle" font-family='"Liberation Sans", sans-serif' font-size="22.5" fill="#262626">2017</text><text x="675.6" y="808.2" text-anchor="middle" font-family='"Liberation Sans", sans-serif' font-size="22.5" fill="#262626">2019</text><text x="742.5" y="808.2" text-anchor="middle" font-family='"Liberation Sans", sans-serif' font-size="22.5" fill="#262626">2021</text><text x="809.4" y="808.2" text-anchor="middle" font-family='"Liberation Sans", sans-serif' font-size="22.5" fill="#262626">2023</text><text x="876.3" y="808.2" text-anchor="middle" font-family='"Liberation Sans", sans-serif' font-size="22.5" fill="#262626">2025</text><text transform="translate(62.9 425.2) rotate(-90)" text-anchor="middle" font-family='"Liberation Sans", sans-serif' font-size="24.5" fill="#262626" textLength="431" lengthAdjust="spacingAndGlyphs">Noise Equivalent Delta Temperature (K)</text><text x="525" y="23" text-anchor="middle" font-family='"Liberation Sans", sans-serif' font-size="23" font-weight="bold" fill="#000" textLength="385" lengthAdjust="spacingAndGlyphs">AIRS Channel 146 NEdT (@250K)</text><text x="525" y="52.6" text-anchor="middle" font-family='"Liberation Sans", sans-serif' font-size="23" font-weight="bold" fill="#000" textLength="262" lengthAdjust="spacingAndGlyphs">[M−11, 691.664 cm−1]</text><rect x="935.5" y="64.5" width="136" height="79" fill="#fff" stroke="#262626" stroke-width="1"/><path d="M971 75.5L980 84.5M980 75.5L971 84.5" stroke="#00ff00" stroke-width="1" fill="none"/><path d="M969 104.5H982M975.5 98V111" stroke="#ff0000" stroke-width="1" fill="none"/><circle cx="975.5" cy="128" r="6.5" stroke="#0000ff" stroke-width="1" fill="none"/><text x="1013" y="87.8" font-family='"Liberation Sans", sans-serif' font-size="19" fill="#000" textLength="47.5" lengthAdjust="spacingAndGlyphs">Mean</text><text x="1013" y="110.8" font-family='"Liberation Sans", sans-serif' font-size="19" fill="#000" textLength="36.2" lengthAdjust="spacingAndGlyphs">Max</text><text x="1013" y="135.0" font-family='"Liberation Sans", sans-serif' font-size="19" fill="#000" textLength="31.5" lengthAdjust="spacingAndGlyphs">Min</text><circle cx="936" cy="26" r="21" fill="#1d3f9a"/><ellipse cx="934" cy="24" rx="13" ry="5" transform="rotate(55 934 24)" fill="none" stroke="#cfd8f0" stroke-width="0.8"/><path d="M913 32 C928 27 942 22 951 17 L964 8 L955 20 C944 27 930 31 913 32Z" fill="#e8322a"/><g fill="#fff"><circle cx="940" cy="9.5" r="0.6"/><circle cx="926" cy="15.5" r="0.6"/><circle cx="930" cy="15" r="0.6"/><circle cx="948" cy="33" r="0.6"/><circle cx="950" cy="38" r="0.6"/><circle cx="928" cy="41.5" r="0.6"/><circle cx="921" cy="35" r="0.6"/><circle cx="944" cy="6" r="0.6"/><circle cx="924" cy="22" r="0.6"/><circle cx="953" cy="14" r="0.6"/></g><text x="936.5" y="29.5" text-anchor="middle" font-family='"Liberation Sans", sans-serif' font-size="11.5" font-weight="bold" fill="#fff" stroke="#fff" stroke-width="0.35" textLength="35.5" lengthAdjust="spacingAndGlyphs">NASA</text><text x="966" y="24.7" font-family='"Liberation Sans", sans-serif' font-size="14" font-weight="bold" fill="#000" textLength="174" lengthAdjust="spacingAndGlyphs">Jet Propulsion Laboratory</text><text x="966" y="37.8" font-family='"Liberation Sans", sans-serif' font-size="11.5" fill="#000" textLength="173" lengthAdjust="spacingAndGlyphs">California Institute of Technology</text></svg></body></html>
